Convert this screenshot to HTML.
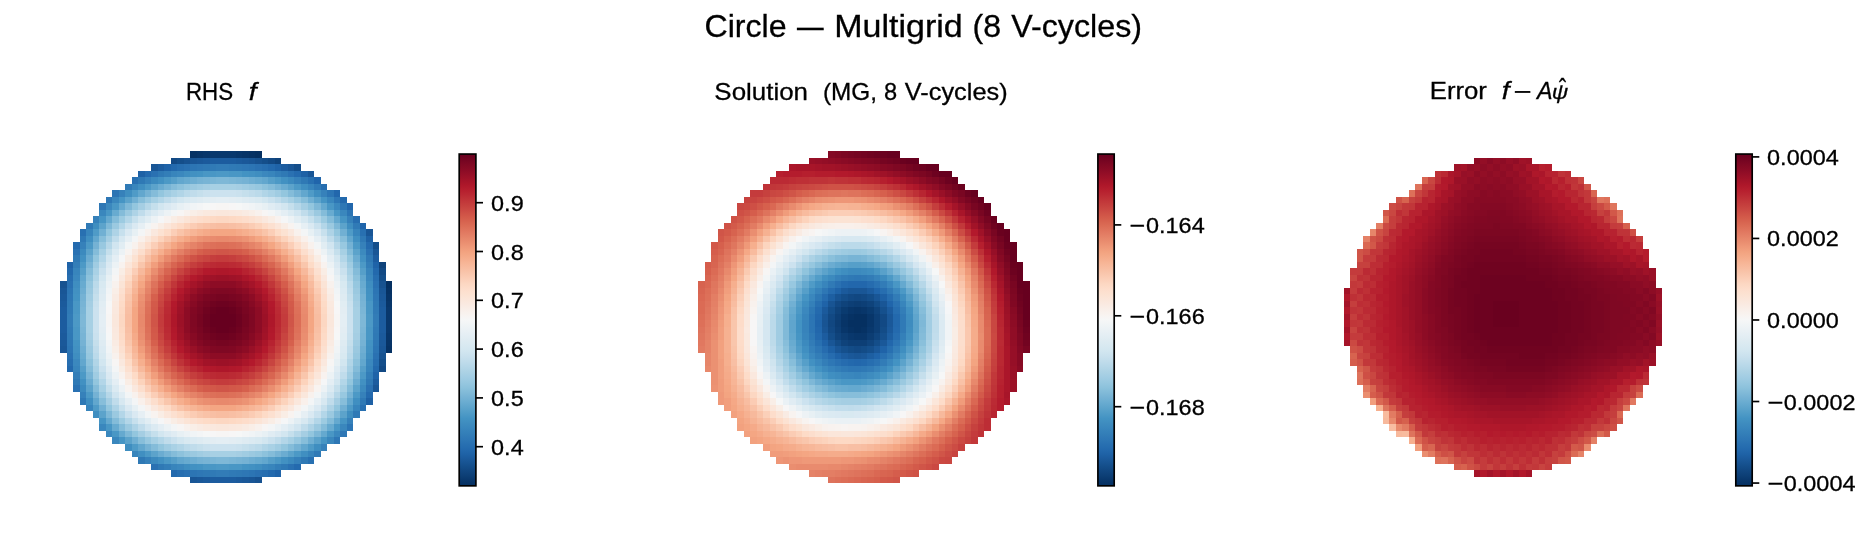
<!DOCTYPE html>
<html><head><meta charset="utf-8"><title>Circle — Multigrid (8 V-cycles)</title>
<style>html,body{margin:0;padding:0;background:#fff;}body{width:1872px;height:543px;overflow:hidden;}svg{display:block;}text{font-family:"Liberation Sans",sans-serif;fill:#000;stroke:#000;stroke-width:0.3px;}g.t{filter:opacity(100%);}</style></head><body>
<svg width="1872" height="543" viewBox="0 0 1872 543">
<rect width="1872" height="543" fill="#fff"/>
<g shape-rendering="crispEdges">
<g id="p1"><path fill="#063264" d="M190 151h7v7h-7zM249 151h6v7h-6zM386 288h6v6h-6zM386 346h6v7h-6z"/>
<path fill="#073467" d="M197 151h6v7h-6zM242 151h7v7h-7zM386 294h6v7h-6zM386 340h6v6h-6z"/>
<path fill="#08366a" d="M203 151h7v7h-7zM236 151h6v7h-6zM386 301h6v6h-6zM386 333h6v7h-6z"/>
<path fill="#09386d" d="M210 151h6v7h-6zM216 151h7v7h-7zM223 151h6v7h-6zM229 151h7v7h-7zM386 307h6v7h-6zM386 314h6v6h-6zM386 320h6v7h-6zM386 327h6v6h-6z"/>
<path fill="#053061" d="M255 151h7v7h-7zM386 281h6v7h-6z"/>
<path fill="#124984" d="M171 158h6v6h-6zM268 158h7v6h-7zM379 268h7v7h-7zM379 366h7v6h-7z"/>
<path fill="#144e8a" d="M177 158h7v6h-7zM262 158h6v6h-6zM294 164h7v7h-7zM373 242h6v7h-6zM379 275h7v6h-7zM379 359h7v7h-7z"/>
<path fill="#175290" d="M184 158h6v6h-6zM255 158h7v6h-7zM60 281h7v7h-7zM379 281h7v7h-7zM379 353h7v6h-7zM255 477h7v6h-7z"/>
<path fill="#195696" d="M190 158h7v6h-7zM249 158h6v6h-6zM151 164h7v7h-7zM288 164h6v7h-6zM308 171h6v6h-6zM366 229h7v7h-7zM373 249h6v6h-6zM60 288h7v6h-7zM379 288h7v6h-7zM60 346h7v7h-7zM379 346h7v7h-7zM373 385h6v7h-6zM190 477h7v6h-7zM249 477h6v6h-6z"/>
<path fill="#1a5899" d="M197 158h6v6h-6zM242 158h7v6h-7zM60 294h7v7h-7zM379 294h7v7h-7zM60 340h7v6h-7zM379 340h7v6h-7zM197 477h6v6h-6zM242 477h7v6h-7z"/>
<path fill="#1b5a9c" d="M203 158h7v6h-7zM236 158h6v6h-6zM60 301h7v6h-7zM379 301h7v6h-7zM60 333h7v7h-7zM379 333h7v7h-7zM203 477h7v6h-7zM236 477h6v6h-6z"/>
<path fill="#1c5c9f" d="M210 158h6v6h-6zM216 158h7v6h-7zM223 158h6v6h-6zM229 158h7v6h-7zM158 164h6v7h-6zM281 164h7v7h-7zM373 255h6v7h-6zM60 307h7v7h-7zM379 307h7v7h-7zM60 314h7v6h-7zM379 314h7v6h-7zM60 320h7v7h-7zM379 320h7v7h-7zM60 327h7v6h-7zM379 327h7v6h-7zM373 379h6v6h-6zM210 477h6v6h-6zM216 477h7v6h-7zM223 477h6v6h-6zM229 477h7v6h-7z"/>
<path fill="#0f437b" d="M275 158h6v6h-6zM379 262h7v6h-7z"/>
<path fill="#1f63a8" d="M164 164h7v7h-7zM275 164h6v7h-6zM67 262h6v6h-6zM373 262h6v6h-6zM373 372h6v7h-6zM275 470h6v7h-6z"/>
<path fill="#2369ad" d="M171 164h6v7h-6zM268 164h7v7h-7zM340 197h7v6h-7zM67 268h6v7h-6zM373 268h6v7h-6zM67 366h6v6h-6zM373 366h6v6h-6zM171 470h6v7h-6zM268 470h7v7h-7z"/>
<path fill="#276eb0" d="M177 164h7v7h-7zM262 164h6v7h-6zM321 184h6v6h-6zM353 216h7v7h-7zM67 275h6v6h-6zM373 275h6v6h-6zM67 359h6v7h-6zM373 359h6v7h-6zM177 470h7v7h-7zM262 470h6v7h-6z"/>
<path fill="#2a71b2" d="M184 164h6v7h-6zM255 164h7v7h-7zM151 171h7v6h-7zM288 171h6v6h-6zM73 249h7v6h-7zM366 249h7v6h-7zM67 281h6v7h-6zM373 281h6v7h-6zM67 353h6v6h-6zM373 353h6v6h-6zM73 385h7v7h-7zM366 385h7v7h-7zM151 464h7v6h-7zM288 464h6v6h-6zM184 470h6v7h-6zM255 470h7v7h-7z"/>
<path fill="#2c75b4" d="M190 164h7v7h-7zM249 164h6v7h-6zM112 190h7v7h-7zM327 190h7v7h-7zM347 210h6v6h-6zM67 288h6v6h-6zM373 288h6v6h-6zM67 346h6v7h-6zM373 346h6v7h-6zM347 424h6v7h-6zM190 470h7v7h-7zM249 470h6v7h-6z"/>
<path fill="#2e77b5" d="M197 164h6v7h-6zM242 164h7v7h-7zM106 197h6v6h-6zM334 197h6v6h-6zM99 203h7v7h-7zM340 203h7v7h-7zM67 294h6v7h-6zM373 294h6v7h-6zM67 340h6v6h-6zM373 340h6v6h-6zM340 431h7v6h-7zM334 437h6v7h-6zM197 470h6v7h-6zM242 470h7v7h-7z"/>
<path fill="#2f79b5" d="M203 164h7v7h-7zM236 164h6v7h-6zM158 171h6v6h-6zM281 171h7v6h-7zM138 177h7v7h-7zM301 177h7v7h-7zM80 236h6v6h-6zM360 236h6v6h-6zM73 255h7v7h-7zM366 255h7v7h-7zM67 301h6v6h-6zM373 301h6v6h-6zM67 333h6v7h-6zM373 333h6v7h-6zM73 379h7v6h-7zM366 379h7v6h-7zM80 398h6v7h-6zM360 398h6v7h-6zM138 457h7v7h-7zM301 457h7v7h-7zM158 464h6v6h-6zM281 464h7v6h-7zM203 470h7v7h-7zM236 470h6v7h-6z"/>
<path fill="#307ab6" d="M210 164h6v7h-6zM229 164h7v7h-7zM125 184h7v6h-7zM314 184h7v6h-7zM86 223h7v6h-7zM353 223h7v6h-7zM67 307h6v7h-6zM373 307h6v7h-6zM67 327h6v6h-6zM373 327h6v6h-6zM353 411h7v7h-7zM314 451h7v6h-7zM210 470h6v7h-6zM229 470h7v7h-7z"/>
<path fill="#327cb7" d="M216 164h7v7h-7zM223 164h6v7h-6zM67 314h6v6h-6zM373 314h6v6h-6zM67 320h6v7h-6zM373 320h6v7h-6zM216 470h7v7h-7zM223 470h6v7h-6z"/>
<path fill="#1e61a5" d="M138 171h7v6h-7zM301 171h7v6h-7zM366 236h7v6h-7zM366 398h7v7h-7z"/>
<path fill="#246aae" d="M145 171h6v6h-6zM294 171h7v6h-7zM73 242h7v7h-7zM366 242h7v7h-7zM366 392h7v6h-7zM294 464h7v6h-7z"/>
<path fill="#337eb8" d="M164 171h7v6h-7zM275 171h6v6h-6zM73 262h7v6h-7zM366 262h7v6h-7zM73 372h7v7h-7zM366 372h7v7h-7zM164 464h7v6h-7zM275 464h6v6h-6z"/>
<path fill="#3885bc" d="M171 171h6v6h-6zM268 171h7v6h-7zM132 184h6v6h-6zM308 184h6v6h-6zM86 229h7v7h-7zM353 229h7v7h-7zM73 268h7v7h-7zM366 268h7v7h-7zM73 366h7v6h-7zM366 366h7v6h-7zM86 405h7v6h-7zM353 405h7v6h-7zM132 451h6v6h-6zM308 451h6v6h-6zM171 464h6v6h-6zM268 464h7v6h-7z"/>
<path fill="#3b88be" d="M177 171h7v6h-7zM262 171h6v6h-6zM106 203h6v7h-6zM334 203h6v7h-6zM73 275h7v6h-7zM366 275h7v6h-7zM73 359h7v7h-7zM366 359h7v7h-7zM106 431h6v6h-6zM334 431h6v6h-6zM177 464h7v6h-7zM262 464h6v6h-6z"/>
<path fill="#3f8ec0" d="M184 171h6v6h-6zM255 171h7v6h-7zM125 190h7v7h-7zM314 190h7v7h-7zM93 223h6v6h-6zM347 223h6v6h-6zM73 281h7v7h-7zM366 281h7v7h-7zM73 353h7v6h-7zM366 353h7v6h-7zM93 411h6v7h-6zM347 411h6v7h-6zM125 444h7v7h-7zM314 444h7v7h-7zM184 464h6v6h-6zM255 464h7v6h-7z"/>
<path fill="#4291c2" d="M190 171h7v6h-7zM249 171h6v6h-6zM158 177h6v7h-6zM281 177h7v7h-7zM80 255h6v7h-6zM360 255h6v7h-6zM73 288h7v6h-7zM366 288h7v6h-7zM73 346h7v7h-7zM366 346h7v7h-7zM80 379h6v6h-6zM360 379h6v6h-6zM158 457h6v7h-6zM281 457h7v7h-7zM190 464h7v6h-7zM249 464h6v6h-6z"/>
<path fill="#4393c3" d="M197 171h6v6h-6zM242 171h7v6h-7zM73 294h7v7h-7zM366 294h7v7h-7zM73 340h7v6h-7zM366 340h7v6h-7zM197 464h6v6h-6zM242 464h7v6h-7z"/>
<path fill="#4997c5" d="M203 171h7v6h-7zM210 171h6v6h-6zM229 171h7v6h-7zM236 171h6v6h-6zM112 203h7v7h-7zM327 203h7v7h-7zM106 210h6v6h-6zM334 210h6v6h-6zM73 301h7v6h-7zM366 301h7v6h-7zM73 307h7v7h-7zM366 307h7v7h-7zM73 327h7v6h-7zM366 327h7v6h-7zM73 333h7v7h-7zM366 333h7v7h-7zM106 424h6v7h-6zM334 424h6v7h-6zM112 431h7v6h-7zM327 431h7v6h-7zM203 464h7v6h-7zM210 464h6v6h-6zM229 464h7v6h-7zM236 464h6v6h-6z"/>
<path fill="#4c99c6" d="M216 171h7v6h-7zM223 171h6v6h-6zM164 177h7v7h-7zM275 177h6v7h-6zM145 184h6v6h-6zM294 184h7v6h-7zM86 242h7v7h-7zM353 242h7v7h-7zM80 262h6v6h-6zM360 262h6v6h-6zM73 314h7v6h-7zM366 314h7v6h-7zM73 320h7v7h-7zM366 320h7v7h-7zM80 372h6v7h-6zM360 372h6v7h-6zM86 392h7v6h-7zM353 392h7v6h-7zM145 451h6v6h-6zM294 451h7v6h-7zM164 457h7v7h-7zM275 457h6v7h-6zM216 464h7v6h-7zM223 464h6v6h-6z"/>
<path fill="#2870b1" d="M132 177h6v7h-6zM308 177h6v7h-6zM80 229h6v7h-6zM360 229h6v7h-6zM360 405h6v6h-6zM308 457h6v7h-6z"/>
<path fill="#3681ba" d="M145 177h6v7h-6zM294 177h7v7h-7zM119 190h6v7h-6zM321 190h6v7h-6zM93 216h6v7h-6zM347 216h6v7h-6zM80 242h6v7h-6zM360 242h6v7h-6zM80 392h6v6h-6zM360 392h6v6h-6zM347 418h6v6h-6zM321 444h6v7h-6zM145 457h6v7h-6zM294 457h7v7h-7z"/>
<path fill="#3c8abe" d="M151 177h7v7h-7zM288 177h6v7h-6zM80 249h6v6h-6zM360 249h6v6h-6zM80 385h6v7h-6zM360 385h6v7h-6zM151 457h7v7h-7zM288 457h6v7h-6z"/>
<path fill="#569fc9" d="M171 177h6v7h-6zM268 177h7v7h-7zM80 268h6v7h-6zM360 268h6v7h-6zM80 366h6v6h-6zM360 366h6v6h-6zM171 457h6v7h-6zM268 457h7v7h-7z"/>
<path fill="#62a7ce" d="M177 177h7v7h-7zM262 177h6v7h-6zM138 190h7v7h-7zM301 190h7v7h-7zM93 236h6v6h-6zM347 236h6v6h-6zM80 275h6v6h-6zM360 275h6v6h-6zM80 359h6v7h-6zM360 359h6v7h-6zM93 398h6v7h-6zM347 398h6v7h-6zM138 444h7v7h-7zM301 444h7v7h-7zM177 457h7v7h-7zM262 457h6v7h-6z"/>
<path fill="#68abd0" d="M184 177h6v7h-6zM255 177h7v7h-7zM112 210h7v6h-7zM327 210h7v6h-7zM80 281h6v7h-6zM360 281h6v7h-6zM80 353h6v6h-6zM360 353h6v6h-6zM112 424h7v7h-7zM327 424h7v7h-7zM184 457h6v7h-6zM255 457h7v7h-7z"/>
<path fill="#6eaed2" d="M190 177h7v7h-7zM249 177h6v7h-6zM80 288h6v6h-6zM360 288h6v6h-6zM80 346h6v7h-6zM360 346h6v7h-6zM190 457h7v7h-7zM249 457h6v7h-6z"/>
<path fill="#75b2d4" d="M197 177h6v7h-6zM242 177h7v7h-7zM145 190h6v7h-6zM294 190h7v7h-7zM93 242h6v7h-6zM347 242h6v7h-6zM80 294h6v7h-6zM360 294h6v7h-6zM80 340h6v6h-6zM360 340h6v6h-6zM93 392h6v6h-6zM347 392h6v6h-6zM145 444h6v7h-6zM294 444h7v7h-7zM197 457h6v7h-6zM242 457h7v7h-7z"/>
<path fill="#78b4d5" d="M203 177h7v7h-7zM236 177h6v7h-6zM164 184h7v6h-7zM275 184h6v6h-6zM86 262h7v6h-7zM353 262h7v6h-7zM80 301h6v6h-6zM360 301h6v6h-6zM80 333h6v7h-6zM360 333h6v7h-6zM86 372h7v7h-7zM353 372h7v7h-7zM164 451h7v6h-7zM275 451h6v6h-6zM203 457h7v7h-7zM236 457h6v7h-6z"/>
<path fill="#7bb6d6" d="M210 177h6v7h-6zM229 177h7v7h-7zM80 307h6v7h-6zM360 307h6v7h-6zM80 327h6v6h-6zM360 327h6v6h-6zM210 457h6v7h-6zM229 457h7v7h-7z"/>
<path fill="#7eb8d7" d="M216 177h7v7h-7zM223 177h6v7h-6zM125 203h7v7h-7zM314 203h7v7h-7zM106 223h6v6h-6zM334 223h6v6h-6zM80 314h6v6h-6zM360 314h6v6h-6zM80 320h6v7h-6zM360 320h6v7h-6zM106 411h6v7h-6zM334 411h6v7h-6zM125 431h7v6h-7zM314 431h7v6h-7zM216 457h7v7h-7zM223 457h6v7h-6z"/>
<path fill="#2065ab" d="M314 177h7v7h-7zM360 223h6v6h-6z"/>
<path fill="#408fc1" d="M138 184h7v6h-7zM301 184h7v6h-7zM86 236h7v6h-7zM353 236h7v6h-7zM86 398h7v7h-7zM353 398h7v7h-7zM138 451h7v6h-7zM301 451h7v6h-7z"/>
<path fill="#5ca3cb" d="M151 184h7v6h-7zM288 184h6v6h-6zM125 197h7v6h-7zM314 197h7v6h-7zM99 223h7v6h-7zM340 223h7v6h-7zM86 249h7v6h-7zM353 249h7v6h-7zM86 385h7v7h-7zM353 385h7v7h-7zM99 411h7v7h-7zM340 411h7v7h-7zM125 437h7v7h-7zM314 437h7v7h-7zM151 451h7v6h-7zM288 451h6v6h-6z"/>
<path fill="#6bacd1" d="M158 184h6v6h-6zM281 184h7v6h-7zM86 255h7v7h-7zM353 255h7v7h-7zM86 379h7v6h-7zM353 379h7v6h-7zM158 451h6v6h-6zM281 451h7v6h-7z"/>
<path fill="#84bcd9" d="M171 184h6v6h-6zM268 184h7v6h-7zM151 190h7v7h-7zM288 190h6v7h-6zM119 210h6v6h-6zM321 210h6v6h-6zM112 216h7v7h-7zM327 216h7v7h-7zM93 249h6v6h-6zM347 249h6v6h-6zM86 268h7v7h-7zM353 268h7v7h-7zM86 366h7v6h-7zM353 366h7v6h-7zM93 385h6v7h-6zM347 385h6v7h-6zM112 418h7v6h-7zM327 418h7v6h-7zM119 424h6v7h-6zM321 424h6v7h-6zM151 444h7v7h-7zM288 444h6v7h-6zM171 451h6v6h-6zM268 451h7v6h-7z"/>
<path fill="#8dc2dc" d="M177 184h7v6h-7zM262 184h6v6h-6zM86 275h7v6h-7zM353 275h7v6h-7zM86 359h7v7h-7zM353 359h7v7h-7zM177 451h7v6h-7zM262 451h6v6h-6z"/>
<path fill="#96c7df" d="M184 184h6v6h-6zM255 184h7v6h-7zM86 281h7v7h-7zM353 281h7v7h-7zM86 353h7v6h-7zM353 353h7v6h-7zM184 451h6v6h-6zM255 451h7v6h-7z"/>
<path fill="#9bc9e0" d="M190 184h7v6h-7zM249 184h6v6h-6zM125 210h7v6h-7zM314 210h7v6h-7zM112 223h7v6h-7zM327 223h7v6h-7zM86 288h7v6h-7zM353 288h7v6h-7zM86 346h7v7h-7zM353 346h7v7h-7zM112 411h7v7h-7zM327 411h7v7h-7zM125 424h7v7h-7zM314 424h7v7h-7zM190 451h7v6h-7zM249 451h6v6h-6z"/>
<path fill="#a0cce2" d="M197 184h6v6h-6zM242 184h7v6h-7zM164 190h7v7h-7zM275 190h6v7h-6zM93 262h6v6h-6zM347 262h6v6h-6zM86 294h7v7h-7zM353 294h7v7h-7zM86 340h7v6h-7zM353 340h7v6h-7zM93 372h6v7h-6zM347 372h6v7h-6zM164 444h7v7h-7zM275 444h6v7h-6zM197 451h6v6h-6zM242 451h7v6h-7z"/>
<path fill="#a5cee3" d="M203 184h7v6h-7zM236 184h6v6h-6zM138 203h7v7h-7zM301 203h7v7h-7zM106 236h6v6h-6zM334 236h6v6h-6zM86 301h7v6h-7zM353 301h7v6h-7zM86 333h7v7h-7zM353 333h7v7h-7zM106 398h6v7h-6zM334 398h6v7h-6zM138 431h7v6h-7zM301 431h7v6h-7zM203 451h7v6h-7zM236 451h6v6h-6z"/>
<path fill="#a7d0e4" d="M210 184h6v6h-6zM216 184h7v6h-7zM223 184h6v6h-6zM229 184h7v6h-7zM151 197h7v6h-7zM288 197h6v6h-6zM99 249h7v6h-7zM340 249h7v6h-7zM86 307h7v7h-7zM353 307h7v7h-7zM86 314h7v6h-7zM353 314h7v6h-7zM86 320h7v7h-7zM353 320h7v7h-7zM86 327h7v6h-7zM353 327h7v6h-7zM99 385h7v7h-7zM340 385h7v7h-7zM151 437h7v7h-7zM288 437h6v7h-6zM210 451h6v6h-6zM216 451h7v6h-7zM223 451h6v6h-6zM229 451h7v6h-7z"/>
<path fill="#4f9bc7" d="M132 190h6v7h-6zM308 190h6v7h-6zM93 229h6v7h-6zM347 229h6v7h-6zM93 405h6v6h-6zM347 405h6v6h-6zM132 444h6v7h-6zM308 444h6v7h-6z"/>
<path fill="#93c6de" d="M158 190h6v7h-6zM281 190h7v7h-7zM132 203h6v7h-6zM308 203h6v7h-6zM106 229h6v7h-6zM334 229h6v7h-6zM93 255h6v7h-6zM347 255h6v7h-6zM93 379h6v6h-6zM347 379h6v6h-6zM106 405h6v6h-6zM334 405h6v6h-6zM132 431h6v6h-6zM308 431h6v6h-6zM158 444h6v7h-6zM281 444h7v7h-7z"/>
<path fill="#a9d1e5" d="M171 190h6v7h-6zM268 190h7v7h-7zM93 268h6v7h-6zM347 268h6v7h-6zM93 366h6v6h-6zM347 366h6v6h-6zM171 444h6v7h-6zM268 444h7v7h-7z"/>
<path fill="#b1d5e7" d="M177 190h7v7h-7zM262 190h6v7h-6zM93 275h6v6h-6zM347 275h6v6h-6zM93 359h6v7h-6zM347 359h6v7h-6zM177 444h7v7h-7zM262 444h6v7h-6z"/>
<path fill="#bbdaea" d="M184 190h6v7h-6zM255 190h7v7h-7zM93 281h6v7h-6zM347 281h6v7h-6zM93 353h6v6h-6zM347 353h6v6h-6zM184 444h6v7h-6zM255 444h7v7h-7z"/>
<path fill="#c0dceb" d="M190 190h7v7h-7zM249 190h6v7h-6zM164 197h7v6h-7zM275 197h6v6h-6zM138 210h7v6h-7zM301 210h7v6h-7zM112 236h7v6h-7zM327 236h7v6h-7zM99 262h7v6h-7zM340 262h7v6h-7zM93 288h6v6h-6zM347 288h6v6h-6zM93 346h6v7h-6zM347 346h6v7h-6zM99 372h7v7h-7zM340 372h7v7h-7zM112 398h7v7h-7zM327 398h7v7h-7zM138 424h7v7h-7zM301 424h7v7h-7zM164 437h7v7h-7zM275 437h6v7h-6zM190 444h7v7h-7zM249 444h6v7h-6z"/>
<path fill="#c5dfec" d="M197 190h6v7h-6zM242 190h7v7h-7zM151 203h7v7h-7zM288 203h6v7h-6zM106 249h6v6h-6zM334 249h6v6h-6zM93 294h6v7h-6zM347 294h6v7h-6zM93 340h6v6h-6zM347 340h6v6h-6zM106 385h6v7h-6zM334 385h6v7h-6zM151 431h7v6h-7zM288 431h6v6h-6zM197 444h6v7h-6zM242 444h7v7h-7z"/>
<path fill="#cae1ee" d="M203 190h7v7h-7zM236 190h6v7h-6zM171 197h6v6h-6zM268 197h7v6h-7zM125 223h7v6h-7zM314 223h7v6h-7zM99 268h7v7h-7zM340 268h7v7h-7zM93 301h6v6h-6zM347 301h6v6h-6zM93 333h6v7h-6zM347 333h6v7h-6zM99 366h7v6h-7zM340 366h7v6h-7zM125 411h7v7h-7zM314 411h7v7h-7zM171 437h6v7h-6zM268 437h7v7h-7zM203 444h7v7h-7zM236 444h6v7h-6z"/>
<path fill="#cce2ef" d="M210 190h6v7h-6zM216 190h7v7h-7zM223 190h6v7h-6zM229 190h7v7h-7zM93 307h6v7h-6zM347 307h6v7h-6zM93 314h6v6h-6zM347 314h6v6h-6zM93 320h6v7h-6zM347 320h6v7h-6zM93 327h6v6h-6zM347 327h6v6h-6zM210 444h6v7h-6zM216 444h7v7h-7zM223 444h6v7h-6zM229 444h7v7h-7z"/>
<path fill="#2267ac" d="M334 190h6v7h-6zM347 203h6v7h-6z"/>
<path fill="#3a87bd" d="M112 197h7v6h-7zM327 197h7v6h-7zM99 210h7v6h-7zM340 210h7v6h-7zM99 424h7v7h-7zM340 424h7v7h-7zM112 437h7v7h-7zM327 437h7v7h-7z"/>
<path fill="#4695c4" d="M119 197h6v6h-6zM321 197h6v6h-6zM99 216h7v7h-7zM340 216h7v7h-7zM99 418h7v6h-7zM340 418h7v6h-7zM119 437h6v7h-6zM321 437h6v7h-6z"/>
<path fill="#71b0d3" d="M132 197h6v6h-6zM308 197h6v6h-6zM99 229h7v7h-7zM340 229h7v7h-7zM99 405h7v6h-7zM340 405h7v6h-7zM132 437h6v7h-6zM308 437h6v7h-6z"/>
<path fill="#87beda" d="M138 197h7v6h-7zM301 197h7v6h-7zM99 236h7v6h-7zM340 236h7v6h-7zM99 398h7v7h-7zM340 398h7v7h-7zM138 437h7v7h-7zM301 437h7v7h-7z"/>
<path fill="#98c8e0" d="M145 197h6v6h-6zM294 197h7v6h-7zM99 242h7v7h-7zM340 242h7v7h-7zM99 392h7v6h-7zM340 392h7v6h-7zM145 437h6v7h-6zM294 437h7v7h-7z"/>
<path fill="#b3d6e8" d="M158 197h6v6h-6zM281 197h7v6h-7zM125 216h7v7h-7zM314 216h7v7h-7zM119 223h6v6h-6zM321 223h6v6h-6zM99 255h7v7h-7zM340 255h7v7h-7zM99 379h7v6h-7zM340 379h7v6h-7zM119 411h6v7h-6zM321 411h6v7h-6zM125 418h7v6h-7zM314 418h7v6h-7zM158 437h6v7h-6zM281 437h7v7h-7z"/>
<path fill="#d2e6f0" d="M177 197h7v6h-7zM262 197h6v6h-6zM158 203h6v7h-6zM281 203h7v7h-7zM106 255h6v7h-6zM334 255h6v7h-6zM99 275h7v6h-7zM340 275h7v6h-7zM99 359h7v7h-7zM340 359h7v7h-7zM106 379h6v6h-6zM334 379h6v6h-6zM158 431h6v6h-6zM281 431h7v6h-7zM177 437h7v7h-7zM262 437h6v7h-6z"/>
<path fill="#d8e9f1" d="M184 197h6v6h-6zM255 197h7v6h-7zM99 281h7v7h-7zM340 281h7v7h-7zM99 353h7v6h-7zM340 353h7v6h-7zM184 437h6v7h-6zM255 437h7v7h-7z"/>
<path fill="#dbeaf2" d="M190 197h7v6h-7zM249 197h6v6h-6zM151 210h7v6h-7zM288 210h6v6h-6zM112 249h7v6h-7zM327 249h7v6h-7zM99 288h7v6h-7zM340 288h7v6h-7zM99 346h7v7h-7zM340 346h7v7h-7zM112 385h7v7h-7zM327 385h7v7h-7zM151 424h7v7h-7zM288 424h6v7h-6zM190 437h7v7h-7zM249 437h6v7h-6z"/>
<path fill="#deebf2" d="M197 197h6v6h-6zM242 197h7v6h-7zM99 294h7v7h-7zM340 294h7v7h-7zM99 340h7v6h-7zM340 340h7v6h-7zM197 437h6v7h-6zM242 437h7v7h-7z"/>
<path fill="#e1edf3" d="M203 197h7v6h-7zM236 197h6v6h-6zM145 216h6v7h-6zM294 216h7v7h-7zM119 242h6v7h-6zM321 242h6v7h-6zM99 301h7v6h-7zM340 301h7v6h-7zM99 333h7v7h-7zM340 333h7v7h-7zM119 392h6v6h-6zM321 392h6v6h-6zM145 418h6v6h-6zM294 418h7v6h-7zM203 437h7v7h-7zM236 437h6v7h-6z"/>
<path fill="#e3edf3" d="M210 197h6v6h-6zM229 197h7v6h-7zM99 307h7v7h-7zM340 307h7v7h-7zM99 327h7v6h-7zM340 327h7v6h-7zM210 437h6v7h-6zM229 437h7v7h-7z"/>
<path fill="#e4eef4" d="M216 197h7v6h-7zM223 197h6v6h-6zM158 210h6v6h-6zM281 210h7v6h-7zM112 255h7v7h-7zM327 255h7v7h-7zM99 314h7v6h-7zM340 314h7v6h-7zM99 320h7v7h-7zM340 320h7v7h-7zM112 379h7v6h-7zM327 379h7v6h-7zM158 424h6v7h-6zM281 424h7v7h-7zM216 437h7v7h-7zM223 437h6v7h-6z"/>
<path fill="#65a9cf" d="M119 203h6v7h-6zM321 203h6v7h-6zM106 216h6v7h-6zM334 216h6v7h-6zM106 418h6v6h-6zM334 418h6v6h-6zM119 431h6v6h-6zM321 431h6v6h-6z"/>
<path fill="#b6d7e8" d="M145 203h6v7h-6zM294 203h7v7h-7zM106 242h6v7h-6zM334 242h6v7h-6zM106 392h6v6h-6zM334 392h6v6h-6zM145 431h6v6h-6zM294 431h7v6h-7z"/>
<path fill="#dae9f2" d="M164 203h7v7h-7zM275 203h6v7h-6zM132 223h6v6h-6zM308 223h6v6h-6zM125 229h7v7h-7zM314 229h7v7h-7zM106 262h6v6h-6zM334 262h6v6h-6zM106 372h6v7h-6zM334 372h6v7h-6zM125 405h7v6h-7zM314 405h7v6h-7zM132 411h6v7h-6zM308 411h6v7h-6zM164 431h7v6h-7zM275 431h6v6h-6z"/>
<path fill="#e0ecf3" d="M171 203h6v7h-6zM268 203h7v7h-7zM106 268h6v7h-6zM334 268h6v7h-6zM106 366h6v6h-6zM334 366h6v6h-6zM171 431h6v6h-6zM268 431h7v6h-7z"/>
<path fill="#e7f0f4" d="M177 203h7v7h-7zM262 203h6v7h-6zM132 229h6v7h-6zM308 229h6v7h-6zM106 275h6v6h-6zM334 275h6v6h-6zM106 359h6v7h-6zM334 359h6v7h-6zM132 405h6v6h-6zM308 405h6v6h-6zM177 431h7v6h-7zM262 431h6v6h-6z"/>
<path fill="#ecf2f5" d="M184 203h6v7h-6zM255 203h7v7h-7zM164 210h7v6h-7zM275 210h6v6h-6zM151 216h7v7h-7zM288 216h6v7h-6zM119 249h6v6h-6zM321 249h6v6h-6zM112 262h7v6h-7zM327 262h7v6h-7zM106 281h6v7h-6zM334 281h6v7h-6zM106 353h6v6h-6zM334 353h6v6h-6zM112 372h7v7h-7zM327 372h7v7h-7zM119 385h6v7h-6zM321 385h6v7h-6zM151 418h7v6h-7zM288 418h6v6h-6zM164 424h7v7h-7zM275 424h6v7h-6zM184 431h6v6h-6zM255 431h7v6h-7z"/>
<path fill="#f0f4f6" d="M190 203h7v7h-7zM249 203h6v7h-6zM106 288h6v6h-6zM334 288h6v6h-6zM106 346h6v7h-6zM334 346h6v7h-6zM190 431h7v6h-7zM249 431h6v6h-6z"/>
<path fill="#f3f5f6" d="M197 203h6v7h-6zM242 203h7v7h-7zM171 210h6v6h-6zM268 210h7v6h-7zM138 229h7v7h-7zM301 229h7v7h-7zM132 236h6v6h-6zM308 236h6v6h-6zM112 268h7v7h-7zM327 268h7v7h-7zM106 294h6v7h-6zM334 294h6v7h-6zM106 340h6v6h-6zM334 340h6v6h-6zM112 366h7v6h-7zM327 366h7v6h-7zM132 398h6v7h-6zM308 398h6v7h-6zM138 405h7v6h-7zM301 405h7v6h-7zM171 424h6v7h-6zM268 424h7v7h-7zM197 431h6v6h-6zM242 431h7v6h-7z"/>
<path fill="#f6f7f7" d="M203 203h7v7h-7zM236 203h6v7h-6zM106 301h6v6h-6zM334 301h6v6h-6zM106 333h6v7h-6zM334 333h6v7h-6zM203 431h7v6h-7zM236 431h6v6h-6z"/>
<path fill="#f7f6f6" d="M210 203h6v7h-6zM229 203h7v7h-7zM106 307h6v7h-6zM334 307h6v7h-6zM106 327h6v6h-6zM334 327h6v6h-6zM210 431h6v6h-6zM229 431h7v6h-7z"/>
<path fill="#f7f5f4" d="M216 203h7v7h-7zM223 203h6v7h-6zM177 210h7v6h-7zM262 210h6v6h-6zM112 275h7v6h-7zM327 275h7v6h-7zM106 314h6v6h-6zM334 314h6v6h-6zM106 320h6v7h-6zM334 320h6v7h-6zM112 359h7v7h-7zM327 359h7v7h-7zM177 424h7v7h-7zM262 424h6v7h-6zM216 431h7v6h-7zM223 431h6v6h-6z"/>
<path fill="#aed3e6" d="M132 210h6v6h-6zM308 210h6v6h-6zM112 229h7v7h-7zM327 229h7v7h-7zM112 405h7v6h-7zM327 405h7v6h-7zM132 424h6v7h-6zM308 424h6v7h-6z"/>
<path fill="#d1e5f0" d="M145 210h6v6h-6zM294 210h7v6h-7zM112 242h7v7h-7zM327 242h7v7h-7zM112 392h7v6h-7zM327 392h7v6h-7zM145 424h6v7h-6zM294 424h7v7h-7z"/>
<path fill="#f8f1ed" d="M184 210h6v6h-6zM255 210h7v6h-7zM145 229h6v7h-6zM294 229h7v7h-7zM132 242h6v7h-6zM308 242h6v7h-6zM112 281h7v7h-7zM327 281h7v7h-7zM112 353h7v6h-7zM327 353h7v6h-7zM132 392h6v6h-6zM308 392h6v6h-6zM145 405h6v6h-6zM294 405h7v6h-7zM184 424h6v7h-6zM255 424h7v7h-7z"/>
<path fill="#f9eee7" d="M190 210h7v6h-7zM249 210h6v6h-6zM112 288h7v6h-7zM327 288h7v6h-7zM112 346h7v7h-7zM327 346h7v7h-7zM190 424h7v7h-7zM249 424h6v7h-6z"/>
<path fill="#f9ebe3" d="M197 210h6v6h-6zM242 210h7v6h-7zM112 294h7v7h-7zM327 294h7v7h-7zM112 340h7v6h-7zM327 340h7v6h-7zM197 424h6v7h-6zM242 424h7v7h-7z"/>
<path fill="#fae9df" d="M203 210h7v6h-7zM236 210h6v6h-6zM112 301h7v6h-7zM327 301h7v6h-7zM112 333h7v7h-7zM327 333h7v7h-7zM203 424h7v7h-7zM236 424h6v7h-6z"/>
<path fill="#fae8de" d="M210 210h6v6h-6zM229 210h7v6h-7zM177 216h7v7h-7zM262 216h6v7h-6zM151 229h7v7h-7zM288 229h6v7h-6zM132 249h6v6h-6zM308 249h6v6h-6zM119 275h6v6h-6zM321 275h6v6h-6zM112 307h7v7h-7zM327 307h7v7h-7zM112 327h7v6h-7zM327 327h7v6h-7zM119 359h6v7h-6zM321 359h6v7h-6zM132 385h6v7h-6zM308 385h6v7h-6zM151 405h7v6h-7zM288 405h6v6h-6zM177 418h7v6h-7zM262 418h6v6h-6zM210 424h6v7h-6zM229 424h7v7h-7z"/>
<path fill="#fae7dc" d="M216 210h7v6h-7zM223 210h6v6h-6zM145 236h6v6h-6zM294 236h7v6h-7zM138 242h7v7h-7zM301 242h7v7h-7zM112 314h7v6h-7zM327 314h7v6h-7zM112 320h7v7h-7zM327 320h7v7h-7zM138 392h7v6h-7zM301 392h7v6h-7zM145 398h6v7h-6zM294 398h7v7h-7zM216 424h7v7h-7zM223 424h6v7h-6z"/>
<path fill="#9dcbe1" d="M119 216h6v7h-6zM321 216h6v7h-6zM119 418h6v6h-6zM321 418h6v6h-6z"/>
<path fill="#c7e0ed" d="M132 216h6v7h-6zM308 216h6v7h-6zM119 229h6v7h-6zM321 229h6v7h-6zM119 405h6v6h-6zM321 405h6v6h-6zM132 418h6v6h-6zM308 418h6v6h-6z"/>
<path fill="#d7e8f1" d="M138 216h7v7h-7zM301 216h7v7h-7zM119 236h6v6h-6zM321 236h6v6h-6zM119 398h6v7h-6zM321 398h6v7h-6zM138 418h7v6h-7zM301 418h7v6h-7z"/>
<path fill="#f5f6f7" d="M158 216h6v7h-6zM281 216h7v7h-7zM119 255h6v7h-6zM321 255h6v7h-6zM119 379h6v6h-6zM321 379h6v6h-6zM158 418h6v6h-6zM281 418h7v6h-7z"/>
<path fill="#f8f2ef" d="M164 216h7v7h-7zM275 216h6v7h-6zM119 262h6v6h-6zM321 262h6v6h-6zM119 372h6v7h-6zM321 372h6v7h-6zM164 418h7v6h-7zM275 418h6v6h-6z"/>
<path fill="#f9ede5" d="M171 216h6v7h-6zM268 216h7v7h-7zM158 223h6v6h-6zM281 223h7v6h-7zM125 255h7v7h-7zM314 255h7v7h-7zM119 268h6v7h-6zM321 268h6v7h-6zM119 366h6v6h-6zM321 366h6v6h-6zM125 379h7v6h-7zM314 379h7v6h-7zM158 411h6v7h-6zM281 411h7v7h-7zM171 418h6v6h-6zM268 418h7v6h-7z"/>
<path fill="#fbe4d6" d="M184 216h6v7h-6zM255 216h7v7h-7zM119 281h6v7h-6zM321 281h6v7h-6zM119 353h6v6h-6zM321 353h6v6h-6zM184 418h6v6h-6zM255 418h7v6h-7z"/>
<path fill="#fce0d0" d="M190 216h7v7h-7zM249 216h6v7h-6zM171 223h6v6h-6zM268 223h7v6h-7zM125 268h7v7h-7zM314 268h7v7h-7zM119 288h6v6h-6zM321 288h6v6h-6zM119 346h6v7h-6zM321 346h6v7h-6zM125 366h7v6h-7zM314 366h7v6h-7zM171 411h6v7h-6zM268 411h7v7h-7zM190 418h7v6h-7zM249 418h6v6h-6z"/>
<path fill="#fdddcb" d="M197 216h6v7h-6zM242 216h7v7h-7zM145 242h6v7h-6zM294 242h7v7h-7zM119 294h6v7h-6zM321 294h6v7h-6zM119 340h6v6h-6zM321 340h6v6h-6zM145 392h6v6h-6zM294 392h7v6h-7zM197 418h6v6h-6zM242 418h7v6h-7z"/>
<path fill="#fddbc7" d="M203 216h7v7h-7zM236 216h6v7h-6zM177 223h7v6h-7zM262 223h6v6h-6zM164 229h7v7h-7zM275 229h6v7h-6zM132 262h6v6h-6zM308 262h6v6h-6zM125 275h7v6h-7zM314 275h7v6h-7zM119 301h6v6h-6zM321 301h6v6h-6zM119 333h6v7h-6zM321 333h6v7h-6zM125 359h7v7h-7zM314 359h7v7h-7zM132 372h6v7h-6zM308 372h6v7h-6zM164 405h7v6h-7zM275 405h6v6h-6zM177 411h7v7h-7zM262 411h6v7h-6zM203 418h7v6h-7zM236 418h6v6h-6z"/>
<path fill="#fdd9c4" d="M210 216h6v7h-6zM229 216h7v7h-7zM119 307h6v7h-6zM321 307h6v7h-6zM119 327h6v6h-6zM321 327h6v6h-6zM210 418h6v6h-6zM229 418h7v6h-7z"/>
<path fill="#fcd7c2" d="M216 216h7v7h-7zM223 216h6v7h-6zM119 314h6v6h-6zM321 314h6v6h-6zM119 320h6v7h-6zM321 320h6v7h-6zM216 418h7v6h-7zM223 418h6v6h-6z"/>
<path fill="#e6eff4" d="M138 223h7v6h-7zM301 223h7v6h-7zM125 236h7v6h-7zM314 236h7v6h-7zM125 398h7v7h-7zM314 398h7v7h-7zM138 411h7v7h-7zM301 411h7v7h-7z"/>
<path fill="#f2f5f6" d="M145 223h6v6h-6zM294 223h7v6h-7zM125 242h7v7h-7zM314 242h7v7h-7zM125 392h7v6h-7zM314 392h7v6h-7zM145 411h6v7h-6zM294 411h7v7h-7z"/>
<path fill="#f8f3f0" d="M151 223h7v6h-7zM288 223h6v6h-6zM125 249h7v6h-7zM314 249h7v6h-7zM125 385h7v7h-7zM314 385h7v7h-7zM151 411h7v7h-7zM288 411h6v7h-6z"/>
<path fill="#fbe6da" d="M164 223h7v6h-7zM275 223h6v6h-6zM125 262h7v6h-7zM314 262h7v6h-7zM125 372h7v7h-7zM314 372h7v7h-7zM164 411h7v7h-7zM275 411h6v7h-6z"/>
<path fill="#fcd3bc" d="M184 223h6v6h-6zM255 223h7v6h-7zM158 236h6v6h-6zM281 236h7v6h-7zM138 255h7v7h-7zM301 255h7v7h-7zM125 281h7v7h-7zM314 281h7v7h-7zM125 353h7v6h-7zM314 353h7v6h-7zM138 379h7v6h-7zM301 379h7v6h-7zM158 398h6v7h-6zM281 398h7v7h-7zM184 411h6v7h-6zM255 411h7v7h-7z"/>
<path fill="#fbccb4" d="M190 223h7v6h-7zM249 223h6v6h-6zM125 288h7v6h-7zM314 288h7v6h-7zM125 346h7v7h-7zM314 346h7v7h-7zM190 411h7v7h-7zM249 411h6v7h-6z"/>
<path fill="#f9c6ac" d="M197 223h6v6h-6zM242 223h7v6h-7zM164 236h7v6h-7zM275 236h6v6h-6zM138 262h7v6h-7zM301 262h7v6h-7zM125 294h7v7h-7zM314 294h7v7h-7zM125 340h7v6h-7zM314 340h7v6h-7zM138 372h7v7h-7zM301 372h7v7h-7zM164 398h7v7h-7zM275 398h6v7h-6zM197 411h6v7h-6zM242 411h7v7h-7z"/>
<path fill="#f9c2a7" d="M203 223h7v6h-7zM236 223h6v6h-6zM125 301h7v6h-7zM314 301h7v6h-7zM125 333h7v7h-7zM314 333h7v7h-7zM203 411h7v7h-7zM236 411h6v7h-6z"/>
<path fill="#f8bfa4" d="M210 223h6v6h-6zM229 223h7v6h-7zM158 242h6v7h-6zM281 242h7v7h-7zM145 255h6v7h-6zM294 255h7v7h-7zM125 307h7v7h-7zM314 307h7v7h-7zM125 327h7v6h-7zM314 327h7v6h-7zM145 379h6v6h-6zM294 379h7v6h-7zM158 392h6v6h-6zM281 392h7v6h-7zM210 411h6v7h-6zM229 411h7v7h-7z"/>
<path fill="#f8bda1" d="M216 223h7v6h-7zM223 223h6v6h-6zM151 249h7v6h-7zM288 249h6v6h-6zM125 314h7v6h-7zM314 314h7v6h-7zM125 320h7v7h-7zM314 320h7v7h-7zM151 385h7v7h-7zM288 385h6v7h-6zM216 411h7v7h-7zM223 411h6v7h-6z"/>
<path fill="#fce2d2" d="M158 229h6v7h-6zM281 229h7v7h-7zM132 255h6v7h-6zM308 255h6v7h-6zM132 379h6v6h-6zM308 379h6v6h-6zM158 405h6v6h-6zM281 405h7v6h-7z"/>
<path fill="#fbceb7" d="M171 229h6v7h-6zM268 229h7v7h-7zM151 242h7v7h-7zM288 242h6v7h-6zM145 249h6v6h-6zM294 249h7v6h-7zM132 268h6v7h-6zM308 268h6v7h-6zM132 366h6v6h-6zM308 366h6v6h-6zM145 385h6v7h-6zM294 385h7v7h-7zM151 392h7v6h-7zM288 392h6v6h-6zM171 405h6v6h-6zM268 405h7v6h-7z"/>
<path fill="#f9c4a9" d="M177 229h7v7h-7zM262 229h6v7h-6zM132 275h6v6h-6zM308 275h6v6h-6zM132 359h6v7h-6zM308 359h6v7h-6zM177 405h7v6h-7zM262 405h6v6h-6z"/>
<path fill="#f8bb9e" d="M184 229h6v7h-6zM255 229h7v7h-7zM132 281h6v7h-6zM308 281h6v7h-6zM132 353h6v6h-6zM308 353h6v6h-6zM184 405h6v6h-6zM255 405h7v6h-7z"/>
<path fill="#f7b596" d="M190 229h7v7h-7zM249 229h6v7h-6zM132 288h6v6h-6zM308 288h6v6h-6zM132 346h6v7h-6zM308 346h6v7h-6zM190 405h7v6h-7zM249 405h6v6h-6z"/>
<path fill="#f6af8e" d="M197 229h6v7h-6zM242 229h7v7h-7zM177 236h7v6h-7zM262 236h6v6h-6zM158 249h6v6h-6zM281 249h7v6h-7zM151 255h7v7h-7zM288 255h6v7h-6zM138 275h7v6h-7zM301 275h7v6h-7zM132 294h6v7h-6zM308 294h6v7h-6zM132 340h6v6h-6zM308 340h6v6h-6zM138 359h7v7h-7zM301 359h7v7h-7zM151 379h7v6h-7zM288 379h6v6h-6zM158 385h6v7h-6zM281 385h7v7h-7zM177 398h7v7h-7zM262 398h6v7h-6zM197 405h6v6h-6zM242 405h7v6h-7z"/>
<path fill="#f5aa89" d="M203 229h7v7h-7zM236 229h6v7h-6zM132 301h6v6h-6zM308 301h6v6h-6zM132 333h6v7h-6zM308 333h6v7h-6zM203 405h7v6h-7zM236 405h6v6h-6z"/>
<path fill="#f4a683" d="M210 229h6v7h-6zM216 229h7v7h-7zM223 229h6v7h-6zM229 229h7v7h-7zM184 236h6v6h-6zM255 236h7v6h-7zM171 242h6v7h-6zM268 242h7v7h-7zM145 268h6v7h-6zM294 268h7v7h-7zM138 281h7v7h-7zM301 281h7v7h-7zM132 307h6v7h-6zM308 307h6v7h-6zM132 314h6v6h-6zM308 314h6v6h-6zM132 320h6v7h-6zM308 320h6v7h-6zM132 327h6v6h-6zM308 327h6v6h-6zM138 353h7v6h-7zM301 353h7v6h-7zM145 366h6v6h-6zM294 366h7v6h-7zM171 392h6v6h-6zM268 392h7v6h-7zM184 398h6v7h-6zM255 398h7v7h-7zM210 405h6v6h-6zM216 405h7v6h-7zM223 405h6v6h-6zM229 405h7v6h-7z"/>
<path fill="#f9f0eb" d="M138 236h7v6h-7zM301 236h7v6h-7zM138 398h7v7h-7zM301 398h7v7h-7z"/>
<path fill="#fcdecd" d="M151 236h7v6h-7zM288 236h6v6h-6zM138 249h7v6h-7zM301 249h7v6h-7zM138 385h7v7h-7zM301 385h7v7h-7zM151 398h7v7h-7zM288 398h6v7h-6z"/>
<path fill="#f7b99c" d="M171 236h6v6h-6zM268 236h7v6h-7zM138 268h7v7h-7zM301 268h7v7h-7zM138 366h7v6h-7zM301 366h7v6h-7zM171 398h6v7h-6zM268 398h7v7h-7z"/>
<path fill="#f09c7b" d="M190 236h7v6h-7zM249 236h6v6h-6zM158 255h6v7h-6zM281 255h7v7h-7zM138 288h7v6h-7zM301 288h7v6h-7zM138 346h7v7h-7zM301 346h7v7h-7zM158 379h6v6h-6zM281 379h7v6h-7zM190 398h7v7h-7zM249 398h6v7h-6z"/>
<path fill="#ec9374" d="M197 236h6v6h-6zM242 236h7v6h-7zM138 294h7v7h-7zM301 294h7v7h-7zM138 340h7v6h-7zM301 340h7v6h-7zM197 398h6v7h-6zM242 398h7v7h-7z"/>
<path fill="#ea8e70" d="M203 236h7v6h-7zM236 236h6v6h-6zM171 249h6v6h-6zM268 249h7v6h-7zM151 268h7v7h-7zM288 268h6v7h-6zM138 301h7v6h-7zM301 301h7v6h-7zM138 333h7v7h-7zM301 333h7v7h-7zM151 366h7v6h-7zM288 366h6v6h-6zM171 385h6v7h-6zM268 385h7v7h-7zM203 398h7v7h-7zM236 398h6v7h-6z"/>
<path fill="#e98b6e" d="M210 236h6v6h-6zM229 236h7v6h-7zM184 242h6v7h-6zM255 242h7v7h-7zM145 281h6v7h-6zM294 281h7v7h-7zM138 307h7v7h-7zM301 307h7v7h-7zM138 327h7v6h-7zM301 327h7v6h-7zM145 353h6v6h-6zM294 353h7v6h-7zM184 392h6v6h-6zM255 392h7v6h-7zM210 398h6v7h-6zM229 398h7v7h-7z"/>
<path fill="#e8896c" d="M216 236h7v6h-7zM223 236h6v6h-6zM164 255h7v7h-7zM275 255h6v7h-6zM158 262h6v6h-6zM281 262h7v6h-7zM138 314h7v6h-7zM301 314h7v6h-7zM138 320h7v7h-7zM301 320h7v7h-7zM158 372h6v7h-6zM281 372h7v7h-7zM164 379h7v6h-7zM275 379h6v6h-6zM216 398h7v7h-7zM223 398h6v7h-6z"/>
<path fill="#f6b394" d="M164 242h7v7h-7zM275 242h6v7h-6zM145 262h6v6h-6zM294 262h7v6h-7zM145 372h6v7h-6zM294 372h7v7h-7zM164 392h7v6h-7zM275 392h6v6h-6z"/>
<path fill="#ef9979" d="M177 242h7v7h-7zM262 242h6v7h-6zM145 275h6v6h-6zM294 275h7v6h-7zM145 359h6v7h-6zM294 359h7v7h-7zM177 392h7v6h-7zM262 392h6v6h-6z"/>
<path fill="#e58368" d="M190 242h7v7h-7zM249 242h6v7h-6zM145 288h6v6h-6zM294 288h7v6h-7zM145 346h6v7h-6zM294 346h7v7h-7zM190 392h7v6h-7zM249 392h6v6h-6z"/>
<path fill="#e27b62" d="M197 242h6v7h-6zM242 242h7v7h-7zM145 294h6v7h-6zM294 294h7v7h-7zM145 340h6v6h-6zM294 340h7v6h-7zM197 392h6v6h-6zM242 392h7v6h-7z"/>
<path fill="#de735c" d="M203 242h7v7h-7zM236 242h6v7h-6zM184 249h6v6h-6zM255 249h7v6h-7zM151 281h7v7h-7zM288 281h6v7h-6zM145 301h6v6h-6zM294 301h7v6h-7zM145 333h6v7h-6zM294 333h7v7h-7zM151 353h7v6h-7zM288 353h6v6h-6zM184 385h6v7h-6zM255 385h7v7h-7zM203 392h7v6h-7zM236 392h6v6h-6z"/>
<path fill="#dd7059" d="M210 242h6v7h-6zM229 242h7v7h-7zM145 307h6v7h-6zM294 307h7v7h-7zM145 327h6v6h-6zM294 327h7v6h-7zM210 392h6v6h-6zM229 392h7v6h-7z"/>
<path fill="#dc6e57" d="M216 242h7v7h-7zM223 242h6v7h-6zM145 314h6v6h-6zM294 314h7v6h-7zM145 320h6v7h-6zM294 320h7v7h-7zM216 392h7v6h-7zM223 392h6v6h-6z"/>
<path fill="#f19e7d" d="M164 249h7v6h-7zM275 249h6v6h-6zM151 262h7v6h-7zM288 262h6v6h-6zM151 372h7v7h-7zM288 372h6v7h-6zM164 385h7v7h-7zM275 385h6v7h-6z"/>
<path fill="#e48066" d="M177 249h7v6h-7zM262 249h6v6h-6zM151 275h7v6h-7zM288 275h6v6h-6zM151 359h7v7h-7zM288 359h6v7h-6zM177 385h7v7h-7zM262 385h6v7h-6z"/>
<path fill="#db6b55" d="M190 249h7v6h-7zM249 249h6v6h-6zM177 255h7v7h-7zM262 255h6v7h-6zM158 275h6v6h-6zM281 275h7v6h-7zM151 288h7v6h-7zM288 288h6v6h-6zM151 346h7v7h-7zM288 346h6v7h-6zM158 359h6v7h-6zM281 359h7v7h-7zM177 379h7v6h-7zM262 379h6v6h-6zM190 385h7v7h-7zM249 385h6v7h-6z"/>
<path fill="#d6604d" d="M197 249h6v6h-6zM242 249h7v6h-7zM151 294h7v7h-7zM288 294h6v7h-6zM151 340h7v6h-7zM288 340h6v6h-6zM197 385h6v7h-6zM242 385h7v7h-7z"/>
<path fill="#d35a4a" d="M203 249h7v6h-7zM236 249h6v6h-6zM151 301h7v6h-7zM288 301h6v6h-6zM151 333h7v7h-7zM288 333h6v7h-6zM203 385h7v7h-7zM236 385h6v7h-6z"/>
<path fill="#d25849" d="M210 249h6v6h-6zM229 249h7v6h-7zM177 262h7v6h-7zM262 262h6v6h-6zM164 275h7v6h-7zM275 275h6v6h-6zM151 307h7v7h-7zM288 307h6v7h-6zM151 327h7v6h-7zM288 327h6v6h-6zM164 359h7v7h-7zM275 359h6v7h-6zM177 372h7v7h-7zM262 372h6v7h-6zM210 385h6v7h-6zM229 385h7v7h-7z"/>
<path fill="#d05548" d="M216 249h7v6h-7zM223 249h6v6h-6zM171 268h6v7h-6zM268 268h7v7h-7zM151 314h7v6h-7zM288 314h6v6h-6zM151 320h7v7h-7zM288 320h6v7h-6zM171 366h6v6h-6zM268 366h7v6h-7zM216 385h7v7h-7zM223 385h6v7h-6z"/>
<path fill="#e17860" d="M171 255h6v7h-6zM268 255h7v7h-7zM158 268h6v7h-6zM281 268h7v7h-7zM158 366h6v6h-6zM281 366h7v6h-7zM171 379h6v6h-6zM268 379h7v6h-7z"/>
<path fill="#d55d4c" d="M184 255h6v7h-6zM255 255h7v7h-7zM158 281h6v7h-6zM281 281h7v7h-7zM158 353h6v6h-6zM281 353h7v6h-7zM184 379h6v6h-6zM255 379h7v6h-7z"/>
<path fill="#cf5246" d="M190 255h7v7h-7zM249 255h6v7h-6zM158 288h6v6h-6zM281 288h7v6h-7zM158 346h6v7h-6zM281 346h7v7h-7zM190 379h7v6h-7zM249 379h6v6h-6z"/>
<path fill="#cb4942" d="M197 255h6v7h-6zM242 255h7v7h-7zM184 262h6v6h-6zM255 262h7v6h-7zM164 281h7v7h-7zM275 281h6v7h-6zM158 294h6v7h-6zM281 294h7v7h-7zM158 340h6v6h-6zM281 340h7v6h-7zM164 353h7v6h-7zM275 353h6v6h-6zM184 372h6v7h-6zM255 372h7v7h-7zM197 379h6v6h-6zM242 379h7v6h-7z"/>
<path fill="#c84440" d="M203 255h7v7h-7zM236 255h6v7h-6zM177 268h7v7h-7zM262 268h6v7h-6zM171 275h6v6h-6zM268 275h7v6h-7zM158 301h6v6h-6zM281 301h7v6h-7zM158 333h6v7h-6zM281 333h7v7h-7zM171 359h6v7h-6zM268 359h7v7h-7zM177 366h7v6h-7zM262 366h6v6h-6zM203 379h7v6h-7zM236 379h6v6h-6z"/>
<path fill="#c53e3d" d="M210 255h6v7h-6zM229 255h7v7h-7zM190 262h7v6h-7zM249 262h6v6h-6zM164 288h7v6h-7zM275 288h6v6h-6zM158 307h6v7h-6zM281 307h7v7h-7zM158 327h6v6h-6zM281 327h7v6h-7zM164 346h7v7h-7zM275 346h6v7h-6zM190 372h7v7h-7zM249 372h6v7h-6zM210 379h6v6h-6zM229 379h7v6h-7z"/>
<path fill="#c43b3c" d="M216 255h7v7h-7zM223 255h6v7h-6zM158 314h6v6h-6zM281 314h7v6h-7zM158 320h6v7h-6zM281 320h7v7h-7zM216 379h7v6h-7zM223 379h6v6h-6z"/>
<path fill="#df765e" d="M164 262h7v6h-7zM275 262h6v6h-6zM164 372h7v7h-7zM275 372h6v7h-6z"/>
<path fill="#d86551" d="M171 262h6v6h-6zM268 262h7v6h-7zM164 268h7v7h-7zM275 268h6v7h-6zM164 366h7v6h-7zM275 366h6v6h-6zM171 372h6v7h-6zM268 372h7v7h-7z"/>
<path fill="#c13639" d="M197 262h6v6h-6zM242 262h7v6h-7zM184 268h6v7h-6zM255 268h7v7h-7zM171 281h6v7h-6zM268 281h7v7h-7zM164 294h7v7h-7zM275 294h6v7h-6zM164 340h7v6h-7zM275 340h6v6h-6zM171 353h6v6h-6zM268 353h7v6h-7zM184 366h6v6h-6zM255 366h7v6h-7zM197 372h6v7h-6zM242 372h7v7h-7z"/>
<path fill="#bd2d35" d="M203 262h7v6h-7zM236 262h6v6h-6zM164 301h7v6h-7zM275 301h6v6h-6zM164 333h7v7h-7zM275 333h6v7h-6zM203 372h7v7h-7zM236 372h6v7h-6z"/>
<path fill="#bb2a34" d="M210 262h6v6h-6zM229 262h7v6h-7zM190 268h7v7h-7zM249 268h6v7h-6zM171 288h6v6h-6zM268 288h7v6h-7zM164 307h7v7h-7zM275 307h6v7h-6zM164 327h7v6h-7zM275 327h6v6h-6zM171 346h6v7h-6zM268 346h7v7h-7zM190 366h7v6h-7zM249 366h6v6h-6zM210 372h6v7h-6zM229 372h7v7h-7z"/>
<path fill="#ba2832" d="M216 262h7v6h-7zM223 262h6v6h-6zM164 314h7v6h-7zM275 314h6v6h-6zM164 320h7v7h-7zM275 320h6v7h-6zM216 372h7v7h-7zM223 372h6v7h-6z"/>
<path fill="#b72230" d="M197 268h6v7h-6zM242 268h7v7h-7zM171 294h6v7h-6zM268 294h7v7h-7zM171 340h6v6h-6zM268 340h7v6h-7zM197 366h6v6h-6zM242 366h7v6h-7z"/>
<path fill="#b3192c" d="M203 268h7v7h-7zM236 268h6v7h-6zM190 275h7v6h-7zM249 275h6v6h-6zM177 288h7v6h-7zM262 288h6v6h-6zM171 301h6v6h-6zM268 301h7v6h-7zM171 333h6v7h-6zM268 333h7v7h-7zM177 346h7v7h-7zM262 346h6v7h-6zM190 359h7v7h-7zM249 359h6v7h-6zM203 366h7v6h-7zM236 366h6v6h-6z"/>
<path fill="#b1182b" d="M210 268h6v7h-6zM229 268h7v7h-7zM184 281h6v7h-6zM255 281h7v7h-7zM171 307h6v7h-6zM268 307h7v7h-7zM171 327h6v6h-6zM268 327h7v6h-7zM184 353h6v6h-6zM255 353h7v6h-7zM210 366h6v6h-6zM229 366h7v6h-7z"/>
<path fill="#ae172a" d="M216 268h7v7h-7zM223 268h6v7h-6zM171 314h6v6h-6zM268 314h7v6h-7zM171 320h6v7h-6zM268 320h7v7h-7zM216 366h7v6h-7zM223 366h6v6h-6z"/>
<path fill="#bf3338" d="M177 275h7v6h-7zM262 275h6v6h-6zM177 359h7v7h-7zM262 359h6v7h-6z"/>
<path fill="#b82531" d="M184 275h6v6h-6zM255 275h7v6h-7zM177 281h7v7h-7zM262 281h6v7h-6zM177 353h7v6h-7zM262 353h6v6h-6zM184 359h6v7h-6zM255 359h7v7h-7z"/>
<path fill="#ab162a" d="M197 275h6v6h-6zM242 275h7v6h-7zM177 294h7v7h-7zM262 294h6v7h-6zM177 340h7v6h-7zM262 340h6v6h-6zM197 359h6v7h-6zM242 359h7v7h-7z"/>
<path fill="#a21328" d="M203 275h7v6h-7zM236 275h6v6h-6zM177 301h7v6h-7zM262 301h6v6h-6zM177 333h7v7h-7zM262 333h6v7h-6zM203 359h7v7h-7zM236 359h6v7h-6z"/>
<path fill="#9f1228" d="M210 275h6v6h-6zM229 275h7v6h-7zM177 307h7v7h-7zM262 307h6v7h-6zM177 327h7v6h-7zM262 327h6v6h-6zM210 359h6v7h-6zM229 359h7v7h-7z"/>
<path fill="#9c1127" d="M216 275h7v6h-7zM223 275h6v6h-6zM197 281h6v7h-6zM242 281h7v7h-7zM184 294h6v7h-6zM255 294h7v7h-7zM177 314h7v6h-7zM262 314h6v6h-6zM177 320h7v7h-7zM262 320h6v7h-6zM184 340h6v6h-6zM255 340h7v6h-7zM197 353h6v6h-6zM242 353h7v6h-7zM216 359h7v7h-7zM223 359h6v7h-6z"/>
<path fill="#a51429" d="M190 281h7v7h-7zM249 281h6v7h-6zM184 288h6v6h-6zM255 288h7v6h-7zM184 346h6v7h-6zM255 346h7v7h-7zM190 353h7v6h-7zM249 353h6v6h-6z"/>
<path fill="#930e26" d="M203 281h7v7h-7zM236 281h6v7h-6zM184 301h6v6h-6zM255 301h7v6h-7zM184 333h6v7h-6zM255 333h7v7h-7zM203 353h7v6h-7zM236 353h6v6h-6z"/>
<path fill="#8d0c25" d="M210 281h6v7h-6zM216 281h7v7h-7zM223 281h6v7h-6zM229 281h7v7h-7zM197 288h6v6h-6zM242 288h7v6h-7zM190 294h7v7h-7zM249 294h6v7h-6zM184 307h6v7h-6zM255 307h7v7h-7zM184 314h6v6h-6zM255 314h7v6h-7zM184 320h6v7h-6zM255 320h7v7h-7zM184 327h6v6h-6zM255 327h7v6h-7zM190 340h7v6h-7zM249 340h6v6h-6zM197 346h6v7h-6zM242 346h7v7h-7zM210 353h6v6h-6zM216 353h7v6h-7zM223 353h6v6h-6zM229 353h7v6h-7z"/>
<path fill="#991027" d="M190 288h7v6h-7zM249 288h6v6h-6zM190 346h7v7h-7zM249 346h6v7h-6z"/>
<path fill="#870a24" d="M203 288h7v6h-7zM236 288h6v6h-6zM190 301h7v6h-7zM249 301h6v6h-6zM190 333h7v7h-7zM249 333h6v7h-6zM203 346h7v7h-7zM236 346h6v7h-6z"/>
<path fill="#810823" d="M210 288h6v6h-6zM229 288h7v6h-7zM190 307h7v7h-7zM249 307h6v7h-6zM190 327h7v6h-7zM249 327h6v6h-6zM210 346h6v7h-6zM229 346h7v7h-7z"/>
<path fill="#7f0823" d="M216 288h7v6h-7zM223 288h6v6h-6zM190 314h7v6h-7zM249 314h6v6h-6zM190 320h7v7h-7zM249 320h6v7h-6zM216 346h7v7h-7zM223 346h6v7h-6z"/>
<path fill="#840924" d="M197 294h6v7h-6zM242 294h7v7h-7zM197 340h6v6h-6zM242 340h7v6h-7z"/>
<path fill="#7c0722" d="M203 294h7v7h-7zM236 294h6v7h-6zM197 301h6v6h-6zM242 301h7v6h-7zM197 333h6v7h-6zM242 333h7v7h-7zM203 340h7v6h-7zM236 340h6v6h-6z"/>
<path fill="#790622" d="M210 294h6v7h-6zM229 294h7v7h-7zM197 307h6v7h-6zM242 307h7v7h-7zM197 327h6v6h-6zM242 327h7v6h-7zM210 340h6v6h-6zM229 340h7v6h-7z"/>
<path fill="#760521" d="M216 294h7v7h-7zM223 294h6v7h-6zM203 301h7v6h-7zM236 301h6v6h-6zM197 314h6v6h-6zM242 314h7v6h-7zM197 320h6v7h-6zM242 320h7v7h-7zM203 333h7v7h-7zM236 333h6v7h-6zM216 340h7v6h-7zM223 340h6v6h-6z"/>
<path fill="#700320" d="M210 301h6v6h-6zM229 301h7v6h-7zM203 307h7v7h-7zM236 307h6v7h-6zM203 327h7v6h-7zM236 327h6v6h-6zM210 333h6v7h-6zM229 333h7v7h-7z"/>
<path fill="#6d0220" d="M216 301h7v6h-7zM223 301h6v6h-6zM203 314h7v6h-7zM236 314h6v6h-6zM203 320h7v7h-7zM236 320h6v7h-6zM216 333h7v7h-7zM223 333h6v7h-6z"/>
<path fill="#6a011f" d="M210 307h6v7h-6zM229 307h7v7h-7zM210 327h6v6h-6zM229 327h7v6h-7z"/>
<path fill="#67001f" d="M216 307h7v7h-7zM223 307h6v7h-6zM210 314h6v6h-6zM216 314h7v6h-7zM223 314h6v6h-6zM229 314h7v6h-7zM210 320h6v7h-6zM216 320h7v7h-7zM223 320h6v7h-6zM229 320h7v7h-7zM216 327h7v6h-7zM223 327h6v6h-6z"/></g>
<g id="p2"><path fill="#840924" d="M828 151h7v7h-7zM854 158h7v6h-7zM887 164h6v7h-6zM926 177h6v7h-6zM939 184h6v6h-6zM958 197h7v6h-7zM978 216h6v7h-6zM1017 346h6v7h-6z"/>
<path fill="#810823" d="M835 151h6v7h-6zM861 158h6v6h-6zM913 171h6v6h-6zM952 190h6v7h-6zM991 236h6v6h-6zM997 249h7v6h-7zM1004 268h6v7h-6zM1010 301h7v6h-7zM1017 340h6v6h-6z"/>
<path fill="#7c0722" d="M841 151h7v7h-7zM874 158h6v6h-6zM900 164h6v7h-6zM919 171h7v6h-7zM945 184h7v6h-7zM1004 262h6v6h-6zM1010 288h7v6h-7zM1017 327h6v6h-6z"/>
<path fill="#790622" d="M848 151h6v7h-6zM958 190h7v7h-7zM965 197h6v6h-6zM971 203h7v7h-7zM978 210h6v6h-6zM991 229h6v7h-6zM997 242h7v7h-7zM1010 281h7v7h-7zM1017 320h6v7h-6zM1023 346h7v7h-7z"/>
<path fill="#760521" d="M854 151h7v7h-7zM880 158h7v6h-7zM906 164h7v7h-7zM926 171h6v6h-6zM939 177h6v7h-6zM984 216h7v7h-7zM1004 255h6v7h-6zM1017 314h6v6h-6z"/>
<path fill="#730421" d="M861 151h6v7h-6zM887 158h6v6h-6zM952 184h6v6h-6zM997 236h7v6h-7zM1010 275h7v6h-7zM1017 307h6v7h-6zM1023 340h7v6h-7z"/>
<path fill="#700320" d="M867 151h7v7h-7zM893 158h7v6h-7zM913 164h6v7h-6zM971 197h7v6h-7zM978 203h6v7h-6zM991 223h6v6h-6zM1004 249h6v6h-6zM1017 301h6v6h-6zM1023 333h7v7h-7z"/>
<path fill="#6d0220" d="M874 151h6v7h-6zM919 164h7v7h-7zM932 171h7v6h-7zM945 177h7v7h-7zM965 190h6v7h-6zM984 210h7v6h-7zM1010 268h7v7h-7zM1017 294h6v7h-6zM1023 327h7v6h-7z"/>
<path fill="#6a011f" d="M880 151h7v7h-7zM900 158h6v6h-6zM958 184h7v6h-7zM991 216h6v7h-6zM997 229h7v7h-7zM1004 242h6v7h-6zM1010 262h7v6h-7zM1017 288h6v6h-6zM1023 320h7v7h-7z"/>
<path fill="#67001f" d="M887 151h6v7h-6zM893 151h7v7h-7zM906 158h7v6h-7zM913 158h6v6h-6zM926 164h6v7h-6zM932 164h7v7h-7zM939 171h6v6h-6zM945 171h7v6h-7zM952 177h6v7h-6zM971 190h7v7h-7zM978 197h6v6h-6zM984 203h7v7h-7zM997 223h7v6h-7zM1004 229h6v7h-6zM1004 236h6v6h-6zM1010 242h7v7h-7zM1010 249h7v6h-7zM1010 255h7v7h-7zM1017 262h6v6h-6zM1017 268h6v7h-6zM1017 275h6v6h-6zM1017 281h6v7h-6zM1023 281h7v7h-7zM1023 288h7v6h-7zM1023 294h7v7h-7zM1023 301h7v6h-7zM1023 307h7v7h-7zM1023 314h7v6h-7z"/>
<path fill="#991027" d="M809 158h6v6h-6zM848 164h6v7h-6zM887 171h6v6h-6zM926 184h6v6h-6zM939 190h6v7h-6zM1004 301h6v6h-6zM1010 366h7v6h-7zM1010 372h7v7h-7z"/>
<path fill="#960f27" d="M815 158h7v6h-7zM854 164h7v7h-7zM913 177h6v7h-6zM958 203h7v7h-7zM965 210h6v6h-6zM971 216h7v7h-7zM984 236h7v6h-7zM991 249h6v6h-6zM997 268h7v7h-7zM1004 294h6v7h-6zM1010 346h7v7h-7zM1010 353h7v6h-7zM1010 359h7v7h-7z"/>
<path fill="#930e26" d="M822 158h6v6h-6zM861 164h6v7h-6zM893 171h7v6h-7zM952 197h6v6h-6zM1010 340h7v6h-7z"/>
<path fill="#900d26" d="M828 158h7v6h-7zM867 164h7v7h-7zM932 184h7v6h-7zM978 223h6v6h-6zM997 262h7v6h-7zM1004 288h6v6h-6zM1010 327h7v6h-7zM1010 333h7v7h-7z"/>
<path fill="#8d0c25" d="M835 158h6v6h-6zM874 164h6v7h-6zM900 171h6v6h-6zM919 177h7v7h-7zM945 190h7v7h-7zM1010 320h7v7h-7z"/>
<path fill="#8a0b25" d="M841 158h7v6h-7zM984 229h7v7h-7zM991 242h6v7h-6zM1004 281h6v7h-6zM1010 314h7v6h-7zM1017 366h6v6h-6z"/>
<path fill="#870a24" d="M848 158h6v6h-6zM880 164h7v7h-7zM906 171h7v6h-7zM965 203h6v7h-6zM971 210h7v6h-7zM997 255h7v7h-7zM1004 275h6v6h-6zM1010 307h7v7h-7zM1017 353h6v6h-6zM1017 359h6v7h-6z"/>
<path fill="#7f0823" d="M867 158h7v6h-7zM893 164h7v7h-7zM932 177h7v7h-7zM984 223h7v6h-7zM1010 294h7v7h-7zM1017 333h6v7h-6z"/>
<path fill="#ab162a" d="M789 164h7v7h-7zM861 171h6v6h-6zM893 177h7v7h-7zM978 236h6v6h-6zM997 288h7v6h-7zM1004 346h6v7h-6zM1004 353h6v6h-6zM1004 359h6v7h-6zM1004 366h6v6h-6zM1004 372h6v7h-6zM1004 379h6v6h-6zM1004 385h6v7h-6zM1004 398h6v7h-6z"/>
<path fill="#a81529" d="M796 164h6v7h-6zM802 164h7v7h-7zM809 164h6v7h-6zM867 171h7v6h-7zM958 210h7v6h-7zM965 216h6v7h-6zM991 262h6v6h-6zM1004 333h6v7h-6zM1004 340h6v6h-6zM1004 392h6v6h-6z"/>
<path fill="#a51429" d="M815 164h7v7h-7zM900 177h6v7h-6zM932 190h7v7h-7zM952 203h6v7h-6zM997 281h7v7h-7zM1004 327h6v6h-6z"/>
<path fill="#a21328" d="M822 164h6v7h-6zM828 164h7v7h-7zM874 171h6v6h-6zM919 184h7v6h-7zM971 223h7v6h-7zM984 242h7v7h-7zM1004 320h6v7h-6z"/>
<path fill="#9f1228" d="M835 164h6v7h-6zM880 171h7v6h-7zM945 197h7v6h-7zM978 229h6v7h-6zM991 255h6v7h-6zM997 275h7v6h-7zM1004 314h6v6h-6z"/>
<path fill="#9c1127" d="M841 164h7v7h-7zM906 177h7v7h-7zM1004 307h6v7h-6zM1010 379h7v6h-7zM1010 385h7v7h-7z"/>
<path fill="#b61f2e" d="M776 171h7v6h-7zM802 171h7v6h-7zM809 171h6v6h-6zM880 177h7v7h-7zM965 223h6v6h-6zM978 242h6v7h-6zM984 255h7v7h-7zM991 275h6v6h-6zM997 307h7v7h-7zM997 385h7v7h-7zM997 392h7v6h-7z"/>
<path fill="#b41c2d" d="M783 171h6v6h-6zM789 171h7v6h-7zM796 171h6v6h-6zM815 171h7v6h-7zM822 171h6v6h-6zM828 171h7v6h-7zM906 184h7v6h-7zM945 203h7v7h-7zM997 301h7v6h-7zM997 398h7v7h-7zM997 405h7v6h-7z"/>
<path fill="#b3192c" d="M835 171h6v6h-6zM841 171h7v6h-7zM887 177h6v7h-6zM971 229h7v7h-7z"/>
<path fill="#b1182b" d="M848 171h6v6h-6zM926 190h6v7h-6zM991 268h6v7h-6zM997 294h7v7h-7z"/>
<path fill="#ae172a" d="M854 171h7v6h-7zM913 184h6v6h-6zM939 197h6v6h-6zM984 249h7v6h-7z"/>
<path fill="#bb2a34" d="M770 177h6v7h-6zM776 177h7v7h-7zM783 177h6v7h-6zM861 177h6v7h-6zM971 236h7v6h-7zM984 262h7v6h-7zM997 340h7v6h-7zM991 398h6v7h-6z"/>
<path fill="#bd2d35" d="M789 177h7v7h-7zM939 203h6v7h-6zM984 418h7v6h-7zM984 424h7v7h-7z"/>
<path fill="#be3036" d="M796 177h6v7h-6zM802 177h7v7h-7zM848 177h6v7h-6zM854 177h7v7h-7zM893 184h7v6h-7zM913 190h6v7h-6zM978 249h6v6h-6zM991 288h6v6h-6zM991 392h6v6h-6z"/>
<path fill="#bf3338" d="M809 177h6v7h-6zM815 177h7v7h-7zM822 177h6v7h-6zM835 177h6v7h-6zM841 177h7v7h-7zM763 184h7v6h-7zM926 197h6v6h-6zM965 229h6v7h-6zM991 385h6v7h-6zM984 411h7v7h-7zM978 431h6v6h-6z"/>
<path fill="#c13639" d="M828 177h7v7h-7zM770 184h6v6h-6zM887 184h6v6h-6zM945 210h7v6h-7zM984 268h7v7h-7zM991 294h6v7h-6zM991 379h6v6h-6zM978 424h6v7h-6z"/>
<path fill="#ba2832" d="M867 177h7v7h-7zM900 184h6v6h-6zM991 281h6v7h-6zM997 327h7v6h-7zM997 333h7v7h-7zM997 346h7v7h-7zM997 353h7v6h-7zM997 359h7v7h-7zM991 405h6v6h-6z"/>
<path fill="#b82531" d="M874 177h6v7h-6zM919 190h7v7h-7zM932 197h7v6h-7zM997 320h7v7h-7zM997 366h7v6h-7zM997 372h7v7h-7zM991 411h6v7h-6z"/>
<path fill="#c2383a" d="M776 184h7v6h-7zM952 216h6v7h-6zM958 223h7v6h-7zM991 372h6v7h-6zM984 405h7v6h-7zM971 437h7v7h-7z"/>
<path fill="#c43b3c" d="M783 184h6v6h-6zM750 190h7v7h-7zM757 190h6v7h-6zM906 190h7v7h-7zM971 242h7v7h-7zM991 301h6v6h-6zM984 398h7v7h-7zM978 418h6v6h-6zM971 431h7v6h-7z"/>
<path fill="#c6413e" d="M789 184h7v6h-7zM763 190h7v7h-7zM744 197h6v6h-6zM919 197h7v6h-7zM984 275h7v6h-7zM991 359h6v7h-6zM978 411h6v7h-6zM971 424h7v7h-7zM965 437h6v7h-6zM958 444h7v7h-7z"/>
<path fill="#c84440" d="M796 184h6v6h-6zM874 184h6v6h-6zM750 197h7v6h-7zM991 314h6v6h-6zM991 353h6v6h-6zM984 392h7v6h-7zM952 451h6v6h-6z"/>
<path fill="#c94741" d="M802 184h7v6h-7zM770 190h6v7h-6zM900 190h6v7h-6zM737 203h7v7h-7zM965 236h6v6h-6zM991 320h6v7h-6zM991 327h6v6h-6zM991 340h6v6h-6zM991 346h6v7h-6zM965 431h6v6h-6zM945 457h7v7h-7z"/>
<path fill="#cb4942" d="M809 184h6v6h-6zM867 184h7v6h-7zM776 190h7v7h-7zM757 197h6v6h-6zM744 203h6v7h-6zM939 210h6v6h-6zM978 262h6v6h-6zM984 281h7v7h-7zM991 333h6v7h-6zM984 385h7v7h-7zM978 405h6v6h-6zM971 418h7v6h-7zM958 437h7v7h-7zM939 457h6v7h-6zM932 464h7v6h-7z"/>
<path fill="#cc4c44" d="M815 184h7v6h-7zM861 184h6v6h-6zM958 229h7v7h-7zM971 249h7v6h-7zM952 444h6v7h-6zM945 451h7v6h-7z"/>
<path fill="#ce4f45" d="M822 184h6v6h-6zM854 184h7v6h-7zM783 190h6v7h-6zM893 190h7v7h-7zM763 197h7v6h-7zM913 197h6v6h-6zM750 203h7v7h-7zM737 210h7v6h-7zM945 216h7v7h-7zM952 223h6v6h-6zM984 379h7v6h-7zM978 398h6v7h-6zM965 424h6v7h-6zM926 464h6v6h-6z"/>
<path fill="#cf5246" d="M828 184h7v6h-7zM835 184h6v6h-6zM841 184h7v6h-7zM848 184h6v6h-6zM926 203h6v7h-6zM731 216h6v7h-6zM724 223h7v6h-7zM984 288h7v6h-7zM971 411h7v7h-7zM932 457h7v7h-7zM913 470h6v7h-6z"/>
<path fill="#c53e3d" d="M880 184h7v6h-7zM932 203h7v7h-7zM978 255h6v7h-6zM991 307h6v7h-6zM991 366h6v6h-6z"/>
<path fill="#d05548" d="M789 190h7v7h-7zM744 210h6v6h-6zM718 229h6v7h-6zM984 372h7v7h-7zM958 431h7v6h-7zM952 437h6v7h-6zM945 444h7v7h-7zM939 451h6v6h-6zM919 464h7v6h-7zM906 470h7v7h-7zM893 477h7v6h-7z"/>
<path fill="#d55d4c" d="M796 190h6v7h-6zM776 197h7v6h-7zM906 197h7v6h-7zM750 210h7v6h-7zM932 210h7v6h-7zM711 249h7v6h-7zM971 255h7v7h-7zM705 262h6v6h-6zM984 301h7v6h-7zM971 405h7v6h-7zM932 451h7v6h-7zM893 470h7v7h-7z"/>
<path fill="#d7634f" d="M802 190h7v7h-7zM744 216h6v7h-6zM737 223h7v6h-7zM731 229h6v7h-6zM724 236h7v6h-7zM958 236h7v6h-7zM711 255h7v7h-7zM978 275h6v6h-6zM698 281h7v7h-7zM984 307h7v7h-7zM978 385h6v7h-6zM952 431h6v6h-6zM887 470h6v7h-6zM867 477h7v6h-7z"/>
<path fill="#da6853" d="M809 190h6v7h-6zM900 197h6v6h-6zM770 203h6v7h-6zM757 210h6v6h-6zM945 223h7v6h-7zM952 229h6v7h-6zM705 281h6v7h-6zM698 294h7v7h-7zM984 320h7v7h-7zM984 346h7v7h-7zM971 398h7v7h-7zM874 470h6v7h-6zM854 477h7v6h-7z"/>
<path fill="#dc6e57" d="M815 190h7v7h-7zM861 190h6v7h-6zM789 197h7v6h-7zM750 216h7v7h-7zM744 223h6v6h-6zM737 229h7v7h-7zM731 236h6v6h-6zM965 249h6v6h-6zM718 255h6v7h-6zM705 288h6v6h-6zM698 314h7v6h-7zM952 424h6v7h-6zM939 437h6v7h-6zM919 451h7v6h-7zM906 457h7v7h-7zM887 464h6v6h-6zM867 470h7v7h-7zM841 477h7v6h-7z"/>
<path fill="#dd7059" d="M822 190h6v7h-6zM893 197h7v6h-7zM913 203h6v7h-6zM926 210h6v6h-6zM711 275h7v6h-7zM705 294h6v7h-6zM698 320h7v7h-7zM945 431h7v6h-7zM861 470h6v7h-6zM835 477h6v6h-6z"/>
<path fill="#de735c" d="M828 190h7v7h-7zM835 190h6v7h-6zM848 190h6v7h-6zM854 190h7v7h-7zM763 210h7v6h-7zM724 249h7v6h-7zM718 262h6v6h-6zM978 288h6v6h-6zM705 301h6v6h-6zM698 327h7v6h-7zM978 372h6v7h-6zM971 392h7v6h-7zM965 405h6v6h-6zM926 444h6v7h-6zM900 457h6v7h-6zM880 464h7v6h-7zM854 470h7v7h-7zM828 477h7v6h-7z"/>
<path fill="#df765e" d="M841 190h7v7h-7zM776 203h7v7h-7zM731 242h6v7h-6zM711 281h7v7h-7zM705 307h6v7h-6zM698 333h7v7h-7zM913 451h6v6h-6zM874 464h6v6h-6zM848 470h6v7h-6z"/>
<path fill="#db6b55" d="M867 190h7v7h-7zM724 242h7v7h-7zM971 262h7v6h-7zM711 268h7v7h-7zM978 281h6v7h-6zM698 301h7v6h-7zM698 307h7v7h-7zM984 327h7v6h-7zM984 333h7v7h-7zM984 340h7v6h-7zM978 379h6v6h-6zM958 418h7v6h-7zM932 444h7v7h-7zM893 464h7v6h-7zM848 477h6v6h-6z"/>
<path fill="#d86551" d="M874 190h6v7h-6zM783 197h6v6h-6zM939 216h6v7h-6zM718 249h6v6h-6zM711 262h7v6h-7zM705 275h6v6h-6zM698 288h7v6h-7zM984 314h7v6h-7zM984 353h7v6h-7zM965 411h6v7h-6zM926 451h6v6h-6zM913 457h6v7h-6zM900 464h6v6h-6zM880 470h7v7h-7zM861 477h6v6h-6z"/>
<path fill="#d6604d" d="M880 190h7v7h-7zM763 203h7v7h-7zM919 203h7v7h-7zM718 242h6v7h-6zM705 268h6v7h-6zM984 359h7v7h-7zM958 424h7v7h-7zM945 437h7v7h-7zM939 444h6v7h-6zM919 457h7v7h-7zM906 464h7v6h-7zM874 477h6v6h-6z"/>
<path fill="#d25849" d="M887 190h6v7h-6zM770 197h6v6h-6zM757 203h6v7h-6zM737 216h7v7h-7zM718 236h6v6h-6zM711 242h7v7h-7zM978 268h6v7h-6zM984 294h7v7h-7zM926 457h6v7h-6zM887 477h6v6h-6z"/>
<path fill="#e17860" d="M796 197h6v6h-6zM887 197h6v6h-6zM757 216h6v7h-6zM932 216h7v7h-7zM958 242h7v7h-7zM724 255h7v7h-7zM718 268h6v7h-6zM971 268h7v7h-7zM711 288h7v6h-7zM705 314h6v6h-6zM698 340h7v6h-7zM932 437h7v7h-7zM893 457h7v7h-7zM841 470h7v7h-7z"/>
<path fill="#e48066" d="M802 197h7v6h-7zM880 197h7v6h-7zM783 203h6v7h-6zM770 210h6v6h-6zM919 210h7v6h-7zM939 223h6v6h-6zM945 229h7v7h-7zM731 249h6v6h-6zM724 262h7v6h-7zM711 301h7v6h-7zM978 301h6v6h-6zM705 333h6v7h-6zM978 359h6v7h-6zM965 398h6v7h-6zM945 424h7v7h-7zM854 464h7v6h-7zM815 470h7v7h-7z"/>
<path fill="#e6866a" d="M809 197h6v6h-6zM874 197h6v6h-6zM737 242h7v7h-7zM711 314h7v6h-7zM705 353h6v6h-6zM978 353h6v6h-6zM705 359h6v7h-6zM926 437h6v7h-6zM900 451h6v6h-6zM841 464h7v6h-7z"/>
<path fill="#ea8e70" d="M815 197h7v6h-7zM776 210h7v6h-7zM913 210h6v6h-6zM750 229h7v7h-7zM718 294h6v7h-6zM711 333h7v7h-7zM978 333h6v7h-6zM965 392h6v6h-6zM932 431h7v6h-7zM893 451h7v6h-7zM789 464h7v6h-7z"/>
<path fill="#eb9172" d="M822 197h6v6h-6zM861 197h6v6h-6zM893 203h7v7h-7zM724 275h7v6h-7zM711 340h7v6h-7zM711 346h7v7h-7zM711 353h7v6h-7zM711 359h7v7h-7zM711 366h7v6h-7zM711 372h7v7h-7zM711 379h7v6h-7zM952 411h6v7h-6zM939 424h6v7h-6zM861 457h6v7h-6z"/>
<path fill="#ec9374" d="M828 197h7v6h-7zM854 197h7v6h-7zM952 242h6v7h-6zM737 249h7v6h-7zM971 288h7v6h-7zM718 301h6v6h-6zM971 372h7v7h-7zM711 385h7v7h-7zM945 418h7v6h-7zM919 437h7v7h-7zM906 444h7v7h-7zM887 451h6v6h-6zM783 457h6v7h-6zM854 457h7v7h-7z"/>
<path fill="#ee9677" d="M835 197h6v6h-6zM841 197h7v6h-7zM848 197h6v6h-6zM796 203h6v7h-6zM770 216h6v7h-6zM932 223h7v6h-7zM731 262h6v6h-6zM718 307h6v7h-6zM776 457h7v7h-7zM789 457h7v7h-7zM796 457h6v7h-6zM841 457h7v7h-7zM848 457h6v7h-6z"/>
<path fill="#e98b6e" d="M867 197h7v6h-7zM789 203h7v7h-7zM926 216h6v7h-6zM757 223h6v6h-6zM744 236h6v6h-6zM958 249h7v6h-7zM731 255h6v7h-6zM965 262h6v6h-6zM971 281h7v7h-7zM978 320h6v7h-6zM711 327h7v6h-7zM978 327h6v6h-6zM978 340h6v6h-6zM978 346h6v7h-6zM958 405h7v6h-7zM867 457h7v7h-7zM796 464h6v6h-6zM802 464h7v6h-7zM809 464h6v6h-6zM815 464h7v6h-7zM822 464h6v6h-6z"/>
<path fill="#f2a17f" d="M802 203h7v7h-7zM880 203h7v7h-7zM757 229h6v7h-6zM971 301h7v6h-7zM718 340h6v6h-6zM718 346h6v7h-6zM718 353h6v6h-6zM731 411h6v7h-6zM737 424h7v7h-7zM744 431h6v6h-6zM750 437h7v7h-7zM913 437h6v7h-6zM789 451h7v6h-7z"/>
<path fill="#f5a886" d="M809 203h6v7h-6zM874 203h6v7h-6zM789 210h7v6h-7zM900 210h6v6h-6zM776 216h7v7h-7zM926 223h6v6h-6zM744 249h6v6h-6zM958 262h7v6h-7zM724 301h7v6h-7zM971 314h7v6h-7zM971 353h7v6h-7zM724 379h7v6h-7zM965 379h6v6h-6zM731 398h6v7h-6zM737 411h7v7h-7zM945 411h7v7h-7zM939 418h6v6h-6zM763 437h7v7h-7zM809 451h6v6h-6zM854 451h7v6h-7z"/>
<path fill="#f5ac8b" d="M815 203h7v7h-7zM867 203h7v7h-7zM913 216h6v7h-6zM932 229h7v7h-7zM945 242h7v7h-7zM971 327h7v6h-7zM971 333h7v7h-7zM971 340h7v6h-7zM724 366h7v6h-7zM731 392h6v6h-6zM770 437h6v7h-6zM789 444h7v7h-7zM887 444h6v7h-6zM828 451h7v6h-7zM835 451h6v6h-6zM841 451h7v6h-7z"/>
<path fill="#f6b191" d="M822 203h6v7h-6zM893 210h7v6h-7zM763 229h7v7h-7zM757 236h6v6h-6zM724 327h7v6h-7zM724 333h7v7h-7zM724 340h7v6h-7zM724 346h7v7h-7zM965 372h6v7h-6zM731 385h6v7h-6zM744 411h6v7h-6zM763 431h7v6h-7zM776 437h7v7h-7zM796 444h6v7h-6zM880 444h7v7h-7z"/>
<path fill="#f6b394" d="M828 203h7v7h-7zM848 203h6v7h-6zM854 203h7v7h-7zM796 210h6v6h-6zM737 268h7v7h-7zM958 268h7v7h-7zM731 288h6v6h-6zM965 288h6v6h-6zM737 398h7v7h-7zM952 398h6v7h-6zM750 418h7v6h-7zM757 424h6v7h-6zM926 424h6v7h-6zM900 437h6v7h-6z"/>
<path fill="#f7b596" d="M835 203h6v7h-6zM841 203h7v7h-7zM783 216h6v7h-6zM744 255h6v7h-6zM952 255h6v7h-6zM731 379h6v6h-6zM770 431h6v6h-6zM783 437h6v7h-6zM802 444h7v7h-7zM874 444h6v7h-6z"/>
<path fill="#f6af8e" d="M861 203h6v7h-6zM770 223h6v6h-6zM939 236h6v6h-6zM750 242h7v7h-7zM731 281h6v7h-6zM724 314h7v6h-7zM724 320h7v7h-7zM724 353h7v6h-7zM724 359h7v7h-7zM737 405h7v6h-7z"/>
<path fill="#f09c7b" d="M887 203h6v7h-6zM783 210h6v6h-6zM906 210h7v6h-7zM958 255h7v7h-7zM971 294h7v7h-7zM718 320h6v7h-6zM971 366h7v6h-7zM718 379h6v6h-6zM718 385h6v7h-6zM958 398h7v7h-7zM900 444h6v7h-6zM770 451h6v6h-6zM776 451h7v6h-7z"/>
<path fill="#e8896c" d="M900 203h6v7h-6zM763 216h7v7h-7zM724 268h7v7h-7zM718 288h6v6h-6zM978 314h6v6h-6zM711 320h7v7h-7zM705 366h6v6h-6zM971 379h7v6h-7zM913 444h6v7h-6zM874 457h6v7h-6zM828 464h7v6h-7zM835 464h6v6h-6z"/>
<path fill="#e37e64" d="M906 203h7v7h-7zM952 236h6v6h-6zM718 275h6v6h-6zM711 294h7v7h-7zM705 327h6v6h-6zM971 385h7v7h-7zM952 418h6v6h-6zM939 431h6v6h-6zM919 444h7v7h-7zM906 451h7v6h-7zM887 457h6v7h-6zM861 464h6v6h-6zM822 470h6v7h-6zM828 470h7v7h-7z"/>
<path fill="#f8bb9e" d="M802 210h7v6h-7zM750 249h7v6h-7zM737 275h7v6h-7zM731 366h6v6h-6zM757 418h6v6h-6zM789 437h7v7h-7zM893 437h7v7h-7zM815 444h7v7h-7z"/>
<path fill="#f9c2a7" d="M809 210h6v6h-6zM874 210h6v6h-6zM900 216h6v7h-6zM770 229h6v7h-6zM932 236h7v6h-7zM757 242h6v7h-6zM939 242h6v7h-6zM952 262h6v6h-6zM731 307h6v7h-6zM731 353h6v6h-6zM965 353h6v6h-6zM958 379h7v6h-7zM952 392h6v6h-6zM750 405h7v6h-7zM770 424h6v7h-6zM906 431h7v6h-7zM796 437h6v7h-6zM835 444h6v7h-6zM841 444h7v7h-7z"/>
<path fill="#f9c6ac" d="M815 210h7v6h-7zM867 210h7v6h-7zM958 281h7v7h-7zM731 320h6v7h-6zM965 320h6v7h-6zM731 327h6v6h-6zM731 333h6v7h-6zM731 340h6v6h-6zM965 346h6v7h-6zM744 392h6v6h-6zM802 437h7v7h-7z"/>
<path fill="#facab1" d="M822 210h6v6h-6zM861 210h6v6h-6zM796 216h6v7h-6zM783 223h6v6h-6zM750 255h7v7h-7zM945 255h7v7h-7zM744 268h6v7h-6zM737 288h7v6h-7zM737 372h7v7h-7zM958 372h7v7h-7zM776 424h7v7h-7zM900 431h6v6h-6z"/>
<path fill="#fbceb7" d="M828 210h7v6h-7zM835 210h6v6h-6zM841 210h7v6h-7zM848 210h6v6h-6zM906 223h7v6h-7zM737 366h7v6h-7zM744 385h6v7h-6zM952 385h6v7h-6zM770 418h6v6h-6zM874 437h6v7h-6z"/>
<path fill="#fbccb4" d="M854 210h7v6h-7zM919 229h7v7h-7zM952 268h6v7h-6zM958 288h7v6h-7zM750 398h7v7h-7zM939 405h6v6h-6zM932 411h7v7h-7zM913 424h6v7h-6zM789 431h7v6h-7zM809 437h6v7h-6z"/>
<path fill="#f8bda1" d="M880 210h7v6h-7zM776 223h7v6h-7zM926 229h6v7h-6zM945 249h7v6h-7zM958 275h7v6h-7zM731 301h6v6h-6zM965 301h6v6h-6zM965 359h6v7h-6zM737 385h7v7h-7zM744 398h6v7h-6zM776 431h7v6h-7zM822 444h6v7h-6zM861 444h6v7h-6z"/>
<path fill="#f7b799" d="M887 210h6v6h-6zM906 216h7v7h-7zM919 223h7v6h-7zM965 294h6v7h-6zM731 372h6v7h-6zM958 385h7v7h-7zM744 405h6v6h-6zM913 431h6v6h-6zM809 444h6v7h-6z"/>
<path fill="#b72230" d="M952 210h6v6h-6zM958 216h7v7h-7zM997 314h7v6h-7zM997 379h7v6h-7z"/>
<path fill="#f8bfa4" d="M789 216h7v7h-7zM744 262h6v6h-6zM965 307h6v7h-6zM731 359h6v7h-6zM919 424h7v7h-7zM828 444h7v7h-7zM848 444h6v7h-6zM854 444h7v7h-7z"/>
<path fill="#fcd3bc" d="M802 216h7v7h-7zM776 229h7v7h-7zM926 236h6v6h-6zM932 242h7v7h-7zM744 275h6v6h-6zM958 294h7v7h-7zM958 366h7v6h-7zM796 431h6v6h-6zM893 431h7v6h-7zM822 437h6v7h-6zM867 437h7v7h-7z"/>
<path fill="#fddbc7" d="M809 216h6v7h-6zM874 216h6v7h-6zM744 281h6v7h-6zM958 307h7v7h-7zM737 346h7v7h-7zM926 411h6v7h-6zM776 418h7v6h-7zM802 431h7v6h-7zM887 431h6v6h-6z"/>
<path fill="#fcdecd" d="M815 216h7v7h-7zM867 216h7v7h-7zM893 223h7v6h-7zM783 229h6v7h-6zM750 268h7v7h-7zM945 268h7v7h-7zM958 320h7v7h-7zM958 327h7v6h-7zM958 333h7v7h-7zM958 340h7v6h-7zM750 385h7v7h-7zM900 424h6v7h-6zM809 431h6v6h-6zM880 431h7v6h-7z"/>
<path fill="#fce0d0" d="M822 216h6v7h-6zM906 229h7v7h-7zM776 236h7v6h-7zM763 249h7v6h-7zM952 288h6v6h-6zM744 366h6v6h-6zM945 385h7v7h-7zM874 431h6v6h-6z"/>
<path fill="#fce2d2" d="M828 216h7v7h-7zM854 216h7v7h-7zM770 242h6v7h-6zM757 392h6v6h-6zM783 418h6v6h-6zM796 424h6v7h-6zM815 431h7v6h-7z"/>
<path fill="#fbe3d4" d="M835 216h6v7h-6zM841 216h7v7h-7zM848 216h6v7h-6zM887 223h6v6h-6zM750 275h7v6h-7zM744 294h6v7h-6zM750 379h7v6h-7zM867 431h7v6h-7z"/>
<path fill="#fcdfcf" d="M861 216h6v7h-6zM796 223h6v6h-6zM926 242h6v7h-6zM932 249h7v6h-7zM744 288h6v6h-6zM952 372h6v7h-6zM913 418h6v6h-6z"/>
<path fill="#fcd7c2" d="M880 216h7v7h-7zM789 223h7v6h-7zM750 262h7v6h-7zM945 262h7v6h-7zM958 301h7v6h-7zM744 379h6v6h-6zM750 392h7v6h-7zM945 392h7v6h-7zM919 418h7v6h-7zM828 437h7v7h-7zM854 437h7v7h-7z"/>
<path fill="#fbd0b9" d="M887 216h6v7h-6zM757 249h6v6h-6zM939 249h6v6h-6zM737 294h7v7h-7zM757 405h6v6h-6zM763 411h7v7h-7zM815 437h7v7h-7z"/>
<path fill="#fac8af" d="M893 216h7v7h-7zM965 327h6v6h-6zM965 333h6v7h-6zM965 340h6v6h-6zM945 398h7v7h-7zM926 418h6v6h-6zM880 437h7v7h-7z"/>
<path fill="#f19e7d" d="M919 216h7v7h-7zM763 223h7v6h-7zM750 236h7v6h-7zM737 255h7v7h-7zM731 268h6v7h-6zM724 288h7v6h-7zM718 327h6v6h-6zM718 333h6v7h-6zM718 359h6v7h-6zM718 366h6v6h-6zM718 372h6v7h-6zM965 385h6v7h-6zM724 398h7v7h-7zM724 405h7v6h-7zM926 431h6v6h-6zM763 444h7v7h-7zM783 451h6v6h-6zM874 451h6v6h-6z"/>
<path fill="#d35a4a" d="M731 223h6v6h-6zM724 229h7v7h-7zM965 242h6v7h-6zM984 366h7v6h-7zM978 392h6v6h-6zM965 418h6v6h-6zM913 464h6v6h-6zM900 470h6v7h-6zM880 477h7v6h-7z"/>
<path fill="#e27b62" d="M750 223h7v6h-7zM744 229h6v7h-6zM737 236h7v6h-7zM965 255h6v7h-6zM978 294h6v7h-6zM705 320h6v7h-6zM698 346h7v7h-7zM978 366h6v6h-6zM958 411h7v7h-7zM867 464h7v6h-7zM835 470h6v7h-6z"/>
<path fill="#fbe4d6" d="M802 223h7v6h-7zM757 262h6v6h-6zM939 262h6v6h-6zM945 275h7v6h-7zM952 294h6v7h-6zM744 359h6v7h-6zM952 366h6v6h-6zM939 392h6v6h-6zM776 411h7v7h-7zM919 411h7v7h-7zM893 424h7v7h-7zM822 431h6v6h-6z"/>
<path fill="#fae8de" d="M809 223h6v6h-6zM926 249h6v6h-6zM763 255h7v7h-7zM750 281h7v7h-7zM952 307h6v7h-6zM744 314h6v6h-6zM744 346h6v7h-6zM750 372h7v7h-7zM757 385h6v7h-6zM789 418h7v6h-7z"/>
<path fill="#f9ebe3" d="M815 223h7v6h-7zM867 223h7v6h-7zM796 229h6v7h-6zM906 236h7v6h-7zM750 288h7v6h-7zM952 320h6v7h-6zM952 340h6v6h-6zM945 372h7v7h-7zM939 385h6v7h-6zM783 411h6v7h-6z"/>
<path fill="#f9eee7" d="M822 223h6v6h-6zM861 223h6v6h-6zM945 288h7v6h-7zM770 398h6v7h-6zM776 405h7v6h-7zM919 405h7v6h-7zM796 418h6v6h-6zM815 424h7v7h-7zM874 424h6v7h-6z"/>
<path fill="#f9efe9" d="M828 223h7v6h-7zM854 223h7v6h-7zM763 262h7v6h-7zM932 262h7v6h-7zM757 275h6v6h-6zM750 294h7v7h-7zM757 379h6v6h-6zM932 392h7v6h-7z"/>
<path fill="#f9f0eb" d="M835 223h6v6h-6zM841 223h7v6h-7zM848 223h6v6h-6zM887 229h6v7h-6zM913 242h6v7h-6zM750 359h7v7h-7zM945 366h7v6h-7zM926 398h6v7h-6zM893 418h7v6h-7zM867 424h7v7h-7z"/>
<path fill="#fae9df" d="M874 223h6v6h-6zM783 236h6v6h-6zM945 281h7v7h-7zM744 320h6v7h-6zM744 333h6v7h-6zM744 340h6v6h-6zM952 353h6v6h-6z"/>
<path fill="#fbe6da" d="M880 223h7v6h-7zM900 229h6v7h-6zM952 301h6v6h-6zM744 353h6v6h-6zM932 398h7v7h-7zM770 405h6v6h-6zM926 405h6v6h-6zM828 431h7v6h-7zM835 431h6v6h-6zM854 431h7v6h-7z"/>
<path fill="#fdd9c4" d="M900 223h6v6h-6zM913 229h6v7h-6zM737 307h7v7h-7zM737 353h7v6h-7zM958 359h7v7h-7zM952 379h6v6h-6zM906 424h7v7h-7zM835 437h6v7h-6zM841 437h7v7h-7zM848 437h6v7h-6z"/>
<path fill="#f9c4a9" d="M913 223h6v6h-6zM763 236h7v6h-7zM737 281h7v7h-7zM731 314h6v6h-6zM965 314h6v6h-6zM731 346h6v7h-6zM737 379h7v6h-7zM757 411h6v7h-6zM763 418h7v6h-7zM783 431h6v6h-6zM887 437h6v7h-6z"/>
<path fill="#fbe5d8" d="M789 229h7v7h-7zM913 236h6v6h-6zM744 301h6v6h-6zM763 398h7v7h-7zM906 418h7v6h-7zM861 431h6v6h-6z"/>
<path fill="#f8f1ed" d="M802 229h7v7h-7zM789 236h7v6h-7zM939 275h6v6h-6zM750 301h7v6h-7zM906 411h7v7h-7zM822 424h6v7h-6z"/>
<path fill="#f8f4f2" d="M809 229h6v7h-6zM880 229h7v7h-7zM776 249h7v6h-7zM757 281h6v7h-6zM750 346h7v7h-7zM757 372h6v7h-6zM887 418h6v6h-6zM841 424h7v7h-7z"/>
<path fill="#f6f7f7" d="M815 229h7v7h-7zM932 268h7v7h-7zM939 281h6v7h-6zM757 288h6v6h-6zM945 346h7v7h-7zM939 372h6v7h-6zM776 398h7v7h-7zM919 398h7v7h-7zM880 418h7v6h-7z"/>
<path fill="#f3f5f6" d="M822 229h6v7h-6zM893 236h7v6h-7zM770 262h6v6h-6zM945 340h7v6h-7zM763 379h7v6h-7zM874 418h6v6h-6z"/>
<path fill="#f0f4f6" d="M828 229h7v7h-7zM867 229h7v7h-7zM802 236h7v6h-7zM913 249h6v6h-6zM926 262h6v6h-6zM945 320h7v7h-7zM945 327h7v6h-7zM945 333h7v7h-7zM757 359h6v7h-6zM939 366h6v6h-6zM932 379h7v6h-7zM906 405h7v6h-7zM893 411h7v7h-7z"/>
<path fill="#edf2f5" d="M835 229h6v7h-6zM861 229h6v7h-6zM757 301h6v6h-6zM770 385h6v7h-6zM802 411h7v7h-7zM861 418h6v6h-6z"/>
<path fill="#ecf2f5" d="M841 229h7v7h-7zM848 229h6v7h-6zM854 229h7v7h-7zM887 236h6v6h-6zM932 275h7v6h-7zM757 353h6v6h-6zM939 359h6v7h-6zM763 372h7v7h-7zM926 385h6v7h-6zM913 398h6v7h-6zM828 418h7v6h-7z"/>
<path fill="#f5f6f7" d="M874 229h6v7h-6zM906 242h7v7h-7zM945 307h7v7h-7zM757 366h6v6h-6zM926 392h6v6h-6zM796 411h6v7h-6z"/>
<path fill="#faeae1" d="M893 229h7v7h-7zM776 242h7v7h-7zM770 249h6v6h-6zM757 268h6v7h-6zM939 268h6v7h-6zM952 314h6v6h-6zM744 327h6v6h-6zM952 346h6v7h-6zM913 411h6v7h-6zM900 418h6v6h-6zM809 424h6v7h-6zM880 424h7v7h-7z"/>
<path fill="#ef9979" d="M939 229h6v7h-6zM945 236h7v6h-7zM744 242h6v7h-6zM965 268h6v7h-6zM724 281h7v7h-7zM718 314h6v6h-6zM718 392h6v6h-6zM718 398h6v7h-6zM880 451h7v6h-7zM802 457h7v7h-7zM809 457h6v7h-6zM815 457h7v7h-7zM822 457h6v7h-6zM828 457h7v7h-7zM835 457h6v7h-6z"/>
<path fill="#fcd5bf" d="M770 236h6v6h-6zM763 242h7v7h-7zM952 275h6v6h-6zM737 301h7v6h-7zM737 359h7v7h-7zM783 424h6v7h-6zM861 437h6v7h-6z"/>
<path fill="#f7f6f6" d="M796 236h6v6h-6zM945 301h7v6h-7zM750 320h7v7h-7zM750 327h7v6h-7zM750 333h7v7h-7zM750 340h7v6h-7zM932 385h7v7h-7zM770 392h6v6h-6zM783 405h6v6h-6zM900 411h6v7h-6zM809 418h6v6h-6z"/>
<path fill="#eaf1f5" d="M809 236h6v6h-6zM900 242h6v7h-6zM770 268h6v7h-6zM763 281h7v7h-7zM757 307h6v7h-6zM776 392h7v6h-7zM919 392h7v6h-7zM783 398h6v7h-6zM887 411h6v7h-6zM835 418h6v6h-6zM841 418h7v6h-7zM848 418h6v6h-6zM854 418h7v6h-7z"/>
<path fill="#e6eff4" d="M815 236h7v6h-7zM880 236h7v6h-7zM789 249h7v6h-7zM776 262h7v6h-7zM926 268h6v7h-6zM763 288h7v6h-7zM757 327h6v6h-6zM757 333h6v7h-6zM939 353h6v6h-6zM796 405h6v6h-6zM880 411h7v7h-7z"/>
<path fill="#e0ecf3" d="M822 236h6v6h-6zM874 236h6v6h-6zM763 294h7v7h-7zM939 307h6v7h-6zM763 359h7v7h-7zM932 366h7v6h-7zM776 385h7v7h-7zM919 385h7v7h-7zM913 392h6v6h-6zM789 398h7v7h-7z"/>
<path fill="#ddebf2" d="M828 236h7v6h-7zM776 268h7v7h-7zM763 301h7v6h-7zM939 314h6v6h-6zM802 405h7v6h-7zM822 411h6v7h-6z"/>
<path fill="#dae9f2" d="M835 236h6v6h-6zM809 242h6v7h-6zM900 249h6v6h-6zM789 255h7v7h-7zM783 262h6v6h-6zM926 275h6v6h-6zM763 307h7v7h-7zM932 359h7v7h-7zM900 398h6v7h-6zM835 411h6v7h-6zM854 411h7v7h-7z"/>
<path fill="#d7e8f1" d="M841 236h7v6h-7zM848 236h6v6h-6zM854 236h7v6h-7zM763 314h7v6h-7zM796 398h6v7h-6zM809 405h6v6h-6z"/>
<path fill="#d8e9f1" d="M861 236h6v6h-6zM887 242h6v7h-6zM763 346h7v7h-7zM926 372h6v7h-6zM841 411h7v7h-7zM848 411h6v7h-6z"/>
<path fill="#dbeaf2" d="M867 236h7v6h-7zM796 249h6v6h-6zM770 281h6v7h-6zM932 288h7v6h-7zM939 320h6v7h-6zM939 327h6v6h-6zM939 333h6v7h-6zM763 353h7v6h-7zM770 372h6v7h-6zM887 405h6v6h-6zM828 411h7v7h-7zM861 411h6v7h-6z"/>
<path fill="#f8f3f0" d="M900 236h6v6h-6zM783 242h6v7h-6zM770 255h6v7h-6zM750 307h7v7h-7zM945 359h7v7h-7zM763 385h7v7h-7zM789 411h7v7h-7zM802 418h7v6h-7zM835 424h6v7h-6zM848 424h6v7h-6zM854 424h7v7h-7z"/>
<path fill="#fdddcb" d="M919 236h7v6h-7zM757 255h6v7h-6zM939 255h6v7h-6zM737 327h7v6h-7zM737 333h7v7h-7zM958 346h7v7h-7zM763 405h7v6h-7zM932 405h7v6h-7zM770 411h6v7h-6zM789 424h7v7h-7z"/>
<path fill="#f2f5f6" d="M789 242h7v7h-7zM763 275h7v6h-7zM757 294h6v7h-6zM945 314h7v6h-7zM815 418h7v6h-7z"/>
<path fill="#e9f0f4" d="M796 242h6v7h-6zM939 294h6v7h-6zM757 314h6v6h-6zM757 346h6v7h-6zM900 405h6v6h-6z"/>
<path fill="#e1edf3" d="M802 242h7v7h-7zM893 242h7v7h-7zM913 255h6v7h-6zM919 262h7v6h-7zM939 346h6v7h-6zM893 405h7v6h-7zM815 411h7v7h-7zM874 411h6v7h-6z"/>
<path fill="#d4e6f1" d="M815 242h7v7h-7zM913 262h6v6h-6zM776 275h7v6h-7zM932 353h7v6h-7zM770 366h6v6h-6zM919 379h7v6h-7z"/>
<path fill="#cce2ef" d="M822 242h6v7h-6zM796 255h6v7h-6zM789 262h7v6h-7zM932 346h7v7h-7zM802 398h7v7h-7zM822 405h6v6h-6z"/>
<path fill="#c5dfec" d="M828 242h7v7h-7zM900 255h6v7h-6zM926 288h6v6h-6zM919 372h7v7h-7zM796 392h6v6h-6zM861 405h6v6h-6z"/>
<path fill="#c0dceb" d="M835 242h6v7h-6zM887 249h6v6h-6zM906 262h7v6h-7zM913 268h6v7h-6zM932 320h7v7h-7zM932 327h7v6h-7zM776 366h7v6h-7zM913 379h6v6h-6zM848 405h6v6h-6z"/>
<path fill="#bbdaea" d="M841 242h7v7h-7zM848 242h6v7h-6zM854 242h7v7h-7zM815 249h7v6h-7zM802 255h7v7h-7zM770 320h6v7h-6zM770 327h6v6h-6zM770 333h6v7h-6z"/>
<path fill="#bddbea" d="M861 242h6v7h-6zM783 275h6v6h-6zM776 288h7v6h-7zM770 314h6v6h-6zM770 340h6v6h-6zM880 398h7v7h-7z"/>
<path fill="#c2ddec" d="M867 242h7v7h-7zM770 307h6v7h-6zM932 314h7v6h-7zM932 333h7v7h-7zM770 346h6v7h-6zM926 359h6v7h-6zM783 379h6v6h-6zM789 385h7v7h-7zM906 385h7v7h-7zM809 398h6v7h-6zM835 405h6v6h-6zM841 405h7v6h-7zM854 405h7v6h-7z"/>
<path fill="#cae1ee" d="M874 242h6v7h-6zM776 281h7v7h-7zM776 372h7v7h-7zM867 405h7v6h-7z"/>
<path fill="#d2e6f0" d="M880 242h7v7h-7zM802 249h7v6h-7zM783 385h6v7h-6zM913 385h6v7h-6zM789 392h7v6h-7zM893 398h7v7h-7z"/>
<path fill="#fae7dc" d="M919 242h7v7h-7zM932 255h7v7h-7zM744 307h6v7h-6zM952 359h6v7h-6zM945 379h7v6h-7zM802 424h7v7h-7zM887 424h6v7h-6zM841 431h7v6h-7zM848 431h6v6h-6z"/>
<path fill="#eff3f5" d="M783 249h6v6h-6zM776 255h7v7h-7zM919 255h7v7h-7zM939 288h6v6h-6zM789 405h7v6h-7zM822 418h6v6h-6zM867 418h7v6h-7z"/>
<path fill="#c7e0ed" d="M809 249h6v6h-6zM919 275h7v6h-7zM770 301h6v6h-6zM932 307h7v7h-7zM932 340h7v6h-7zM770 353h6v6h-6zM900 392h6v6h-6zM887 398h6v7h-6zM828 405h7v6h-7z"/>
<path fill="#b1d5e7" d="M822 249h6v6h-6zM783 281h6v7h-6zM789 379h7v6h-7zM796 385h6v7h-6zM900 385h6v7h-6zM822 398h6v7h-6z"/>
<path fill="#a7d0e4" d="M828 249h7v6h-7zM789 275h7v6h-7zM919 288h7v6h-7zM776 307h7v7h-7zM926 307h6v7h-6zM776 346h7v7h-7zM835 398h6v7h-6zM861 398h6v7h-6z"/>
<path fill="#a2cde3" d="M835 249h6v6h-6zM776 314h7v6h-7zM926 320h6v7h-6zM926 327h6v6h-6zM776 340h7v6h-7zM789 372h7v7h-7zM802 385h7v7h-7zM815 392h7v6h-7zM880 392h7v6h-7z"/>
<path fill="#9dcbe1" d="M841 249h7v6h-7zM861 249h6v6h-6zM913 281h6v7h-6zM919 353h7v6h-7zM913 366h6v6h-6z"/>
<path fill="#9bc9e0" d="M848 249h6v6h-6zM854 249h7v6h-7zM893 262h7v6h-7zM783 294h6v7h-6zM919 294h7v7h-7zM906 372h7v7h-7zM900 379h6v6h-6z"/>
<path fill="#a5cee3" d="M867 249h7v6h-7zM887 255h6v7h-6zM802 262h7v6h-7zM796 268h6v7h-6zM783 288h6v6h-6zM926 314h6v6h-6zM926 333h6v7h-6zM841 398h7v7h-7zM848 398h6v7h-6zM854 398h7v7h-7z"/>
<path fill="#acd2e5" d="M874 249h6v6h-6zM809 255h6v7h-6zM900 262h6v6h-6zM913 275h6v6h-6zM776 301h7v6h-7zM906 379h7v6h-7zM809 392h6v6h-6zM887 392h6v6h-6zM828 398h7v7h-7zM867 398h7v7h-7z"/>
<path fill="#b6d7e8" d="M880 249h7v6h-7zM919 281h7v7h-7zM776 359h7v7h-7zM919 366h7v6h-7zM783 372h6v7h-6z"/>
<path fill="#cfe4ef" d="M893 249h7v6h-7zM783 268h6v7h-6zM770 294h6v7h-6zM932 301h7v6h-7zM770 359h6v7h-6zM926 366h6v6h-6z"/>
<path fill="#e4eef4" d="M906 249h7v6h-7zM783 255h6v7h-6zM763 366h7v6h-7zM770 379h6v6h-6z"/>
<path fill="#f8f2ef" d="M919 249h7v6h-7zM926 255h6v7h-6zM945 294h7v7h-7zM750 353h7v6h-7zM939 379h6v6h-6zM828 424h7v7h-7zM861 424h6v7h-6z"/>
<path fill="#f4a683" d="M952 249h6v6h-6zM731 275h6v6h-6zM971 307h7v7h-7zM724 385h7v7h-7zM731 405h6v6h-6zM744 424h6v7h-6zM750 431h7v6h-7zM776 444h7v7h-7zM893 444h7v7h-7zM802 451h7v6h-7zM861 451h6v6h-6z"/>
<path fill="#a0cce2" d="M815 255h7v7h-7zM776 320h7v7h-7zM776 327h7v6h-7zM776 333h7v7h-7zM783 359h6v7h-6zM796 379h6v6h-6zM893 385h7v7h-7z"/>
<path fill="#96c7df" d="M822 255h6v7h-6zM809 262h6v6h-6zM900 268h6v7h-6zM906 275h7v6h-7zM783 353h6v6h-6zM809 385h6v7h-6z"/>
<path fill="#8ac0db" d="M828 255h7v7h-7zM887 262h6v6h-6zM789 288h7v6h-7zM913 288h6v6h-6zM919 340h7v6h-7zM835 392h6v6h-6zM861 392h6v6h-6z"/>
<path fill="#81bad8" d="M835 255h6v7h-6zM893 268h7v7h-7zM906 281h7v7h-7zM919 314h7v6h-7zM783 320h6v7h-6zM783 327h6v6h-6zM919 327h7v6h-7zM783 333h6v7h-6zM913 353h6v6h-6z"/>
<path fill="#7eb8d7" d="M841 255h7v7h-7zM809 268h6v7h-6zM900 275h6v6h-6zM796 281h6v7h-6zM789 294h7v7h-7zM919 320h7v7h-7zM809 379h6v6h-6zM822 385h6v7h-6z"/>
<path fill="#78b4d5" d="M848 255h6v7h-6zM854 255h7v7h-7zM822 262h6v6h-6zM880 262h7v6h-7zM887 379h6v6h-6z"/>
<path fill="#7bb6d6" d="M861 255h6v7h-6zM802 275h7v6h-7zM913 294h6v7h-6zM789 353h7v6h-7zM796 366h6v6h-6zM802 372h7v7h-7zM874 385h6v7h-6z"/>
<path fill="#84bcd9" d="M867 255h7v7h-7zM783 314h6v6h-6zM919 333h7v7h-7zM900 372h6v7h-6zM880 385h7v7h-7z"/>
<path fill="#8dc2dc" d="M874 255h6v7h-6zM783 346h6v7h-6zM796 372h6v7h-6z"/>
<path fill="#98c8e0" d="M880 255h7v7h-7zM789 281h7v7h-7zM822 392h6v6h-6zM874 392h6v6h-6z"/>
<path fill="#b3d6e8" d="M893 255h7v7h-7zM776 294h7v7h-7zM874 398h6v7h-6z"/>
<path fill="#d5e7f1" d="M906 255h7v7h-7zM919 268h7v7h-7zM770 288h6v6h-6zM932 294h7v7h-7zM763 320h7v7h-7zM763 327h7v6h-7zM763 333h7v7h-7zM763 340h7v6h-7zM776 379h7v6h-7zM906 392h7v6h-7zM880 405h7v6h-7z"/>
<path fill="#f5aa89" d="M737 262h7v6h-7zM965 281h6v7h-6zM724 307h7v7h-7zM971 320h7v7h-7zM971 346h7v7h-7zM724 372h7v7h-7zM958 392h7v6h-7zM744 418h6v6h-6zM750 424h7v7h-7zM757 431h6v6h-6zM919 431h7v6h-7zM906 437h7v7h-7zM783 444h6v7h-6zM815 451h7v6h-7zM822 451h6v6h-6zM848 451h6v6h-6z"/>
<path fill="#b8d8e9" d="M796 262h6v6h-6zM789 268h7v7h-7zM926 294h6v7h-6zM926 353h6v6h-6zM802 392h7v6h-7zM893 392h7v6h-7zM815 398h7v7h-7z"/>
<path fill="#87beda" d="M815 262h7v6h-7zM783 307h6v7h-6zM919 307h7v7h-7zM783 340h6v6h-6zM789 359h7v7h-7zM906 366h7v6h-7zM893 379h7v6h-7zM815 385h7v7h-7zM841 392h7v6h-7zM848 392h6v6h-6zM854 392h7v6h-7z"/>
<path fill="#6bacd1" d="M828 262h7v6h-7zM874 262h6v6h-6zM815 268h7v7h-7zM887 268h6v7h-6zM906 288h7v6h-7zM796 359h6v7h-6zM835 385h6v7h-6zM861 385h6v7h-6z"/>
<path fill="#62a7ce" d="M835 262h6v6h-6zM893 275h7v6h-7zM789 314h7v6h-7zM789 333h7v7h-7zM913 333h6v7h-6zM822 379h6v6h-6z"/>
<path fill="#5ca3cb" d="M841 262h7v6h-7zM822 268h6v7h-6zM913 320h6v7h-6zM913 327h6v6h-6zM900 359h6v7h-6zM887 372h6v7h-6zM874 379h6v6h-6z"/>
<path fill="#569fc9" d="M848 262h6v6h-6zM854 262h7v6h-7zM802 288h7v6h-7zM906 346h7v7h-7zM802 359h7v7h-7zM815 372h7v7h-7z"/>
<path fill="#59a1ca" d="M861 262h6v6h-6zM880 268h7v7h-7zM906 294h7v7h-7zM893 366h7v6h-7zM828 379h7v6h-7z"/>
<path fill="#5fa5cd" d="M867 262h7v6h-7zM796 294h6v7h-6zM913 314h6v6h-6zM789 320h7v7h-7zM789 327h7v6h-7zM796 353h6v6h-6z"/>
<path fill="#f7f5f4" d="M763 268h7v7h-7zM750 314h7v6h-7zM945 353h7v6h-7zM913 405h6v6h-6z"/>
<path fill="#90c4dd" d="M802 268h7v7h-7zM783 301h6v6h-6zM919 301h7v6h-7zM913 359h6v7h-6zM802 379h7v6h-7zM828 392h7v6h-7zM867 392h7v6h-7z"/>
<path fill="#4f9bc7" d="M828 268h7v7h-7zM809 281h6v7h-6zM835 379h6v6h-6z"/>
<path fill="#4393c3" d="M835 268h6v7h-6zM796 320h6v7h-6zM796 327h6v6h-6zM893 359h7v7h-7zM815 366h7v6h-7zM887 366h6v6h-6z"/>
<path fill="#3f8ec0" d="M841 268h7v7h-7zM900 294h6v7h-6zM802 301h7v6h-7zM906 314h7v6h-7zM906 327h7v6h-7zM900 346h6v7h-6z"/>
<path fill="#3c8abe" d="M848 268h6v7h-6zM854 268h7v7h-7zM828 275h7v6h-7zM802 340h7v6h-7zM822 366h6v6h-6zM880 366h7v6h-7z"/>
<path fill="#3e8cbf" d="M861 268h6v7h-6zM880 275h7v6h-7zM906 320h7v7h-7zM835 372h6v7h-6zM867 372h7v7h-7z"/>
<path fill="#408fc1" d="M867 268h7v7h-7zM815 281h7v7h-7zM809 288h6v6h-6zM802 346h7v7h-7zM828 372h7v7h-7z"/>
<path fill="#4997c5" d="M874 268h6v7h-6zM893 281h7v7h-7zM906 340h7v6h-7zM900 353h6v6h-6zM822 372h6v7h-6zM841 379h7v6h-7zM848 379h6v6h-6zM854 379h7v6h-7z"/>
<path fill="#a9d1e5" d="M906 268h7v7h-7zM926 340h6v6h-6zM919 359h7v7h-7zM783 366h6v6h-6z"/>
<path fill="#e3edf3" d="M770 275h6v6h-6zM932 281h7v7h-7zM939 301h6v6h-6zM926 379h6v6h-6zM906 398h7v7h-7z"/>
<path fill="#93c6de" d="M796 275h6v6h-6zM919 346h7v7h-7zM789 366h7v6h-7zM887 385h6v7h-6z"/>
<path fill="#65a9cf" d="M809 275h6v6h-6zM802 281h7v7h-7zM900 281h6v7h-6zM913 307h6v7h-6zM906 353h7v6h-7zM802 366h7v6h-7zM809 372h6v7h-6zM848 385h6v7h-6zM854 385h7v7h-7z"/>
<path fill="#529dc8" d="M815 275h7v6h-7zM796 301h6v6h-6zM796 346h6v7h-6zM809 366h6v6h-6zM867 379h7v6h-7z"/>
<path fill="#4291c2" d="M822 275h6v6h-6zM906 307h7v7h-7zM906 333h7v7h-7zM809 359h6v7h-6zM874 372h6v7h-6z"/>
<path fill="#3681ba" d="M835 275h6v6h-6zM809 346h6v7h-6z"/>
<path fill="#327cb7" d="M841 275h7v6h-7zM867 275h7v6h-7zM880 281h7v7h-7zM893 294h7v7h-7zM809 340h6v6h-6zM880 359h7v7h-7zM867 366h7v6h-7z"/>
<path fill="#2f79b5" d="M848 275h6v6h-6zM861 275h6v6h-6zM815 294h7v7h-7zM809 307h6v7h-6zM809 333h6v7h-6zM861 366h6v6h-6z"/>
<path fill="#2e77b5" d="M854 275h7v6h-7zM822 288h6v6h-6zM815 346h7v7h-7zM828 359h7v7h-7zM848 366h6v6h-6zM854 366h7v6h-7z"/>
<path fill="#3783bb" d="M874 275h6v6h-6zM815 288h7v6h-7zM802 320h7v7h-7zM802 327h7v6h-7zM828 366h7v6h-7zM874 366h6v6h-6z"/>
<path fill="#4c99c6" d="M887 275h6v6h-6zM900 288h6v6h-6zM906 301h7v6h-7zM796 307h6v7h-6zM796 340h6v6h-6zM880 372h7v7h-7zM861 379h6v6h-6z"/>
<path fill="#f3a481" d="M965 275h6v6h-6zM724 294h7v7h-7zM971 359h7v7h-7zM724 392h7v6h-7zM952 405h6v6h-6zM737 418h7v6h-7zM932 424h7v7h-7zM757 437h6v7h-6zM770 444h6v7h-6zM796 451h6v6h-6zM867 451h7v6h-7z"/>
<path fill="#e58368" d="M971 275h7v6h-7zM718 281h6v7h-6zM711 307h7v7h-7zM978 307h6v7h-6zM705 340h6v6h-6zM705 346h6v7h-6zM880 457h7v7h-7zM848 464h6v6h-6zM809 470h6v7h-6z"/>
<path fill="#3885bc" d="M822 281h6v7h-6zM900 301h6v6h-6zM802 314h7v6h-7zM802 333h7v7h-7zM900 340h6v6h-6zM854 372h7v7h-7z"/>
<path fill="#307ab6" d="M828 281h7v7h-7zM887 288h6v6h-6zM900 314h6v6h-6zM900 320h6v7h-6zM900 327h6v6h-6zM887 353h6v6h-6zM841 366h7v6h-7z"/>
<path fill="#2a71b2" d="M835 281h6v7h-6zM835 359h6v7h-6z"/>
<path fill="#246aae" d="M841 281h7v7h-7zM815 307h7v7h-7zM893 327h7v6h-7zM815 333h7v7h-7z"/>
<path fill="#2267ac" d="M848 281h6v7h-6zM854 281h7v7h-7zM861 281h6v7h-6zM815 314h7v6h-7zM815 327h7v6h-7zM887 340h6v6h-6zM854 359h7v7h-7z"/>
<path fill="#266caf" d="M867 281h7v7h-7zM828 288h7v6h-7zM822 294h6v7h-6zM822 346h6v7h-6zM828 353h7v6h-7zM841 359h7v7h-7z"/>
<path fill="#2b73b3" d="M874 281h6v7h-6zM893 301h7v6h-7zM874 359h6v7h-6z"/>
<path fill="#3b88be" d="M887 281h6v7h-6zM893 288h7v6h-7zM802 307h7v7h-7zM809 353h6v6h-6zM893 353h7v6h-7zM815 359h7v7h-7zM841 372h7v7h-7zM861 372h6v7h-6z"/>
<path fill="#d1e5f0" d="M926 281h6v7h-6zM815 405h7v6h-7zM874 405h6v6h-6z"/>
<path fill="#fddcc9" d="M952 281h6v7h-6zM737 314h7v6h-7zM958 314h7v6h-7zM737 320h7v7h-7zM737 340h7v6h-7zM958 353h7v6h-7zM744 372h6v7h-6zM757 398h6v7h-6zM939 398h6v7h-6z"/>
<path fill="#6eaed2" d="M796 288h6v6h-6zM913 301h6v6h-6zM789 346h7v7h-7zM900 366h6v6h-6zM893 372h7v7h-7zM815 379h7v6h-7z"/>
<path fill="#1f63a8" d="M835 288h6v6h-6zM822 301h6v6h-6zM822 340h6v6h-6zM880 346h7v7h-7zM835 353h6v6h-6z"/>
<path fill="#1b5a9c" d="M841 288h7v6h-7zM822 307h6v7h-6zM887 327h6v6h-6z"/>
<path fill="#195696" d="M848 288h6v6h-6zM854 288h7v6h-7zM861 288h6v6h-6zM874 294h6v7h-6zM880 301h7v6h-7zM822 314h6v6h-6zM822 327h6v6h-6zM828 340h7v6h-7zM835 346h6v7h-6zM854 353h7v6h-7z"/>
<path fill="#1c5c9f" d="M867 288h7v6h-7zM887 307h6v7h-6zM822 333h6v7h-6zM841 353h7v6h-7z"/>
<path fill="#2065ab" d="M874 288h6v6h-6zM887 301h6v6h-6zM815 320h7v7h-7zM874 353h6v6h-6z"/>
<path fill="#276eb0" d="M880 288h7v6h-7zM887 294h6v7h-6zM893 307h7v7h-7zM893 333h7v7h-7zM867 359h7v7h-7z"/>
<path fill="#f7b99c" d="M731 294h6v7h-6zM965 366h6v6h-6zM737 392h7v6h-7zM945 405h7v6h-7zM750 411h7v7h-7zM939 411h6v7h-6zM932 418h7v6h-7zM763 424h7v7h-7zM867 444h7v7h-7z"/>
<path fill="#4695c4" d="M802 294h7v7h-7zM796 314h6v6h-6zM796 333h6v7h-6zM802 353h7v6h-7z"/>
<path fill="#3a87bd" d="M809 294h6v7h-6zM887 359h6v7h-6zM848 372h6v7h-6z"/>
<path fill="#1d5fa2" d="M828 294h7v7h-7zM887 333h6v7h-6zM867 353h7v6h-7z"/>
<path fill="#185493" d="M835 294h6v7h-6zM828 301h7v6h-7zM822 320h6v7h-6z"/>
<path fill="#144e8a" d="M841 294h7v7h-7zM867 294h7v7h-7zM828 307h7v7h-7zM828 333h7v7h-7zM874 340h6v6h-6z"/>
<path fill="#124984" d="M848 294h6v7h-6zM861 294h6v7h-6zM835 301h6v6h-6zM828 314h7v6h-7zM880 314h7v6h-7zM880 320h7v7h-7zM828 327h7v6h-7zM854 346h7v7h-7z"/>
<path fill="#114781" d="M854 294h7v7h-7zM828 320h7v7h-7z"/>
<path fill="#1e61a5" d="M880 294h7v7h-7zM828 346h7v7h-7z"/>
<path fill="#71b0d3" d="M789 301h7v6h-7zM828 385h7v7h-7zM867 385h7v7h-7z"/>
<path fill="#3480b9" d="M809 301h6v6h-6zM900 333h6v7h-6z"/>
<path fill="#2870b1" d="M815 301h7v6h-7zM815 340h7v6h-7zM887 346h6v7h-6zM880 353h7v6h-7z"/>
<path fill="#0f437b" d="M841 301h7v6h-7zM867 301h7v6h-7zM835 307h6v7h-6zM874 307h6v7h-6zM835 333h6v7h-6zM841 340h7v6h-7z"/>
<path fill="#0d3f76" d="M848 301h6v6h-6zM861 301h6v6h-6zM835 314h6v6h-6zM874 314h6v6h-6zM874 320h6v7h-6zM835 327h6v6h-6zM874 327h6v6h-6zM848 340h6v6h-6zM854 340h7v6h-7zM861 340h6v6h-6z"/>
<path fill="#0c3d73" d="M854 301h7v6h-7zM835 320h6v7h-6zM841 333h7v7h-7zM867 333h7v7h-7z"/>
<path fill="#134c87" d="M874 301h6v6h-6zM880 327h7v6h-7zM835 340h6v6h-6zM848 346h6v7h-6zM861 346h6v7h-6z"/>
<path fill="#aed3e6" d="M926 301h6v6h-6zM926 346h6v7h-6zM776 353h7v6h-7zM913 372h6v7h-6z"/>
<path fill="#68abd0" d="M789 307h7v7h-7zM789 340h7v6h-7zM913 340h6v6h-6zM880 379h7v6h-7zM841 385h7v7h-7z"/>
<path fill="#0a3b70" d="M841 307h7v7h-7zM867 307h7v7h-7z"/>
<path fill="#08366a" d="M848 307h6v7h-6zM861 307h6v7h-6zM841 314h7v6h-7zM867 314h7v6h-7zM867 320h7v7h-7zM841 327h7v6h-7zM854 333h7v7h-7zM861 333h6v7h-6z"/>
<path fill="#073467" d="M854 307h7v7h-7zM841 320h7v7h-7z"/>
<path fill="#15508d" d="M880 307h7v7h-7zM880 333h7v7h-7zM841 346h7v7h-7zM867 346h7v7h-7z"/>
<path fill="#337eb8" d="M900 307h6v7h-6zM893 346h7v7h-7zM815 353h7v6h-7zM822 359h6v7h-6zM835 366h6v6h-6z"/>
<path fill="#2c75b4" d="M809 314h6v6h-6zM809 320h6v7h-6zM809 327h6v6h-6zM893 340h7v6h-7zM822 353h6v6h-6z"/>
<path fill="#063264" d="M848 314h6v6h-6zM848 327h6v6h-6zM861 327h6v6h-6z"/>
<path fill="#053061" d="M854 314h7v6h-7zM861 314h6v6h-6zM848 320h6v7h-6zM854 320h7v7h-7zM861 320h6v7h-6zM854 327h7v6h-7z"/>
<path fill="#1a5899" d="M887 314h6v6h-6zM887 320h6v7h-6zM880 340h7v6h-7zM874 346h6v7h-6zM848 353h6v6h-6zM861 353h6v6h-6z"/>
<path fill="#2369ad" d="M893 314h7v6h-7zM893 320h7v7h-7zM848 359h6v7h-6zM861 359h6v7h-6z"/>
<path fill="#e7f0f4" d="M757 320h6v7h-6zM757 340h6v6h-6zM932 372h7v7h-7zM809 411h6v7h-6z"/>
<path fill="#09386d" d="M867 327h7v6h-7zM848 333h6v7h-6z"/>
<path fill="#f9ede5" d="M952 327h6v6h-6zM952 333h6v7h-6zM750 366h7v6h-7zM763 392h7v6h-7z"/>
<path fill="#10457e" d="M874 333h6v7h-6zM867 340h7v6h-7z"/>
<path fill="#deebf2" d="M939 340h6v6h-6zM783 392h6v6h-6zM867 411h7v7h-7z"/>
<path fill="#75b2d4" d="M913 346h6v7h-6zM906 359h7v7h-7z"/></g>
<g id="p3"><path fill="#8d0c25" d="M1474 158h6v6h-6zM1500 158h6v6h-6zM1480 164h7v7h-7zM1493 164h7v7h-7zM1474 171h6v6h-6zM1487 171h6v6h-6zM1500 171h6v6h-6zM1480 177h7v7h-7zM1493 177h7v7h-7zM1506 177h7v7h-7zM1480 184h7v6h-7zM1493 184h7v6h-7zM1467 190h7v7h-7zM1474 190h6v7h-6zM1461 197h6v6h-6zM1467 197h7v6h-7zM1461 203h6v7h-6zM1519 203h7v7h-7zM1526 210h6v6h-6zM1448 223h6v6h-6zM1539 223h6v6h-6zM1545 229h7v7h-7zM1441 236h7v6h-7zM1552 236h6v6h-6zM1435 249h6v6h-6zM1571 249h7v6h-7zM1428 262h7v6h-7zM1610 268h7v7h-7zM1422 275h6v6h-6zM1623 275h7v6h-7zM1630 275h6v6h-6zM1422 281h6v7h-6zM1649 281h7v7h-7zM1649 288h7v6h-7zM1422 314h6v6h-6zM1422 320h6v7h-6zM1422 327h6v6h-6zM1422 333h6v7h-6zM1649 340h7v6h-7zM1428 346h7v7h-7zM1649 346h7v7h-7zM1630 353h6v6h-6zM1435 359h6v7h-6zM1604 359h6v7h-6zM1610 359h7v7h-7zM1441 366h7v6h-7zM1591 366h6v6h-6zM1448 372h6v7h-6zM1578 372h6v7h-6zM1454 379h7v6h-7zM1565 379h6v6h-6zM1467 385h7v7h-7zM1552 385h6v7h-6zM1480 392h7v6h-7zM1487 392h6v6h-6zM1493 392h7v6h-7zM1500 392h6v6h-6zM1526 392h6v6h-6zM1532 392h7v6h-7zM1539 392h6v6h-6z"/>
<path fill="#930e26" d="M1480 158h7v6h-7zM1493 158h7v6h-7zM1467 164h7v7h-7zM1487 164h6v7h-6zM1500 164h6v7h-6zM1480 171h7v6h-7zM1493 171h7v6h-7zM1513 171h6v6h-6zM1474 177h6v7h-6zM1461 184h6v6h-6zM1467 184h7v6h-7zM1461 190h6v7h-6zM1519 190h7v7h-7zM1526 197h6v6h-6zM1526 203h6v7h-6zM1448 210h6v6h-6zM1532 210h7v6h-7zM1539 216h6v7h-6zM1441 223h7v6h-7zM1545 223h7v6h-7zM1552 229h6v7h-6zM1435 236h6v6h-6zM1571 242h7v7h-7zM1428 249h7v6h-7zM1591 255h6v7h-6zM1422 262h6v6h-6zM1617 268h6v7h-6zM1415 275h7v6h-7zM1636 275h7v6h-7zM1415 281h7v7h-7zM1415 288h7v6h-7zM1415 294h7v7h-7zM1415 301h7v6h-7zM1415 307h7v7h-7zM1415 314h7v6h-7zM1656 314h6v6h-6zM1415 320h7v7h-7zM1415 327h7v6h-7zM1422 346h6v7h-6zM1636 353h7v6h-7zM1428 359h7v7h-7zM1617 359h6v7h-6zM1623 359h7v7h-7zM1435 366h6v6h-6zM1604 366h6v6h-6zM1448 379h6v6h-6zM1454 385h7v7h-7zM1565 385h6v7h-6zM1467 392h7v6h-7zM1552 392h6v6h-6zM1487 398h6v7h-6zM1493 398h7v7h-7zM1500 398h6v7h-6zM1506 398h7v7h-7zM1513 398h6v7h-6zM1519 398h7v7h-7zM1526 398h6v7h-6zM1532 398h7v7h-7z"/>
<path fill="#8a0b25" d="M1487 158h6v6h-6zM1474 184h6v6h-6zM1487 184h6v6h-6zM1500 184h6v6h-6zM1487 190h6v7h-6zM1500 190h6v7h-6zM1506 190h7v7h-7zM1506 197h7v6h-7zM1513 197h6v6h-6zM1513 203h6v7h-6zM1461 210h6v6h-6zM1519 210h7v6h-7zM1454 216h7v7h-7zM1526 216h6v7h-6zM1532 223h7v6h-7zM1448 229h6v7h-6zM1539 229h6v7h-6zM1441 242h7v7h-7zM1558 242h7v7h-7zM1565 249h6v6h-6zM1578 255h6v7h-6zM1591 262h6v6h-6zM1428 268h7v7h-7zM1604 268h6v7h-6zM1630 281h6v7h-6zM1636 281h7v7h-7zM1422 288h6v6h-6zM1636 288h7v6h-7zM1422 294h6v7h-6zM1643 294h6v7h-6zM1422 301h6v6h-6zM1649 301h7v6h-7zM1422 307h6v7h-6zM1649 327h7v6h-7zM1643 333h6v7h-6zM1428 340h7v6h-7zM1636 340h7v6h-7zM1630 346h6v7h-6zM1636 346h7v7h-7zM1435 353h6v6h-6zM1617 353h6v6h-6zM1597 359h7v7h-7zM1584 366h7v6h-7zM1571 372h7v7h-7zM1461 379h6v6h-6zM1558 379h7v6h-7zM1474 385h6v7h-6zM1545 385h7v7h-7zM1506 392h7v6h-7zM1513 392h6v6h-6zM1519 392h7v6h-7z"/>
<path fill="#960f27" d="M1506 158h7v6h-7zM1474 164h6v7h-6zM1461 171h6v6h-6zM1506 171h7v6h-7zM1513 177h6v7h-6zM1519 177h7v7h-7zM1454 190h7v7h-7zM1454 197h7v6h-7zM1532 203h7v7h-7zM1441 216h7v7h-7zM1552 223h6v6h-6zM1435 229h6v7h-6zM1558 229h7v7h-7zM1565 236h6v6h-6zM1428 242h7v7h-7zM1584 249h7v6h-7zM1422 255h6v7h-6zM1597 255h7v7h-7zM1610 262h7v6h-7zM1617 262h6v6h-6zM1415 268h7v7h-7zM1636 268h7v7h-7zM1656 288h6v6h-6zM1656 301h6v6h-6zM1656 327h6v6h-6zM1415 333h7v7h-7zM1415 340h7v6h-7zM1656 340h6v6h-6zM1422 353h6v6h-6zM1636 359h7v7h-7zM1428 366h7v6h-7zM1435 372h6v7h-6zM1591 372h6v7h-6zM1441 379h7v6h-7zM1578 379h6v6h-6zM1448 385h6v7h-6zM1461 392h6v6h-6zM1474 398h6v7h-6zM1480 398h7v7h-7zM1539 398h6v7h-6z"/>
<path fill="#900d26" d="M1513 158h6v6h-6zM1506 164h7v7h-7zM1467 177h7v7h-7zM1487 177h6v7h-6zM1500 177h6v7h-6zM1506 184h7v6h-7zM1513 184h6v6h-6zM1513 190h6v7h-6zM1519 197h7v6h-7zM1454 203h7v7h-7zM1454 210h7v6h-7zM1448 216h6v7h-6zM1532 216h7v7h-7zM1441 229h7v7h-7zM1558 236h7v6h-7zM1435 242h6v7h-6zM1565 242h6v7h-6zM1578 249h6v6h-6zM1428 255h7v7h-7zM1584 255h7v7h-7zM1597 262h7v6h-7zM1604 262h6v6h-6zM1422 268h6v7h-6zM1623 268h7v7h-7zM1643 275h6v6h-6zM1643 281h6v7h-6zM1422 340h6v6h-6zM1643 346h6v7h-6zM1428 353h7v6h-7zM1623 353h7v6h-7zM1643 353h6v6h-6zM1597 366h7v6h-7zM1441 372h7v7h-7zM1584 372h7v7h-7zM1571 379h7v6h-7zM1461 385h6v7h-6zM1558 385h7v7h-7zM1474 392h6v6h-6zM1545 392h7v6h-7z"/>
<path fill="#9f1228" d="M1519 158h7v6h-7zM1454 164h7v7h-7zM1519 171h7v6h-7zM1454 184h7v6h-7zM1539 197h6v6h-6zM1545 203h7v7h-7zM1435 210h6v6h-6zM1435 216h6v7h-6zM1565 223h6v6h-6zM1428 229h7v7h-7zM1571 229h7v7h-7zM1578 236h6v6h-6zM1415 249h7v6h-7zM1597 249h7v6h-7zM1604 249h6v6h-6zM1623 262h7v6h-7zM1409 268h6v7h-6zM1643 268h6v7h-6zM1402 294h7v7h-7zM1402 301h7v6h-7zM1409 340h6v6h-6zM1415 359h7v7h-7zM1584 385h7v7h-7zM1571 392h7v6h-7zM1454 398h7v7h-7zM1558 398h7v7h-7zM1474 405h6v6h-6zM1545 405h7v6h-7z"/>
<path fill="#9c1127" d="M1526 158h6v6h-6zM1513 164h6v7h-6zM1526 171h6v6h-6zM1526 190h6v7h-6zM1532 190h7v7h-7zM1532 197h7v6h-7zM1441 203h7v7h-7zM1539 203h6v7h-6zM1441 210h7v6h-7zM1545 210h7v6h-7zM1552 216h6v7h-6zM1435 223h6v6h-6zM1558 223h7v6h-7zM1565 229h6v7h-6zM1422 242h6v7h-6zM1584 242h7v7h-7zM1415 255h7v7h-7zM1604 255h6v7h-6zM1610 255h7v7h-7zM1630 262h6v6h-6zM1409 275h6v6h-6zM1656 294h6v7h-6zM1409 320h6v7h-6zM1409 327h6v6h-6zM1409 333h6v7h-6zM1656 333h6v7h-6zM1415 353h7v6h-7zM1649 359h7v7h-7zM1422 366h6v6h-6zM1428 372h7v7h-7zM1604 372h6v7h-6zM1610 372h7v7h-7zM1435 379h6v6h-6zM1591 379h6v6h-6zM1441 385h7v7h-7zM1578 385h6v7h-6zM1448 392h6v6h-6zM1565 392h6v6h-6zM1461 398h6v7h-6zM1552 398h6v7h-6zM1480 405h7v6h-7zM1487 405h6v6h-6zM1493 405h7v6h-7zM1526 405h6v6h-6zM1532 405h7v6h-7zM1539 405h6v6h-6z"/>
<path fill="#a21328" d="M1461 164h6v7h-6zM1526 177h6v7h-6zM1532 177h7v7h-7zM1448 184h6v6h-6zM1552 210h6v6h-6zM1558 216h7v7h-7zM1428 223h7v6h-7zM1422 236h6v6h-6zM1584 236h7v6h-7zM1591 242h6v7h-6zM1597 242h7v7h-7zM1623 255h7v7h-7zM1409 262h6v6h-6zM1402 275h7v6h-7zM1402 281h7v7h-7zM1344 288h6v6h-6zM1402 288h7v6h-7zM1402 307h7v7h-7zM1402 314h7v6h-7zM1402 320h7v7h-7zM1402 327h7v6h-7zM1409 346h6v7h-6zM1409 353h6v6h-6zM1643 359h6v7h-6zM1415 366h7v6h-7zM1623 366h7v6h-7zM1630 366h6v6h-6zM1422 372h6v7h-6zM1428 379h7v6h-7zM1597 379h7v6h-7zM1604 379h6v6h-6zM1435 385h6v7h-6zM1441 392h7v6h-7zM1578 392h6v6h-6zM1448 398h6v7h-6zM1565 398h6v7h-6zM1461 405h6v6h-6zM1467 405h7v6h-7zM1552 405h6v6h-6zM1487 411h6v7h-6zM1493 411h7v7h-7zM1500 411h6v7h-6zM1506 411h7v7h-7zM1513 411h6v7h-6zM1519 411h7v7h-7zM1526 411h6v7h-6zM1532 411h7v7h-7z"/>
<path fill="#991027" d="M1519 164h7v7h-7zM1467 171h7v6h-7zM1454 177h7v7h-7zM1461 177h6v7h-6zM1519 184h7v6h-7zM1526 184h6v6h-6zM1448 197h6v6h-6zM1448 203h6v7h-6zM1539 210h6v6h-6zM1545 216h7v7h-7zM1428 236h7v6h-7zM1571 236h7v6h-7zM1578 242h6v7h-6zM1422 249h6v6h-6zM1591 249h6v6h-6zM1415 262h7v6h-7zM1630 268h6v7h-6zM1649 268h7v7h-7zM1649 275h7v6h-7zM1409 281h6v7h-6zM1409 288h6v6h-6zM1409 294h6v7h-6zM1409 301h6v6h-6zM1409 307h6v7h-6zM1656 307h6v7h-6zM1409 314h6v6h-6zM1656 320h6v7h-6zM1415 346h7v7h-7zM1649 353h7v6h-7zM1422 359h6v7h-6zM1630 359h6v7h-6zM1610 366h7v6h-7zM1617 366h6v6h-6zM1597 372h7v7h-7zM1584 379h7v6h-7zM1571 385h7v7h-7zM1454 392h7v6h-7zM1558 392h7v6h-7zM1467 398h7v7h-7zM1545 398h7v7h-7zM1500 405h6v6h-6zM1506 405h7v6h-7zM1513 405h6v6h-6zM1519 405h7v6h-7z"/>
<path fill="#a81529" d="M1526 164h6v7h-6zM1532 164h7v7h-7zM1441 190h7v7h-7zM1539 190h6v7h-6zM1545 190h7v7h-7zM1441 197h7v6h-7zM1545 197h7v6h-7zM1435 203h6v7h-6zM1552 203h6v7h-6zM1558 203h7v7h-7zM1558 210h7v6h-7zM1565 210h6v6h-6zM1565 216h6v7h-6zM1571 216h7v7h-7zM1422 223h6v6h-6zM1578 223h6v6h-6zM1415 229h7v7h-7zM1584 229h7v7h-7zM1415 236h7v6h-7zM1610 249h7v6h-7zM1617 249h6v6h-6zM1636 255h7v7h-7zM1402 262h7v6h-7zM1636 262h7v6h-7zM1396 275h6v6h-6zM1396 281h6v7h-6zM1396 288h6v6h-6zM1396 294h6v7h-6zM1396 301h6v6h-6zM1396 307h6v7h-6zM1396 314h6v6h-6zM1396 320h6v7h-6zM1402 346h7v7h-7zM1415 372h7v7h-7zM1617 372h6v7h-6zM1623 372h7v7h-7zM1584 392h7v6h-7zM1591 392h6v6h-6zM1441 398h7v7h-7zM1565 405h6v6h-6zM1467 411h7v7h-7zM1545 411h7v7h-7zM1493 418h7v6h-7zM1500 418h6v6h-6zM1506 418h7v6h-7zM1513 418h6v6h-6zM1519 418h7v6h-7zM1526 418h6v6h-6z"/>
<path fill="#b61f2e" d="M1539 164h6v7h-6zM1558 177h7v7h-7zM1565 184h6v6h-6zM1610 236h7v6h-7zM1617 242h6v7h-6zM1383 262h6v6h-6zM1383 268h6v7h-6zM1376 281h7v7h-7zM1376 307h7v7h-7zM1376 320h7v7h-7zM1376 333h7v7h-7zM1383 333h6v7h-6zM1383 353h6v6h-6zM1389 372h7v7h-7zM1396 372h6v7h-6zM1396 379h6v6h-6zM1623 379h7v6h-7zM1435 418h6v6h-6zM1441 418h7v6h-7zM1571 418h7v6h-7zM1578 418h6v6h-6zM1441 424h7v7h-7zM1461 431h6v6h-6zM1480 431h7v6h-7zM1532 431h7v6h-7zM1480 437h7v7h-7zM1493 437h7v7h-7zM1506 437h7v7h-7zM1519 437h7v7h-7z"/>
<path fill="#b41c2d" d="M1545 164h7v7h-7zM1435 184h6v6h-6zM1435 190h6v7h-6zM1552 190h6v7h-6zM1396 236h6v6h-6zM1617 236h6v6h-6zM1396 242h6v7h-6zM1643 249h6v6h-6zM1643 255h6v7h-6zM1389 262h7v6h-7zM1383 281h6v7h-6zM1376 294h7v7h-7zM1383 294h6v7h-6zM1383 307h6v7h-6zM1383 320h6v7h-6zM1383 340h6v6h-6zM1389 353h7v6h-7zM1389 359h7v7h-7zM1402 379h7v6h-7zM1630 379h6v6h-6zM1402 385h7v7h-7zM1409 392h6v6h-6zM1415 398h7v7h-7zM1422 405h6v6h-6zM1584 405h7v6h-7zM1428 411h7v7h-7zM1435 411h6v7h-6zM1578 411h6v7h-6zM1584 411h7v7h-7zM1454 424h7v7h-7zM1461 424h6v7h-6zM1552 424h6v7h-6zM1558 424h7v7h-7zM1474 431h6v6h-6zM1493 431h7v6h-7zM1506 431h7v6h-7zM1519 431h7v6h-7zM1539 431h6v6h-6z"/>
<path fill="#be3036" d="M1435 171h6v6h-6zM1565 177h6v7h-6zM1578 184h6v6h-6zM1383 236h6v6h-6zM1370 268h6v7h-6zM1357 275h6v6h-6zM1363 288h7v6h-7zM1350 294h7v7h-7zM1363 301h7v6h-7zM1357 327h6v6h-6zM1383 372h6v7h-6zM1636 379h7v6h-7zM1604 418h6v6h-6zM1578 424h6v7h-6zM1441 431h7v6h-7zM1552 437h6v7h-6zM1545 444h7v7h-7zM1552 444h6v7h-6zM1513 451h6v6h-6zM1526 451h6v6h-6zM1487 457h6v7h-6zM1539 457h6v7h-6zM1519 464h7v6h-7z"/>
<path fill="#ba2832" d="M1441 171h7v6h-7zM1552 177h6v7h-6zM1571 197h7v6h-7zM1591 210h6v6h-6zM1597 216h7v7h-7zM1396 223h6v6h-6zM1396 229h6v7h-6zM1630 236h6v6h-6zM1636 242h7v7h-7zM1383 255h6v7h-6zM1363 294h7v7h-7zM1370 340h6v6h-6zM1376 359h7v7h-7zM1383 366h6v6h-6zM1389 379h7v6h-7zM1617 385h6v7h-6zM1623 385h7v7h-7zM1610 398h7v7h-7zM1597 405h7v6h-7zM1591 411h6v7h-6zM1597 411h7v7h-7zM1435 424h6v7h-6zM1448 431h6v6h-6zM1565 431h6v6h-6zM1454 437h7v7h-7zM1539 437h6v7h-6zM1474 444h6v7h-6zM1539 444h6v7h-6z"/>
<path fill="#ab162a" d="M1448 171h6v6h-6zM1539 171h6v6h-6zM1435 197h6v6h-6zM1552 197h6v6h-6zM1422 210h6v6h-6zM1428 210h7v6h-7zM1409 236h6v6h-6zM1604 236h6v6h-6zM1409 242h6v7h-6zM1604 242h6v7h-6zM1610 242h7v7h-7zM1402 255h7v7h-7zM1396 268h6v7h-6zM1396 327h6v6h-6zM1396 333h6v7h-6zM1396 340h6v6h-6zM1402 353h7v6h-7zM1402 359h7v7h-7zM1409 366h6v6h-6zM1643 366h6v6h-6zM1415 379h7v6h-7zM1610 379h7v6h-7zM1617 379h6v6h-6zM1422 385h6v7h-6zM1428 392h7v6h-7zM1435 398h6v7h-6zM1578 398h6v7h-6zM1584 398h7v7h-7zM1448 405h6v6h-6zM1454 411h7v7h-7zM1461 411h6v7h-6zM1552 411h6v7h-6zM1558 411h7v7h-7zM1474 418h6v6h-6zM1480 418h7v6h-7zM1487 418h6v6h-6zM1532 418h7v6h-7zM1539 418h6v6h-6z"/>
<path fill="#a51429" d="M1454 171h7v6h-7zM1532 184h7v6h-7zM1539 184h6v6h-6zM1448 190h6v7h-6zM1428 216h7v7h-7zM1571 223h7v6h-7zM1422 229h6v7h-6zM1578 229h6v7h-6zM1591 236h6v6h-6zM1415 242h7v7h-7zM1409 249h6v6h-6zM1409 255h6v7h-6zM1617 255h6v7h-6zM1643 262h6v6h-6zM1402 268h7v7h-7zM1344 301h6v6h-6zM1344 314h6v6h-6zM1344 327h6v6h-6zM1402 333h7v7h-7zM1344 340h6v6h-6zM1402 340h7v6h-7zM1409 359h6v7h-6zM1422 379h6v6h-6zM1428 385h7v7h-7zM1591 385h6v7h-6zM1597 385h7v7h-7zM1435 392h6v6h-6zM1571 398h7v7h-7zM1454 405h7v6h-7zM1558 405h7v6h-7zM1474 411h6v7h-6zM1480 411h7v7h-7zM1539 411h6v7h-6zM1474 470h6v7h-6zM1487 470h6v7h-6zM1500 470h6v7h-6zM1513 470h6v7h-6zM1526 470h6v7h-6z"/>
<path fill="#ae172a" d="M1532 171h7v6h-7zM1448 177h6v7h-6zM1545 177h7v7h-7zM1428 203h7v7h-7zM1415 216h7v7h-7zM1422 216h6v7h-6zM1591 223h6v6h-6zM1591 229h6v7h-6zM1597 229h7v7h-7zM1597 236h7v6h-7zM1402 242h7v7h-7zM1402 249h7v6h-7zM1630 249h6v6h-6zM1630 255h6v7h-6zM1396 262h6v6h-6zM1389 281h7v7h-7zM1389 288h7v6h-7zM1389 294h7v7h-7zM1389 301h7v6h-7zM1389 307h7v7h-7zM1389 314h7v6h-7zM1396 346h6v7h-6zM1402 366h7v6h-7zM1636 366h7v6h-7zM1409 372h6v7h-6zM1604 385h6v7h-6zM1422 392h6v6h-6zM1604 392h6v6h-6zM1441 405h7v6h-7zM1571 405h7v6h-7zM1578 405h6v6h-6zM1448 411h6v7h-6zM1467 418h7v6h-7zM1545 418h7v6h-7zM1552 418h6v6h-6zM1500 424h6v7h-6zM1506 424h7v7h-7zM1513 424h6v7h-6zM1519 424h7v7h-7z"/>
<path fill="#b72230" d="M1545 171h7v6h-7zM1552 171h6v6h-6zM1422 197h6v6h-6zM1578 197h6v6h-6zM1415 203h7v7h-7zM1422 203h6v7h-6zM1409 210h6v6h-6zM1415 210h7v6h-7zM1409 216h6v7h-6zM1604 229h6v7h-6zM1610 229h7v7h-7zM1389 249h7v6h-7zM1636 249h7v6h-7zM1376 268h7v7h-7zM1370 288h6v6h-6zM1376 288h7v6h-7zM1376 301h7v6h-7zM1376 314h7v6h-7zM1376 327h7v6h-7zM1383 346h6v7h-6zM1389 366h7v6h-7zM1396 392h6v6h-6zM1402 398h7v7h-7zM1409 398h6v7h-6zM1409 405h6v6h-6zM1415 405h7v6h-7zM1415 411h7v7h-7zM1422 418h6v6h-6zM1448 424h6v7h-6zM1565 424h6v7h-6zM1467 431h7v6h-7zM1545 431h7v6h-7zM1552 431h6v6h-6zM1487 437h6v7h-6zM1500 437h6v7h-6zM1513 437h6v7h-6zM1532 437h7v7h-7zM1545 437h7v7h-7z"/>
<path fill="#bf3338" d="M1558 171h7v6h-7zM1571 177h7v7h-7zM1578 190h6v7h-6zM1617 229h6v7h-6zM1623 229h7v7h-7zM1363 275h7v6h-7zM1350 307h7v7h-7zM1363 314h7v6h-7zM1363 327h7v6h-7zM1357 340h6v6h-6zM1370 346h6v7h-6zM1376 372h7v7h-7zM1643 379h6v6h-6zM1578 431h6v6h-6zM1441 437h7v7h-7zM1467 444h7v7h-7zM1487 451h6v6h-6zM1500 451h6v6h-6zM1474 457h6v7h-6zM1506 464h7v6h-7z"/>
<path fill="#bd2d35" d="M1565 171h6v6h-6zM1435 177h6v7h-6zM1396 210h6v6h-6zM1389 236h7v6h-7zM1623 236h7v6h-7zM1370 262h6v6h-6zM1376 262h7v6h-7zM1370 281h6v7h-6zM1357 301h6v6h-6zM1357 314h6v6h-6zM1363 333h7v7h-7zM1370 333h6v7h-6zM1370 353h6v6h-6zM1376 353h7v6h-7zM1383 379h6v6h-6zM1389 385h7v7h-7zM1428 424h7v7h-7zM1584 424h7v7h-7zM1435 431h6v6h-6zM1461 437h6v7h-6zM1558 437h7v7h-7zM1461 444h6v7h-6zM1480 444h7v7h-7zM1532 444h7v7h-7zM1480 451h7v6h-7zM1545 451h7v6h-7zM1500 457h6v7h-6zM1513 457h6v7h-6zM1526 457h6v7h-6z"/>
<path fill="#d86551" d="M1422 177h6v7h-6zM1591 190h6v7h-6zM1370 385h6v7h-6zM1428 444h7v7h-7z"/>
<path fill="#c94741" d="M1428 177h7v7h-7zM1578 177h6v7h-6zM1389 210h7v6h-7zM1370 372h6v7h-6zM1610 418h7v6h-7zM1584 431h7v6h-7zM1441 444h7v7h-7z"/>
<path fill="#b1182b" d="M1441 177h7v7h-7zM1539 177h6v7h-6zM1552 184h6v6h-6zM1571 210h7v6h-7zM1578 210h6v6h-6zM1578 216h6v7h-6zM1584 216h7v7h-7zM1409 223h6v6h-6zM1415 223h7v6h-7zM1584 223h7v6h-7zM1396 249h6v6h-6zM1623 249h7v6h-7zM1396 255h6v7h-6zM1389 268h7v7h-7zM1389 275h7v6h-7zM1344 294h6v7h-6zM1344 307h6v7h-6zM1344 320h6v7h-6zM1389 320h7v7h-7zM1389 327h7v6h-7zM1344 333h6v7h-6zM1389 333h7v7h-7zM1396 353h6v6h-6zM1402 372h7v7h-7zM1636 372h7v7h-7zM1409 379h6v6h-6zM1415 385h7v7h-7zM1610 385h7v7h-7zM1597 392h7v6h-7zM1428 398h7v7h-7zM1597 398h7v7h-7zM1435 405h6v6h-6zM1441 411h7v7h-7zM1565 411h6v7h-6zM1571 411h7v7h-7zM1461 418h6v6h-6zM1480 424h7v7h-7zM1487 424h6v7h-6zM1493 424h7v7h-7zM1526 424h6v7h-6zM1532 424h7v7h-7zM1480 470h7v7h-7zM1493 470h7v7h-7zM1506 470h7v7h-7zM1519 470h7v7h-7z"/>
<path fill="#de735c" d="M1415 184h7v6h-7zM1617 216h6v7h-6zM1357 372h6v7h-6zM1383 405h6v6h-6zM1409 431h6v6h-6zM1441 457h7v7h-7z"/>
<path fill="#c53e3d" d="M1422 184h6v6h-6zM1428 184h7v6h-7zM1591 203h6v7h-6zM1389 216h7v7h-7zM1604 216h6v7h-6zM1389 223h7v6h-7zM1617 223h6v6h-6zM1636 236h7v6h-7zM1350 301h7v6h-7zM1350 314h7v6h-7zM1376 379h7v6h-7zM1383 385h6v7h-6zM1617 398h6v7h-6zM1396 405h6v6h-6zM1402 411h7v7h-7zM1610 411h7v7h-7zM1409 418h6v6h-6zM1428 431h7v6h-7zM1435 437h6v7h-6zM1571 437h7v7h-7zM1558 444h7v7h-7zM1545 457h7v7h-7zM1500 464h6v6h-6zM1513 464h6v6h-6z"/>
<path fill="#b3192c" d="M1441 184h7v6h-7zM1545 184h7v6h-7zM1558 190h7v7h-7zM1558 197h7v6h-7zM1565 197h6v6h-6zM1565 203h6v7h-6zM1571 203h7v7h-7zM1402 229h7v7h-7zM1409 229h6v7h-6zM1402 236h7v6h-7zM1623 242h7v7h-7zM1389 255h7v7h-7zM1383 275h6v6h-6zM1383 288h6v6h-6zM1383 301h6v6h-6zM1383 314h6v6h-6zM1383 327h6v6h-6zM1389 340h7v6h-7zM1389 346h7v7h-7zM1396 359h6v7h-6zM1396 366h6v6h-6zM1630 372h6v7h-6zM1409 385h6v7h-6zM1415 392h7v6h-7zM1422 398h6v7h-6zM1591 398h6v7h-6zM1428 405h7v6h-7zM1591 405h6v6h-6zM1448 418h6v6h-6zM1454 418h7v6h-7zM1558 418h7v6h-7zM1565 418h6v6h-6zM1467 424h7v7h-7zM1474 424h6v7h-6zM1539 424h6v7h-6zM1545 424h7v7h-7zM1487 431h6v6h-6zM1500 431h6v6h-6zM1513 431h6v6h-6zM1526 431h6v6h-6z"/>
<path fill="#b82531" d="M1558 184h7v6h-7zM1428 190h7v7h-7zM1565 190h6v7h-6zM1571 190h7v7h-7zM1428 197h7v6h-7zM1578 203h6v7h-6zM1584 203h7v7h-7zM1584 210h7v6h-7zM1402 216h7v7h-7zM1591 216h6v7h-6zM1402 223h7v6h-7zM1597 223h7v6h-7zM1604 223h6v6h-6zM1389 242h7v7h-7zM1383 249h6v6h-6zM1370 275h6v6h-6zM1376 275h7v6h-7zM1370 301h6v6h-6zM1370 314h6v6h-6zM1370 327h6v6h-6zM1376 340h7v6h-7zM1376 346h7v7h-7zM1383 359h6v7h-6zM1396 385h6v7h-6zM1402 392h7v6h-7zM1610 392h7v6h-7zM1617 392h6v6h-6zM1604 398h6v7h-6zM1604 405h6v6h-6zM1422 411h6v7h-6zM1428 418h7v6h-7zM1571 424h7v7h-7zM1454 431h7v6h-7zM1467 437h7v7h-7zM1474 437h6v7h-6zM1526 437h6v7h-6zM1487 444h6v7h-6zM1500 444h6v7h-6zM1513 444h6v7h-6zM1526 444h6v7h-6z"/>
<path fill="#c13639" d="M1571 184h7v6h-7zM1422 190h6v7h-6zM1409 203h6v7h-6zM1402 210h7v6h-7zM1396 216h6v7h-6zM1383 242h6v7h-6zM1370 249h6v6h-6zM1376 249h7v6h-7zM1357 294h6v7h-6zM1357 307h6v7h-6zM1350 320h7v7h-7zM1363 340h7v6h-7zM1363 346h7v7h-7zM1376 366h7v6h-7zM1389 392h7v6h-7zM1396 398h6v7h-6zM1415 418h7v6h-7zM1422 424h6v7h-6zM1448 437h6v7h-6zM1467 451h7v6h-7zM1474 451h6v6h-6zM1539 451h6v6h-6zM1519 457h7v7h-7zM1493 464h7v6h-7z"/>
<path fill="#d05548" d="M1584 184h7v6h-7zM1383 210h6v6h-6zM1357 249h6v6h-6zM1357 255h6v7h-6zM1363 366h7v6h-7zM1617 418h6v6h-6zM1578 444h6v7h-6zM1448 451h6v6h-6zM1558 457h7v7h-7z"/>
<path fill="#dd7059" d="M1409 190h6v7h-6zM1604 197h6v6h-6zM1617 210h6v6h-6zM1357 379h6v6h-6zM1435 457h6v7h-6z"/>
<path fill="#c84440" d="M1415 190h7v7h-7zM1591 197h6v6h-6zM1396 203h6v7h-6zM1383 229h6v7h-6zM1350 275h7v6h-7zM1350 327h7v6h-7zM1357 353h6v6h-6zM1376 385h7v7h-7zM1617 405h6v6h-6zM1428 437h7v7h-7zM1461 457h6v7h-6zM1487 464h6v6h-6zM1539 464h6v6h-6z"/>
<path fill="#870a24" d="M1480 190h7v7h-7zM1493 190h7v7h-7zM1474 197h6v6h-6zM1480 197h7v6h-7zM1487 197h6v6h-6zM1493 197h7v6h-7zM1500 197h6v6h-6zM1467 203h7v7h-7zM1474 203h6v7h-6zM1506 203h7v7h-7zM1467 210h7v6h-7zM1513 210h6v6h-6zM1461 216h6v7h-6zM1519 216h7v7h-7zM1454 223h7v6h-7zM1526 223h6v6h-6zM1448 236h6v6h-6zM1545 236h7v6h-7zM1552 242h6v7h-6zM1441 249h7v6h-7zM1435 255h6v7h-6zM1571 255h7v7h-7zM1584 262h7v6h-7zM1597 268h7v7h-7zM1428 275h7v6h-7zM1610 275h7v6h-7zM1617 275h6v6h-6zM1636 301h7v6h-7zM1643 307h6v7h-6zM1428 314h7v6h-7zM1636 314h7v6h-7zM1649 314h7v6h-7zM1428 320h7v7h-7zM1643 320h6v7h-6zM1428 327h7v6h-7zM1636 327h7v6h-7zM1428 333h7v7h-7zM1435 346h6v7h-6zM1617 346h6v7h-6zM1623 346h7v7h-7zM1610 353h7v6h-7zM1441 359h7v7h-7zM1591 359h6v7h-6zM1448 366h6v6h-6zM1578 366h6v6h-6zM1454 372h7v7h-7zM1565 372h6v7h-6zM1467 379h7v6h-7zM1552 379h6v6h-6zM1480 385h7v7h-7zM1487 385h6v7h-6zM1493 385h7v7h-7zM1500 385h6v7h-6zM1532 385h7v7h-7zM1539 385h6v7h-6z"/>
<path fill="#c2383a" d="M1584 190h7v7h-7zM1415 197h7v6h-7zM1584 197h7v6h-7zM1402 203h7v7h-7zM1604 210h6v6h-6zM1350 281h7v7h-7zM1357 320h6v7h-6zM1363 359h7v7h-7zM1370 359h6v7h-6zM1383 392h6v6h-6zM1402 405h7v6h-7zM1409 411h6v7h-6zM1604 411h6v7h-6zM1597 418h7v6h-7zM1422 431h6v6h-6zM1571 431h7v6h-7zM1565 437h6v7h-6zM1454 444h7v7h-7zM1565 444h6v7h-6zM1454 451h7v6h-7zM1493 457h7v7h-7zM1506 457h7v7h-7zM1532 464h7v6h-7z"/>
<path fill="#cf5246" d="M1396 197h6v6h-6zM1376 229h7v7h-7zM1370 236h6v6h-6zM1350 346h7v7h-7zM1357 359h6v7h-6zM1376 392h7v6h-7zM1422 437h6v7h-6zM1454 457h7v7h-7zM1467 464h7v6h-7z"/>
<path fill="#d7634f" d="M1402 197h7v6h-7zM1350 353h7v6h-7zM1357 366h6v6h-6zM1448 457h6v7h-6zM1461 464h6v6h-6z"/>
<path fill="#c6413e" d="M1409 197h6v6h-6zM1597 210h7v6h-7zM1357 262h6v6h-6zM1363 262h7v6h-7zM1363 353h7v6h-7zM1370 379h6v6h-6zM1630 385h6v7h-6zM1630 392h6v6h-6zM1591 424h6v7h-6zM1597 424h7v7h-7zM1435 444h6v7h-6zM1461 451h6v6h-6zM1552 451h6v6h-6zM1552 457h6v7h-6z"/>
<path fill="#df765e" d="M1597 197h7v6h-7zM1610 203h7v7h-7zM1623 405h7v6h-7z"/>
<path fill="#cc4c44" d="M1389 203h7v7h-7zM1363 249h7v6h-7zM1357 346h6v7h-6zM1636 385h7v7h-7zM1591 431h6v6h-6zM1578 437h6v7h-6zM1467 457h7v7h-7z"/>
<path fill="#840924" d="M1480 203h7v7h-7zM1487 203h6v7h-6zM1493 203h7v7h-7zM1500 203h6v7h-6zM1474 210h6v6h-6zM1480 210h7v6h-7zM1506 210h7v6h-7zM1467 216h7v7h-7zM1513 216h6v7h-6zM1461 223h6v6h-6zM1454 229h7v7h-7zM1532 229h7v7h-7zM1539 236h6v6h-6zM1448 242h6v7h-6zM1545 242h7v7h-7zM1558 249h7v6h-7zM1565 255h6v7h-6zM1435 262h6v6h-6zM1578 262h6v6h-6zM1591 268h6v7h-6zM1604 275h6v6h-6zM1428 281h7v7h-7zM1617 281h6v7h-6zM1623 281h7v7h-7zM1428 288h7v6h-7zM1623 288h7v6h-7zM1630 288h6v6h-6zM1643 288h6v6h-6zM1428 294h7v7h-7zM1630 294h6v7h-6zM1636 294h7v7h-7zM1649 294h7v7h-7zM1428 301h7v6h-7zM1428 307h7v7h-7zM1630 307h6v7h-6zM1630 320h6v7h-6zM1435 333h6v7h-6zM1630 333h6v7h-6zM1636 333h7v7h-7zM1649 333h7v7h-7zM1435 340h6v6h-6zM1623 340h7v6h-7zM1630 340h6v6h-6zM1643 340h6v6h-6zM1441 346h7v7h-7zM1441 353h7v6h-7zM1597 353h7v6h-7zM1604 353h6v6h-6zM1448 359h6v7h-6zM1584 359h7v7h-7zM1454 366h7v6h-7zM1571 366h7v6h-7zM1461 372h6v7h-6zM1467 372h7v7h-7zM1558 372h7v7h-7zM1474 379h6v6h-6zM1480 379h7v6h-7zM1545 379h7v6h-7zM1506 385h7v7h-7zM1513 385h6v7h-6zM1519 385h7v7h-7zM1526 385h6v7h-6z"/>
<path fill="#cb4942" d="M1597 203h7v7h-7zM1610 216h7v7h-7zM1383 223h6v6h-6zM1376 236h7v6h-7zM1350 340h7v6h-7zM1623 398h7v7h-7zM1604 424h6v7h-6zM1474 464h6v6h-6z"/>
<path fill="#d35a4a" d="M1604 203h6v7h-6zM1604 431h6v6h-6zM1571 444h7v7h-7z"/>
<path fill="#810823" d="M1487 210h6v6h-6zM1493 210h7v6h-7zM1500 210h6v6h-6zM1474 216h6v7h-6zM1480 216h7v7h-7zM1500 216h6v7h-6zM1506 216h7v7h-7zM1467 223h7v6h-7zM1513 223h6v6h-6zM1519 223h7v6h-7zM1461 229h6v7h-6zM1526 229h6v7h-6zM1454 236h7v6h-7zM1532 236h7v6h-7zM1448 249h6v6h-6zM1552 249h6v6h-6zM1441 255h7v7h-7zM1571 262h7v6h-7zM1435 268h6v7h-6zM1584 268h7v7h-7zM1435 275h6v6h-6zM1591 275h6v6h-6zM1597 275h7v6h-7zM1435 281h6v7h-6zM1604 281h6v7h-6zM1610 281h7v7h-7zM1610 288h7v6h-7zM1617 288h6v6h-6zM1617 294h6v7h-6zM1623 294h7v7h-7zM1623 301h7v6h-7zM1630 301h6v6h-6zM1643 301h6v6h-6zM1435 307h6v7h-6zM1636 307h7v7h-7zM1649 307h7v7h-7zM1435 314h6v6h-6zM1623 314h7v6h-7zM1630 314h6v6h-6zM1643 314h6v6h-6zM1435 320h6v7h-6zM1636 320h7v7h-7zM1649 320h7v7h-7zM1435 327h6v6h-6zM1623 327h7v6h-7zM1630 327h6v6h-6zM1643 327h6v6h-6zM1617 333h6v7h-6zM1623 333h7v7h-7zM1441 340h7v6h-7zM1610 340h7v6h-7zM1617 340h6v6h-6zM1604 346h6v7h-6zM1610 346h7v7h-7zM1448 353h6v6h-6zM1591 353h6v6h-6zM1454 359h7v7h-7zM1578 359h6v7h-6zM1461 366h6v6h-6zM1565 366h6v6h-6zM1474 372h6v7h-6zM1487 379h6v6h-6zM1493 379h7v6h-7zM1500 379h6v6h-6zM1506 379h7v6h-7zM1513 379h6v6h-6zM1519 379h7v6h-7zM1526 379h6v6h-6zM1532 379h7v6h-7zM1539 379h6v6h-6z"/>
<path fill="#d25849" d="M1610 210h7v6h-7zM1370 242h6v7h-6zM1383 398h6v7h-6zM1396 418h6v6h-6zM1415 431h7v6h-7zM1584 437h7v7h-7zM1565 457h6v7h-6z"/>
<path fill="#db6b55" d="M1383 216h6v7h-6zM1636 392h7v6h-7zM1571 451h7v6h-7z"/>
<path fill="#7f0823" d="M1487 216h6v7h-6zM1493 216h7v7h-7zM1474 223h6v6h-6zM1480 223h7v6h-7zM1487 223h6v6h-6zM1500 223h6v6h-6zM1506 223h7v6h-7zM1467 229h7v7h-7zM1519 229h7v7h-7zM1461 236h6v6h-6zM1526 236h6v6h-6zM1454 242h7v7h-7zM1539 242h6v7h-6zM1545 249h7v6h-7zM1448 255h6v7h-6zM1558 255h7v7h-7zM1441 262h7v6h-7zM1565 262h6v6h-6zM1441 268h7v7h-7zM1578 268h6v7h-6zM1584 275h7v6h-7zM1597 281h7v7h-7zM1435 288h6v6h-6zM1604 288h6v6h-6zM1435 294h6v7h-6zM1610 294h7v7h-7zM1435 301h6v6h-6zM1610 301h7v6h-7zM1617 301h6v6h-6zM1610 307h7v7h-7zM1617 307h6v7h-6zM1623 307h7v7h-7zM1610 314h7v6h-7zM1617 314h6v6h-6zM1610 320h7v7h-7zM1617 320h6v7h-6zM1623 320h7v7h-7zM1441 327h7v6h-7zM1610 327h7v6h-7zM1617 327h6v6h-6zM1441 333h7v7h-7zM1610 333h7v7h-7zM1604 340h6v6h-6zM1448 346h6v7h-6zM1597 346h7v7h-7zM1454 353h7v6h-7zM1584 353h7v6h-7zM1461 359h6v7h-6zM1571 359h7v7h-7zM1467 366h7v6h-7zM1558 366h7v6h-7zM1480 372h7v7h-7zM1487 372h6v7h-6zM1545 372h7v7h-7zM1552 372h6v7h-6z"/>
<path fill="#e37e64" d="M1376 223h7v6h-7z"/>
<path fill="#7c0722" d="M1493 223h7v6h-7zM1474 229h6v7h-6zM1480 229h7v7h-7zM1487 229h6v7h-6zM1493 229h7v7h-7zM1500 229h6v7h-6zM1506 229h7v7h-7zM1513 229h6v7h-6zM1467 236h7v6h-7zM1519 236h7v6h-7zM1461 242h6v7h-6zM1526 242h6v7h-6zM1532 242h7v7h-7zM1454 249h7v6h-7zM1539 249h6v6h-6zM1552 255h6v7h-6zM1448 262h6v6h-6zM1558 262h7v6h-7zM1571 268h7v7h-7zM1441 275h7v6h-7zM1578 275h6v6h-6zM1441 281h7v7h-7zM1591 281h6v7h-6zM1441 288h7v6h-7zM1597 288h7v6h-7zM1441 294h7v7h-7zM1597 294h7v7h-7zM1604 294h6v7h-6zM1441 301h7v6h-7zM1604 301h6v6h-6zM1441 307h7v7h-7zM1604 307h6v7h-6zM1441 314h7v6h-7zM1604 314h6v6h-6zM1441 320h7v7h-7zM1604 320h6v7h-6zM1604 327h6v6h-6zM1448 333h6v7h-6zM1597 333h7v7h-7zM1604 333h6v7h-6zM1448 340h6v6h-6zM1597 340h7v6h-7zM1454 346h7v7h-7zM1584 346h7v7h-7zM1591 346h6v7h-6zM1578 353h6v6h-6zM1467 359h7v7h-7zM1565 359h6v7h-6zM1474 366h6v6h-6zM1480 366h7v6h-7zM1552 366h6v6h-6zM1493 372h7v7h-7zM1500 372h6v7h-6zM1506 372h7v7h-7zM1513 372h6v7h-6zM1519 372h7v7h-7zM1526 372h6v7h-6zM1532 372h7v7h-7zM1539 372h6v7h-6z"/>
<path fill="#c43b3c" d="M1610 223h7v6h-7zM1376 242h7v7h-7zM1363 255h7v7h-7zM1370 255h6v7h-6zM1350 268h7v7h-7zM1357 268h6v7h-6zM1357 281h6v7h-6zM1350 288h7v6h-7zM1350 333h7v7h-7zM1357 333h6v7h-6zM1370 366h6v6h-6zM1623 392h7v6h-7zM1389 398h7v7h-7zM1610 405h7v6h-7zM1415 424h7v7h-7zM1448 444h6v7h-6zM1558 451h7v6h-7zM1480 457h7v7h-7zM1532 457h7v7h-7zM1480 464h7v6h-7zM1526 464h6v6h-6zM1545 464h7v6h-7z"/>
<path fill="#d6604d" d="M1623 223h7v6h-7zM1396 411h6v7h-6zM1402 418h7v6h-7z"/>
<path fill="#e6866a" d="M1370 229h6v7h-6z"/>
<path fill="#bb2a34" d="M1389 229h7v7h-7zM1630 242h6v7h-6zM1376 255h7v7h-7zM1363 268h7v7h-7zM1363 281h7v7h-7zM1357 288h6v6h-6zM1370 294h6v7h-6zM1363 307h7v7h-7zM1370 307h6v7h-6zM1363 320h7v7h-7zM1370 320h6v7h-6zM1643 372h6v7h-6zM1584 418h7v6h-7zM1591 418h6v6h-6zM1558 431h7v6h-7zM1493 444h7v7h-7zM1506 444h7v7h-7zM1519 444h7v7h-7zM1493 451h7v6h-7zM1506 451h7v6h-7zM1519 451h7v6h-7zM1532 451h7v6h-7z"/>
<path fill="#ce4f45" d="M1630 229h6v7h-6zM1363 372h7v7h-7zM1610 424h7v7h-7zM1441 451h7v6h-7zM1565 451h6v6h-6z"/>
<path fill="#e48066" d="M1363 236h7v6h-7zM1591 437h6v7h-6z"/>
<path fill="#790622" d="M1474 236h6v6h-6zM1480 236h7v6h-7zM1487 236h6v6h-6zM1493 236h7v6h-7zM1500 236h6v6h-6zM1506 236h7v6h-7zM1513 236h6v6h-6zM1467 242h7v7h-7zM1519 242h7v7h-7zM1461 249h6v6h-6zM1526 249h6v6h-6zM1532 249h7v6h-7zM1454 255h7v7h-7zM1539 255h6v7h-6zM1545 255h7v7h-7zM1454 262h7v6h-7zM1552 262h6v6h-6zM1448 268h6v7h-6zM1558 268h7v7h-7zM1565 268h6v7h-6zM1448 275h6v6h-6zM1571 275h7v6h-7zM1448 281h6v7h-6zM1578 281h6v7h-6zM1584 281h7v7h-7zM1584 288h7v6h-7zM1591 288h6v6h-6zM1591 294h6v7h-6zM1591 301h6v6h-6zM1597 301h7v6h-7zM1591 307h6v7h-6zM1597 307h7v7h-7zM1448 314h6v6h-6zM1591 314h6v6h-6zM1597 314h7v6h-7zM1448 320h6v7h-6zM1591 320h6v7h-6zM1597 320h7v7h-7zM1448 327h6v6h-6zM1591 327h6v6h-6zM1597 327h7v6h-7zM1591 333h6v7h-6zM1454 340h7v6h-7zM1584 340h7v6h-7zM1591 340h6v6h-6zM1578 346h6v7h-6zM1461 353h6v6h-6zM1571 353h7v6h-7zM1474 359h6v7h-6zM1558 359h7v7h-7zM1487 366h6v6h-6zM1493 366h7v6h-7zM1500 366h6v6h-6zM1545 366h7v6h-7z"/>
<path fill="#da6853" d="M1363 242h7v7h-7zM1376 398h7v7h-7zM1617 411h6v7h-6zM1415 437h7v7h-7z"/>
<path fill="#760521" d="M1474 242h6v7h-6zM1480 242h7v7h-7zM1487 242h6v7h-6zM1493 242h7v7h-7zM1500 242h6v7h-6zM1506 242h7v7h-7zM1513 242h6v7h-6zM1467 249h7v6h-7zM1474 249h6v6h-6zM1513 249h6v6h-6zM1519 249h7v6h-7zM1461 255h6v7h-6zM1467 255h7v7h-7zM1526 255h6v7h-6zM1532 255h7v7h-7zM1461 262h6v6h-6zM1539 262h6v6h-6zM1545 262h7v6h-7zM1454 268h7v7h-7zM1552 268h6v7h-6zM1558 275h7v6h-7zM1565 275h6v6h-6zM1571 281h7v7h-7zM1448 288h6v6h-6zM1578 288h6v6h-6zM1448 294h6v7h-6zM1578 294h6v7h-6zM1584 294h7v7h-7zM1448 301h6v6h-6zM1584 301h7v6h-7zM1448 307h6v7h-6zM1454 307h7v7h-7zM1584 307h7v7h-7zM1454 314h7v6h-7zM1584 314h7v6h-7zM1454 320h7v7h-7zM1584 320h7v7h-7zM1454 327h7v6h-7zM1584 327h7v6h-7zM1454 333h7v7h-7zM1578 333h6v7h-6zM1584 333h7v7h-7zM1461 340h6v6h-6zM1578 340h6v6h-6zM1461 346h6v7h-6zM1467 346h7v7h-7zM1571 346h7v7h-7zM1467 353h7v6h-7zM1474 353h6v6h-6zM1558 353h7v6h-7zM1565 353h6v6h-6zM1480 359h7v7h-7zM1487 359h6v7h-6zM1493 359h7v7h-7zM1500 359h6v7h-6zM1545 359h7v7h-7zM1552 359h6v7h-6zM1506 366h7v6h-7zM1513 366h6v6h-6zM1519 366h7v6h-7zM1526 366h6v6h-6zM1532 366h7v6h-7zM1539 366h6v6h-6z"/>
<path fill="#730421" d="M1480 249h7v6h-7zM1487 249h6v6h-6zM1493 249h7v6h-7zM1500 249h6v6h-6zM1506 249h7v6h-7zM1474 255h6v7h-6zM1480 255h7v7h-7zM1487 255h6v7h-6zM1493 255h7v7h-7zM1500 255h6v7h-6zM1506 255h7v7h-7zM1513 255h6v7h-6zM1519 255h7v7h-7zM1467 262h7v6h-7zM1526 262h6v6h-6zM1532 262h7v6h-7zM1461 268h6v7h-6zM1539 268h6v7h-6zM1545 268h7v7h-7zM1454 275h7v6h-7zM1461 275h6v6h-6zM1552 275h6v6h-6zM1454 281h7v7h-7zM1558 281h7v7h-7zM1565 281h6v7h-6zM1454 288h7v6h-7zM1461 288h6v6h-6zM1565 288h6v6h-6zM1571 288h7v6h-7zM1454 294h7v7h-7zM1461 294h6v7h-6zM1565 294h6v7h-6zM1571 294h7v7h-7zM1454 301h7v6h-7zM1461 301h6v6h-6zM1571 301h7v6h-7zM1578 301h6v6h-6zM1461 307h6v7h-6zM1571 307h7v7h-7zM1578 307h6v7h-6zM1461 314h6v6h-6zM1571 314h7v6h-7zM1578 314h6v6h-6zM1461 320h6v7h-6zM1571 320h7v7h-7zM1578 320h6v7h-6zM1461 327h6v6h-6zM1571 327h7v6h-7zM1578 327h6v6h-6zM1461 333h6v7h-6zM1467 333h7v7h-7zM1565 333h6v7h-6zM1571 333h7v7h-7zM1467 340h7v6h-7zM1474 340h6v6h-6zM1565 340h6v6h-6zM1571 340h7v6h-7zM1474 346h6v7h-6zM1480 346h7v7h-7zM1558 346h7v7h-7zM1565 346h6v7h-6zM1480 353h7v6h-7zM1487 353h6v6h-6zM1493 353h7v6h-7zM1500 353h6v6h-6zM1506 353h7v6h-7zM1513 353h6v6h-6zM1545 353h7v6h-7zM1552 353h6v6h-6zM1506 359h7v7h-7zM1513 359h6v7h-6zM1519 359h7v7h-7zM1526 359h6v7h-6zM1532 359h7v7h-7zM1539 359h6v7h-6z"/>
<path fill="#700320" d="M1474 262h6v6h-6zM1480 262h7v6h-7zM1487 262h6v6h-6zM1493 262h7v6h-7zM1500 262h6v6h-6zM1506 262h7v6h-7zM1513 262h6v6h-6zM1519 262h7v6h-7zM1467 268h7v7h-7zM1474 268h6v7h-6zM1480 268h7v7h-7zM1487 268h6v7h-6zM1493 268h7v7h-7zM1500 268h6v7h-6zM1506 268h7v7h-7zM1513 268h6v7h-6zM1519 268h7v7h-7zM1526 268h6v7h-6zM1532 268h7v7h-7zM1467 275h7v6h-7zM1474 275h6v6h-6zM1526 275h6v6h-6zM1532 275h7v6h-7zM1539 275h6v6h-6zM1545 275h7v6h-7zM1461 281h6v7h-6zM1467 281h7v7h-7zM1474 281h6v7h-6zM1545 281h7v7h-7zM1552 281h6v7h-6zM1467 288h7v6h-7zM1474 288h6v6h-6zM1552 288h6v6h-6zM1558 288h7v6h-7zM1467 294h7v7h-7zM1552 294h6v7h-6zM1558 294h7v7h-7zM1467 301h7v6h-7zM1558 301h7v6h-7zM1565 301h6v6h-6zM1467 307h7v7h-7zM1558 307h7v7h-7zM1565 307h6v7h-6zM1467 314h7v6h-7zM1558 314h7v6h-7zM1565 314h6v6h-6zM1467 320h7v7h-7zM1558 320h7v7h-7zM1565 320h6v7h-6zM1467 327h7v6h-7zM1558 327h7v6h-7zM1565 327h6v6h-6zM1474 333h6v7h-6zM1552 333h6v7h-6zM1558 333h7v7h-7zM1480 340h7v6h-7zM1552 340h6v6h-6zM1558 340h7v6h-7zM1487 346h6v7h-6zM1493 346h7v7h-7zM1500 346h6v7h-6zM1506 346h7v7h-7zM1513 346h6v7h-6zM1519 346h7v7h-7zM1526 346h6v7h-6zM1532 346h7v7h-7zM1539 346h6v7h-6zM1545 346h7v7h-7zM1552 346h6v7h-6zM1519 353h7v6h-7zM1526 353h6v6h-6zM1532 353h7v6h-7zM1539 353h6v6h-6z"/>
<path fill="#6d0220" d="M1480 275h7v6h-7zM1487 275h6v6h-6zM1493 275h7v6h-7zM1500 275h6v6h-6zM1506 275h7v6h-7zM1513 275h6v6h-6zM1519 275h7v6h-7zM1480 281h7v7h-7zM1487 281h6v7h-6zM1493 281h7v7h-7zM1500 281h6v7h-6zM1506 281h7v7h-7zM1513 281h6v7h-6zM1519 281h7v7h-7zM1526 281h6v7h-6zM1532 281h7v7h-7zM1539 281h6v7h-6zM1480 288h7v6h-7zM1487 288h6v6h-6zM1493 288h7v6h-7zM1500 288h6v6h-6zM1506 288h7v6h-7zM1513 288h6v6h-6zM1519 288h7v6h-7zM1526 288h6v6h-6zM1532 288h7v6h-7zM1539 288h6v6h-6zM1545 288h7v6h-7zM1474 294h6v7h-6zM1480 294h7v7h-7zM1487 294h6v7h-6zM1493 294h7v7h-7zM1500 294h6v7h-6zM1506 294h7v7h-7zM1513 294h6v7h-6zM1519 294h7v7h-7zM1526 294h6v7h-6zM1532 294h7v7h-7zM1539 294h6v7h-6zM1545 294h7v7h-7zM1474 301h6v6h-6zM1480 301h7v6h-7zM1487 301h6v6h-6zM1519 301h7v6h-7zM1526 301h6v6h-6zM1532 301h7v6h-7zM1539 301h6v6h-6zM1545 301h7v6h-7zM1552 301h6v6h-6zM1474 307h6v7h-6zM1480 307h7v7h-7zM1487 307h6v7h-6zM1519 307h7v7h-7zM1526 307h6v7h-6zM1532 307h7v7h-7zM1539 307h6v7h-6zM1545 307h7v7h-7zM1552 307h6v7h-6zM1474 314h6v6h-6zM1480 314h7v6h-7zM1487 314h6v6h-6zM1519 314h7v6h-7zM1526 314h6v6h-6zM1532 314h7v6h-7zM1539 314h6v6h-6zM1545 314h7v6h-7zM1552 314h6v6h-6zM1474 320h6v7h-6zM1480 320h7v7h-7zM1487 320h6v7h-6zM1519 320h7v7h-7zM1526 320h6v7h-6zM1532 320h7v7h-7zM1539 320h6v7h-6zM1545 320h7v7h-7zM1552 320h6v7h-6zM1474 327h6v6h-6zM1480 327h7v6h-7zM1487 327h6v6h-6zM1493 327h7v6h-7zM1500 327h6v6h-6zM1506 327h7v6h-7zM1513 327h6v6h-6zM1519 327h7v6h-7zM1526 327h6v6h-6zM1532 327h7v6h-7zM1539 327h6v6h-6zM1545 327h7v6h-7zM1552 327h6v6h-6zM1480 333h7v7h-7zM1487 333h6v7h-6zM1493 333h7v7h-7zM1500 333h6v7h-6zM1506 333h7v7h-7zM1513 333h6v7h-6zM1519 333h7v7h-7zM1526 333h6v7h-6zM1532 333h7v7h-7zM1539 333h6v7h-6zM1545 333h7v7h-7zM1487 340h6v6h-6zM1493 340h7v6h-7zM1500 340h6v6h-6zM1506 340h7v6h-7zM1513 340h6v6h-6zM1519 340h7v6h-7zM1526 340h6v6h-6zM1532 340h7v6h-7zM1539 340h6v6h-6zM1545 340h7v6h-7z"/>
<path fill="#6a011f" d="M1493 301h7v6h-7zM1500 301h6v6h-6zM1506 301h7v6h-7zM1513 301h6v6h-6zM1493 307h7v7h-7zM1500 307h6v7h-6zM1506 307h7v7h-7zM1513 307h6v7h-6zM1493 314h7v6h-7zM1500 314h6v6h-6zM1506 314h7v6h-7zM1513 314h6v6h-6zM1493 320h7v7h-7zM1500 320h6v7h-6zM1506 320h7v7h-7zM1513 320h6v7h-6z"/>
<path fill="#d55d4c" d="M1350 359h7v7h-7zM1363 379h7v6h-7zM1370 392h6v6h-6zM1389 405h7v6h-7zM1409 424h6v7h-6zM1422 444h6v7h-6zM1435 451h6v6h-6zM1454 464h7v6h-7z"/>
<path fill="#e27b62" d="M1363 385h7v7h-7zM1389 411h7v7h-7zM1402 424h7v7h-7zM1428 451h7v6h-7z"/>
<path fill="#ea8e70" d="M1363 392h7v6h-7zM1422 451h6v6h-6z"/>
<path fill="#f19e7d" d="M1370 398h6v7h-6zM1415 444h7v7h-7z"/>
<path fill="#e17860" d="M1630 398h6v7h-6z"/>
<path fill="#f6af8e" d="M1376 405h7v6h-7zM1409 437h6v7h-6z"/>
<path fill="#f8bb9e" d="M1383 411h6v7h-6zM1402 431h7v6h-7z"/>
<path fill="#f7b99c" d="M1383 418h6v6h-6zM1396 431h6v6h-6z"/>
<path fill="#e8896c" d="M1389 418h7v6h-7zM1396 424h6v7h-6z"/>
<path fill="#f8bda1" d="M1389 424h7v7h-7z"/>
<path fill="#dc6e57" d="M1597 431h7v6h-7z"/>
<path fill="#e98b6e" d="M1584 444h7v7h-7z"/>
<path fill="#e58368" d="M1578 451h6v6h-6z"/></g>
</g>
<defs><linearGradient id="cb1" x1="0" y1="0" x2="0" y2="1"><stop offset="0.0000" stop-color="#67001f"/><stop offset="0.0156" stop-color="#730421"/><stop offset="0.0312" stop-color="#7f0823"/><stop offset="0.0469" stop-color="#8a0b25"/><stop offset="0.0625" stop-color="#960f27"/><stop offset="0.0781" stop-color="#a21328"/><stop offset="0.0938" stop-color="#ae172a"/><stop offset="0.1094" stop-color="#b61f2e"/><stop offset="0.1250" stop-color="#bb2a34"/><stop offset="0.1406" stop-color="#c13639"/><stop offset="0.1562" stop-color="#c6413e"/><stop offset="0.1719" stop-color="#cc4c44"/><stop offset="0.1875" stop-color="#d25849"/><stop offset="0.2031" stop-color="#d7634f"/><stop offset="0.2188" stop-color="#dc6e57"/><stop offset="0.2344" stop-color="#e17860"/><stop offset="0.2500" stop-color="#e58368"/><stop offset="0.2656" stop-color="#ea8e70"/><stop offset="0.2812" stop-color="#ef9979"/><stop offset="0.2969" stop-color="#f3a481"/><stop offset="0.3125" stop-color="#f5ac8b"/><stop offset="0.3281" stop-color="#f7b596"/><stop offset="0.3438" stop-color="#f8bda1"/><stop offset="0.3594" stop-color="#f9c6ac"/><stop offset="0.3750" stop-color="#fbceb7"/><stop offset="0.3906" stop-color="#fcd7c2"/><stop offset="0.4062" stop-color="#fdddcb"/><stop offset="0.4219" stop-color="#fce2d2"/><stop offset="0.4375" stop-color="#fbe6da"/><stop offset="0.4531" stop-color="#faeae1"/><stop offset="0.4688" stop-color="#f9efe9"/><stop offset="0.4844" stop-color="#f8f3f0"/><stop offset="0.5000" stop-color="#f6f7f7"/><stop offset="0.5156" stop-color="#f0f4f6"/><stop offset="0.5312" stop-color="#eaf1f5"/><stop offset="0.5469" stop-color="#e4eef4"/><stop offset="0.5625" stop-color="#deebf2"/><stop offset="0.5781" stop-color="#d8e9f1"/><stop offset="0.5938" stop-color="#d2e6f0"/><stop offset="0.6094" stop-color="#cae1ee"/><stop offset="0.6250" stop-color="#c0dceb"/><stop offset="0.6406" stop-color="#b6d7e8"/><stop offset="0.6562" stop-color="#acd2e5"/><stop offset="0.6719" stop-color="#a2cde3"/><stop offset="0.6875" stop-color="#98c8e0"/><stop offset="0.7031" stop-color="#8dc2dc"/><stop offset="0.7188" stop-color="#81bad8"/><stop offset="0.7344" stop-color="#75b2d4"/><stop offset="0.7500" stop-color="#68abd0"/><stop offset="0.7656" stop-color="#5ca3cb"/><stop offset="0.7812" stop-color="#4f9bc7"/><stop offset="0.7969" stop-color="#4393c3"/><stop offset="0.8125" stop-color="#3e8cbf"/><stop offset="0.8281" stop-color="#3885bc"/><stop offset="0.8438" stop-color="#337eb8"/><stop offset="0.8594" stop-color="#2e77b5"/><stop offset="0.8750" stop-color="#2870b1"/><stop offset="0.8906" stop-color="#2369ad"/><stop offset="0.9062" stop-color="#1e61a5"/><stop offset="0.9219" stop-color="#1a5899"/><stop offset="0.9375" stop-color="#15508d"/><stop offset="0.9531" stop-color="#114781"/><stop offset="0.9688" stop-color="#0d3f76"/><stop offset="0.9844" stop-color="#08366a"/><stop offset="1.0000" stop-color="#053061"/></linearGradient></defs><rect x="459.20" y="154.05" width="16.70" height="331.80" fill="url(#cb1)" stroke="#000" stroke-width="1.67"/><line x1="475.90" y1="202.70" x2="483.00" y2="202.70" stroke="#000" stroke-width="1.67"/><line x1="475.90" y1="251.50" x2="483.00" y2="251.50" stroke="#000" stroke-width="1.67"/><line x1="475.90" y1="300.30" x2="483.00" y2="300.30" stroke="#000" stroke-width="1.67"/><line x1="475.90" y1="349.10" x2="483.00" y2="349.10" stroke="#000" stroke-width="1.67"/><line x1="475.90" y1="397.90" x2="483.00" y2="397.90" stroke="#000" stroke-width="1.67"/><line x1="475.90" y1="446.70" x2="483.00" y2="446.70" stroke="#000" stroke-width="1.67"/>
<defs><linearGradient id="cb2" x1="0" y1="0" x2="0" y2="1"><stop offset="0.0000" stop-color="#67001f"/><stop offset="0.0156" stop-color="#730421"/><stop offset="0.0312" stop-color="#7f0823"/><stop offset="0.0469" stop-color="#8a0b25"/><stop offset="0.0625" stop-color="#960f27"/><stop offset="0.0781" stop-color="#a21328"/><stop offset="0.0938" stop-color="#ae172a"/><stop offset="0.1094" stop-color="#b61f2e"/><stop offset="0.1250" stop-color="#bb2a34"/><stop offset="0.1406" stop-color="#c13639"/><stop offset="0.1562" stop-color="#c6413e"/><stop offset="0.1719" stop-color="#cc4c44"/><stop offset="0.1875" stop-color="#d25849"/><stop offset="0.2031" stop-color="#d7634f"/><stop offset="0.2188" stop-color="#dc6e57"/><stop offset="0.2344" stop-color="#e17860"/><stop offset="0.2500" stop-color="#e58368"/><stop offset="0.2656" stop-color="#ea8e70"/><stop offset="0.2812" stop-color="#ef9979"/><stop offset="0.2969" stop-color="#f3a481"/><stop offset="0.3125" stop-color="#f5ac8b"/><stop offset="0.3281" stop-color="#f7b596"/><stop offset="0.3438" stop-color="#f8bda1"/><stop offset="0.3594" stop-color="#f9c6ac"/><stop offset="0.3750" stop-color="#fbceb7"/><stop offset="0.3906" stop-color="#fcd7c2"/><stop offset="0.4062" stop-color="#fdddcb"/><stop offset="0.4219" stop-color="#fce2d2"/><stop offset="0.4375" stop-color="#fbe6da"/><stop offset="0.4531" stop-color="#faeae1"/><stop offset="0.4688" stop-color="#f9efe9"/><stop offset="0.4844" stop-color="#f8f3f0"/><stop offset="0.5000" stop-color="#f6f7f7"/><stop offset="0.5156" stop-color="#f0f4f6"/><stop offset="0.5312" stop-color="#eaf1f5"/><stop offset="0.5469" stop-color="#e4eef4"/><stop offset="0.5625" stop-color="#deebf2"/><stop offset="0.5781" stop-color="#d8e9f1"/><stop offset="0.5938" stop-color="#d2e6f0"/><stop offset="0.6094" stop-color="#cae1ee"/><stop offset="0.6250" stop-color="#c0dceb"/><stop offset="0.6406" stop-color="#b6d7e8"/><stop offset="0.6562" stop-color="#acd2e5"/><stop offset="0.6719" stop-color="#a2cde3"/><stop offset="0.6875" stop-color="#98c8e0"/><stop offset="0.7031" stop-color="#8dc2dc"/><stop offset="0.7188" stop-color="#81bad8"/><stop offset="0.7344" stop-color="#75b2d4"/><stop offset="0.7500" stop-color="#68abd0"/><stop offset="0.7656" stop-color="#5ca3cb"/><stop offset="0.7812" stop-color="#4f9bc7"/><stop offset="0.7969" stop-color="#4393c3"/><stop offset="0.8125" stop-color="#3e8cbf"/><stop offset="0.8281" stop-color="#3885bc"/><stop offset="0.8438" stop-color="#337eb8"/><stop offset="0.8594" stop-color="#2e77b5"/><stop offset="0.8750" stop-color="#2870b1"/><stop offset="0.8906" stop-color="#2369ad"/><stop offset="0.9062" stop-color="#1e61a5"/><stop offset="0.9219" stop-color="#1a5899"/><stop offset="0.9375" stop-color="#15508d"/><stop offset="0.9531" stop-color="#114781"/><stop offset="0.9688" stop-color="#0d3f76"/><stop offset="0.9844" stop-color="#08366a"/><stop offset="1.0000" stop-color="#053061"/></linearGradient></defs><rect x="1097.90" y="154.05" width="16.30" height="331.80" fill="url(#cb2)" stroke="#000" stroke-width="1.67"/><line x1="1114.20" y1="224.90" x2="1121.30" y2="224.90" stroke="#000" stroke-width="1.67"/><line x1="1114.20" y1="315.80" x2="1121.30" y2="315.80" stroke="#000" stroke-width="1.67"/><line x1="1114.20" y1="406.70" x2="1121.30" y2="406.70" stroke="#000" stroke-width="1.67"/>
<defs><linearGradient id="cb3" x1="0" y1="0" x2="0" y2="1"><stop offset="0.0000" stop-color="#67001f"/><stop offset="0.0156" stop-color="#730421"/><stop offset="0.0312" stop-color="#7f0823"/><stop offset="0.0469" stop-color="#8a0b25"/><stop offset="0.0625" stop-color="#960f27"/><stop offset="0.0781" stop-color="#a21328"/><stop offset="0.0938" stop-color="#ae172a"/><stop offset="0.1094" stop-color="#b61f2e"/><stop offset="0.1250" stop-color="#bb2a34"/><stop offset="0.1406" stop-color="#c13639"/><stop offset="0.1562" stop-color="#c6413e"/><stop offset="0.1719" stop-color="#cc4c44"/><stop offset="0.1875" stop-color="#d25849"/><stop offset="0.2031" stop-color="#d7634f"/><stop offset="0.2188" stop-color="#dc6e57"/><stop offset="0.2344" stop-color="#e17860"/><stop offset="0.2500" stop-color="#e58368"/><stop offset="0.2656" stop-color="#ea8e70"/><stop offset="0.2812" stop-color="#ef9979"/><stop offset="0.2969" stop-color="#f3a481"/><stop offset="0.3125" stop-color="#f5ac8b"/><stop offset="0.3281" stop-color="#f7b596"/><stop offset="0.3438" stop-color="#f8bda1"/><stop offset="0.3594" stop-color="#f9c6ac"/><stop offset="0.3750" stop-color="#fbceb7"/><stop offset="0.3906" stop-color="#fcd7c2"/><stop offset="0.4062" stop-color="#fdddcb"/><stop offset="0.4219" stop-color="#fce2d2"/><stop offset="0.4375" stop-color="#fbe6da"/><stop offset="0.4531" stop-color="#faeae1"/><stop offset="0.4688" stop-color="#f9efe9"/><stop offset="0.4844" stop-color="#f8f3f0"/><stop offset="0.5000" stop-color="#f6f7f7"/><stop offset="0.5156" stop-color="#f0f4f6"/><stop offset="0.5312" stop-color="#eaf1f5"/><stop offset="0.5469" stop-color="#e4eef4"/><stop offset="0.5625" stop-color="#deebf2"/><stop offset="0.5781" stop-color="#d8e9f1"/><stop offset="0.5938" stop-color="#d2e6f0"/><stop offset="0.6094" stop-color="#cae1ee"/><stop offset="0.6250" stop-color="#c0dceb"/><stop offset="0.6406" stop-color="#b6d7e8"/><stop offset="0.6562" stop-color="#acd2e5"/><stop offset="0.6719" stop-color="#a2cde3"/><stop offset="0.6875" stop-color="#98c8e0"/><stop offset="0.7031" stop-color="#8dc2dc"/><stop offset="0.7188" stop-color="#81bad8"/><stop offset="0.7344" stop-color="#75b2d4"/><stop offset="0.7500" stop-color="#68abd0"/><stop offset="0.7656" stop-color="#5ca3cb"/><stop offset="0.7812" stop-color="#4f9bc7"/><stop offset="0.7969" stop-color="#4393c3"/><stop offset="0.8125" stop-color="#3e8cbf"/><stop offset="0.8281" stop-color="#3885bc"/><stop offset="0.8438" stop-color="#337eb8"/><stop offset="0.8594" stop-color="#2e77b5"/><stop offset="0.8750" stop-color="#2870b1"/><stop offset="0.8906" stop-color="#2369ad"/><stop offset="0.9062" stop-color="#1e61a5"/><stop offset="0.9219" stop-color="#1a5899"/><stop offset="0.9375" stop-color="#15508d"/><stop offset="0.9531" stop-color="#114781"/><stop offset="0.9688" stop-color="#0d3f76"/><stop offset="0.9844" stop-color="#08366a"/><stop offset="1.0000" stop-color="#053061"/></linearGradient></defs><rect x="1735.80" y="154.05" width="16.40" height="331.80" fill="url(#cb3)" stroke="#000" stroke-width="1.67"/><line x1="1752.20" y1="156.90" x2="1759.30" y2="156.90" stroke="#000" stroke-width="1.67"/><line x1="1752.20" y1="238.44" x2="1759.30" y2="238.44" stroke="#000" stroke-width="1.67"/><line x1="1752.20" y1="319.98" x2="1759.30" y2="319.98" stroke="#000" stroke-width="1.67"/><line x1="1752.20" y1="401.52" x2="1759.30" y2="401.52" stroke="#000" stroke-width="1.67"/><line x1="1752.20" y1="483.06" x2="1759.30" y2="483.06" stroke="#000" stroke-width="1.67"/>
<g class="t"><text><tspan x="704.54" y="37.20" font-size="30.9" textLength="82.07" lengthAdjust="spacingAndGlyphs">Circle</tspan> <tspan x="797.10" y="37.20" font-size="30.9" textLength="26.61" lengthAdjust="spacingAndGlyphs">—</tspan> <tspan x="834.25" y="37.20" font-size="30.9" textLength="128.43" lengthAdjust="spacingAndGlyphs">Multigrid</tspan> <tspan x="972.62" y="37.20" font-size="30.9" textLength="28.54" lengthAdjust="spacingAndGlyphs">(8</tspan> <tspan x="1011.24" y="37.20" font-size="30.9" textLength="130.80" lengthAdjust="spacingAndGlyphs">V-cycles)</tspan></text>
<text><tspan x="185.96" y="99.80" font-size="24.3" textLength="47.11" lengthAdjust="spacingAndGlyphs">RHS</tspan> <tspan x="248.73" y="99.80" font-size="24.3" font-style="italic" textLength="7.87" lengthAdjust="spacingAndGlyphs">f</tspan></text>
<text><tspan x="714.37" y="99.80" font-size="24.3" textLength="93.60" lengthAdjust="spacingAndGlyphs">Solution</tspan> <tspan x="822.90" y="99.80" font-size="24.3" textLength="54.04" lengthAdjust="spacingAndGlyphs">(MG,</tspan> <tspan x="884.03" y="99.80" font-size="24.3" textLength="13.16" lengthAdjust="spacingAndGlyphs">8</tspan> <tspan x="904.84" y="99.80" font-size="24.3" textLength="102.79" lengthAdjust="spacingAndGlyphs">V-cycles)</tspan></text>
<text><tspan x="1429.78" y="98.90" font-size="24.3" textLength="57.15" lengthAdjust="spacingAndGlyphs">Error</tspan> <tspan x="1501.83" y="98.90" font-size="24.3" font-style="italic" textLength="7.87" lengthAdjust="spacingAndGlyphs">f</tspan> <tspan x="1513.40" y="99.70" font-size="24.3" textLength="18.13" lengthAdjust="spacingAndGlyphs">−</tspan> <tspan x="1536.96" y="98.90" font-size="24.3" font-style="italic" textLength="15.55" lengthAdjust="spacingAndGlyphs">A</tspan><tspan x="1551.79" y="98.90" font-size="20.0" font-style="italic" textLength="16.45" lengthAdjust="spacingAndGlyphs">ψ</tspan><tspan x="1558.90" y="98.60" font-size="30.0" textLength="7.18" lengthAdjust="spacingAndGlyphs">ˆ</tspan></text>
<text><tspan x="491.10" y="210.70" font-size="21.9" textLength="32.57" lengthAdjust="spacingAndGlyphs">0.9</tspan></text>
<text><tspan x="491.10" y="259.50" font-size="21.9" textLength="32.57" lengthAdjust="spacingAndGlyphs">0.8</tspan></text>
<text><tspan x="491.10" y="308.30" font-size="21.9" textLength="32.57" lengthAdjust="spacingAndGlyphs">0.7</tspan></text>
<text><tspan x="491.10" y="357.10" font-size="21.9" textLength="32.57" lengthAdjust="spacingAndGlyphs">0.6</tspan></text>
<text><tspan x="491.10" y="405.90" font-size="21.9" textLength="32.57" lengthAdjust="spacingAndGlyphs">0.5</tspan></text>
<text><tspan x="491.10" y="454.70" font-size="21.9" textLength="32.57" lengthAdjust="spacingAndGlyphs">0.4</tspan></text>
<text><tspan x="1129.62" y="232.90" font-size="21.9" textLength="15.71" lengthAdjust="spacingAndGlyphs">−</tspan><tspan x="1146.05" y="232.90" font-size="21.9" textLength="58.62" lengthAdjust="spacingAndGlyphs">0.164</tspan></text>
<text><tspan x="1129.62" y="323.80" font-size="21.9" textLength="15.71" lengthAdjust="spacingAndGlyphs">−</tspan><tspan x="1146.05" y="323.80" font-size="21.9" textLength="58.62" lengthAdjust="spacingAndGlyphs">0.166</tspan></text>
<text><tspan x="1129.62" y="414.70" font-size="21.9" textLength="15.71" lengthAdjust="spacingAndGlyphs">−</tspan><tspan x="1146.05" y="414.70" font-size="21.9" textLength="58.62" lengthAdjust="spacingAndGlyphs">0.168</tspan></text>
<text><tspan x="1767.10" y="164.90" font-size="21.9" textLength="71.66" lengthAdjust="spacingAndGlyphs">0.0004</tspan></text>
<text><tspan x="1767.10" y="246.44" font-size="21.9" textLength="71.66" lengthAdjust="spacingAndGlyphs">0.0002</tspan></text>
<text><tspan x="1767.10" y="327.98" font-size="21.9" textLength="71.66" lengthAdjust="spacingAndGlyphs">0.0000</tspan></text>
<text><tspan x="1767.60" y="409.52" font-size="21.9" textLength="15.95" lengthAdjust="spacingAndGlyphs">−</tspan><tspan x="1783.80" y="409.52" font-size="21.9" textLength="71.66" lengthAdjust="spacingAndGlyphs">0.0002</tspan></text>
<text><tspan x="1767.60" y="491.06" font-size="21.9" textLength="15.95" lengthAdjust="spacingAndGlyphs">−</tspan><tspan x="1783.80" y="491.06" font-size="21.9" textLength="71.66" lengthAdjust="spacingAndGlyphs">0.0004</tspan></text></g>
</svg></body></html>
